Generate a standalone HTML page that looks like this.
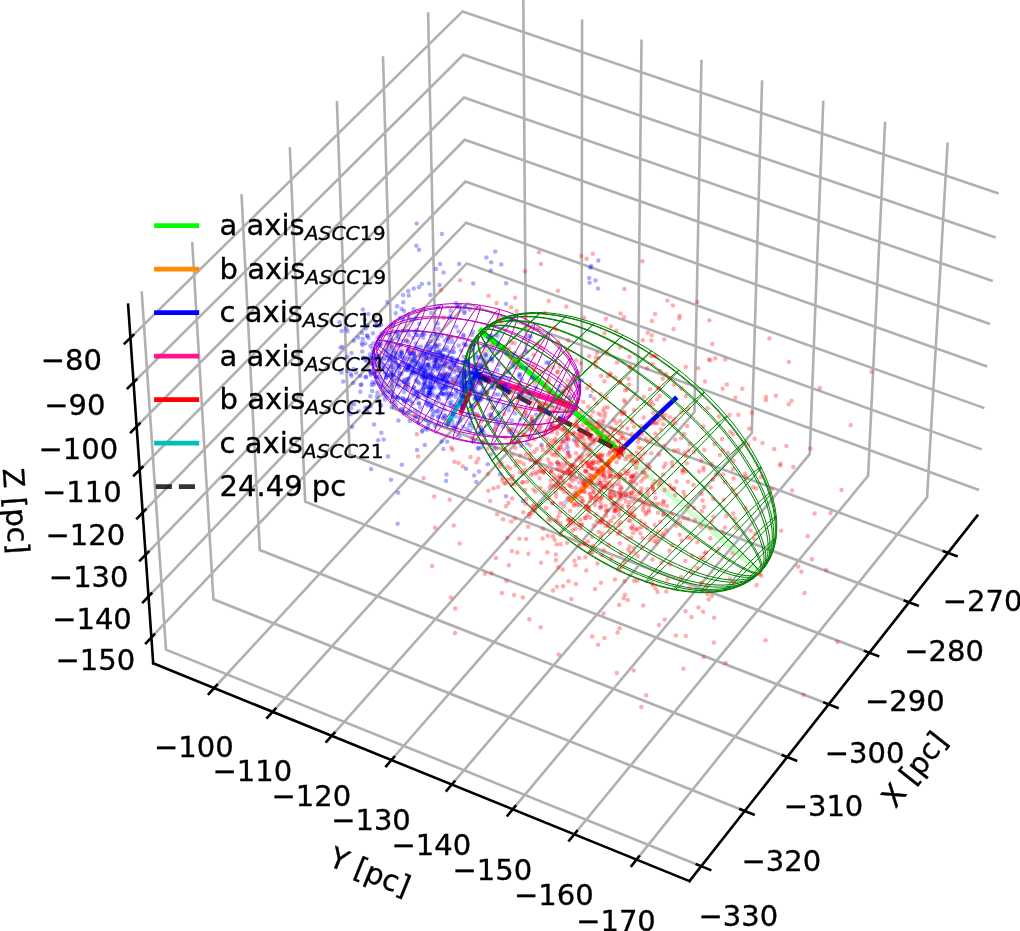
<!DOCTYPE html>
<html><head><meta charset="utf-8"><title>ASCC 19 / ASCC 21 ellipsoids</title>
<style>html,body{margin:0;padding:0;background:#fff}svg{display:block}</style></head>
<body>
<svg width="1020" height="931" viewBox="0 0 1020 931" style="display:block;font-family:'DejaVu Sans','Liberation Sans',sans-serif" stroke-linejoin="round">
<rect width="1020" height="931" fill="#fff"/>
<path d="M701.2 866.2L166 649.7L141.7 291.4M744.7 811L213.4 599.3L192.2 242.2M787.2 757.1L259.8 550L241.5 194.1M828.7 704.3L305.2 501.7L289.8 147.1M869.4 652.7L349.6 454.5L336.9 101.1M909.1 602.3L393.1 408.3L383 56.2M948 552.9L435.7 363L428.1 12.3M947.6 142.7L927.1 497.3L636.5 859.6M885.1 121.7L868.1 475.7L574.3 834.3M823.3 100.8L809.7 454.2L512.7 809.3M762.1 80.2L751.8 433L451.8 784.5M701.5 59.8L694.5 412L391.4 760M641.5 39.6L637.8 391.2L331.8 735.8M582.1 19.6L581.6 370.6L272.7 711.8M523.3 -0.2L525.9 350.2L214.2 688M151.4 637.4L467.4 303.5L979 490M148.6 596.4L466.7 263.4L981.7 449.4M145.6 554.8L466.1 222.7L984.4 408.1M142.7 512.6L465.4 181.6L987.2 366.4M139.7 469.8L464.7 139.8L990 324M136.6 426.5L464 97.6L992.8 281.1M133.5 382.5L463.3 54.8L995.7 237.6M130.4 337.9L462.6 11.4L998.6 193.5" fill="none" stroke="#b0b0b0" stroke-width="2.6" stroke-linejoin="miter"/>
<path d="M128.1 304.7L153.2 663.3M689.5 881.1L153.2 663.3M689.5 881.1L977.3 515.7" fill="none" stroke="#000" stroke-width="2.6" stroke-linecap="square"/>
<path d="M710.2 869.9L696.8 864.4M753.6 814.6L740.3 809.3M796 760.5L782.8 755.3M837.5 707.7L824.4 702.6M878.1 656L865 651.1M917.7 605.5L904.8 600.7M956.5 556.1L943.7 551.3M631.5 865.9L639 856.5M569.2 840.5L576.8 831.2M507.6 815.5L515.3 806.2M446.6 790.6L454.4 781.5M386.2 766.1L394.1 757M326.5 741.7L334.4 732.8M267.3 717.7L275.3 708.8M208.8 693.9L216.9 685.1M146 643.2L154.2 634.5M143.1 602.1L151.3 593.5M140.1 560.5L148.4 551.9M137.1 518.3L145.5 509.7M134 475.5L142.5 467M131 432.2L139.5 423.6M127.8 388.2L136.4 379.6M124.7 343.5L133.3 335.1" fill="none" stroke="#000" stroke-width="2.6" stroke-linecap="square"/>
<path d="M619.7 451.1L759.7 572.6" stroke="#00ff00" stroke-width="5.3" stroke-linecap="square" fill="none" stroke-opacity="0.2"/>
<path d="M619.7 451.1L666.4 403.7" stroke="#ff8c00" stroke-width="4.7" stroke-linecap="square" fill="none" stroke-opacity="0.2"/>
<path d="M619.7 451.1L564.7 502.9" stroke="#0000ff" stroke-width="4.7" stroke-linecap="square" fill="none" stroke-opacity="0.2"/>
<path d="M476.2 374.3L377.1 340.6" stroke="#ff1493" stroke-width="5.3" stroke-linecap="square" fill="none" stroke-opacity="0.2"/>
<path d="M476.2 374.3L491.4 336.2" stroke="#ff0000" stroke-width="4.7" stroke-linecap="square" fill="none" stroke-opacity="0.2"/>
<path d="M476.2 374.3L504.9 325.3" stroke="#00bfbf" stroke-width="4.7" stroke-linecap="square" fill="none" stroke-opacity="0.2"/>
<path d="M619.7 451.1L481.4 331" stroke="#00ff00" stroke-width="5.3" stroke-linecap="square" fill="none"/>
<path d="M619.7 451.1L571 500.5" stroke="#ff8c00" stroke-width="4.7" stroke-linecap="square" fill="none"/>
<path d="M619.7 451.1L675.1 398.9" stroke="#0000ff" stroke-width="4.7" stroke-linecap="square" fill="none"/>
<path d="M476.2 374.3L575.6 408.2" stroke="#ff1493" stroke-width="5.3" stroke-linecap="square" fill="none"/>
<path d="M476.2 374.3L461.5 411.5" stroke="#ff0000" stroke-width="4.7" stroke-linecap="square" fill="none"/>
<path d="M476.2 374.3L447.1 424.2" stroke="#00bfbf" stroke-width="4.7" stroke-linecap="square" fill="none"/>
<path d="M476.2 374.3L619.7 451.1" stroke="#000" stroke-opacity="0.8" stroke-width="4.7" stroke-dasharray="16.1 6.96" fill="none"/>
<path d="M575.6 408.2L574.6 410.1L573.4 411.9L571.9 413.6L570.1 415.1L568.1 416.6L565.8 418L563.3 419.2L560.5 420.3L557.5 421.3L554.3 422.1L550.9 422.9L547.3 423.4L543.5 423.9L539.5 424.2L535.4 424.4L531.1 424.4L526.7 424.3L522.1 424.1L517.4 423.8L512.6 423.3L507.7 422.6L502.7 421.9L497.7 421L492.6 420L487.4 418.9L482.2 417.6L477.1 416.2L471.9 414.7L466.7 413.1L461.5 411.5L456.4 409.7L451.4 407.8L446.4 405.8L441.5 403.7L436.7 401.6L432 399.3L427.4 397L422.9 394.7L418.6 392.3L414.5 389.8L410.5 387.3L406.7 384.8L403 382.2L399.6 379.6L396.3 377L393.3 374.4L390.5 371.8L388 369.1L385.6 366.5L383.5 363.9L381.7 361.4L380.1 358.9L378.8 356.4L377.7 353.9L377 351.5L376.4 349.2L376.2 346.9L376.2 344.7L376.5 342.6L377.1 340.6M575.6 408.2L574.2 410.9L572.4 413.5L570.5 416L568.2 418.4L565.7 420.6L563 422.7L560 424.7L556.8 426.6L553.4 428.3L549.8 429.9L546 431.3L542 432.5L537.8 433.6L533.4 434.5L528.9 435.3L524.3 435.9L519.5 436.3L514.6 436.6L509.7 436.7L504.6 436.6L499.5 436.4L494.3 435.9L489 435.4L483.7 434.6L478.4 433.7L473.1 432.6L467.8 431.4L462.6 430L457.3 428.5L452.1 426.8L447 425L442 423L437.1 420.9L432.2 418.7L427.5 416.3L422.9 413.9L418.5 411.3L414.2 408.6L410.1 405.9L406.2 403L402.4 400.1L398.9 397.1L395.5 394L392.4 390.9L389.5 387.8L386.8 384.6L384.4 381.3L382.2 378.1L380.3 374.8L378.7 371.5L377.3 368.3L376.2 365L375.3 361.8L374.7 358.6L374.4 355.5L374.4 352.3L374.7 349.3L375.2 346.3L376 343.4L377.1 340.6M575.6 408.2L573.9 411.3L571.9 414.4L569.6 417.3L567 420.1L564.2 422.8L561.2 425.3L558 427.8L554.5 430L550.8 432.1L546.9 434.1L542.8 435.9L538.6 437.5L534.1 438.9L529.5 440.2L524.8 441.3L519.9 442.2L514.9 442.9L509.9 443.5L504.7 443.8L499.4 444L494.1 443.9L488.7 443.7L483.3 443.3L477.9 442.7L472.5 441.9L467.1 440.9L461.7 439.7L456.4 438.4L451.1 436.9L445.9 435.2L440.8 433.4L435.7 431.3L430.8 429.2L426 426.9L421.4 424.4L416.8 421.8L412.5 419.1L408.3 416.2L404.3 413.3L400.5 410.2L396.9 407L393.6 403.8L390.4 400.5L387.5 397L384.8 393.6L382.4 390.1L380.3 386.5L378.3 382.9L376.7 379.3L375.3 375.6L374.3 372L373.4 368.3L372.9 364.7L372.7 361.1L372.7 357.5L373 354L373.6 350.5L374.5 347.1L375.7 343.8L377.1 340.6M575.6 408.2L573.8 411.3L571.7 414.4L569.3 417.3L566.7 420.1L563.9 422.8L560.7 425.4L557.4 427.8L553.8 430.1L550.1 432.3L546.1 434.2L541.9 436L537.6 437.7L533 439.1L528.4 440.4L523.6 441.5L518.6 442.4L513.5 443.2L508.4 443.7L503.1 444.1L497.8 444.2L492.4 444.2L486.9 444L481.5 443.6L476 443L470.5 442.2L465.1 441.2L459.6 440L454.3 438.7L448.9 437.2L443.7 435.5L438.5 433.6L433.5 431.6L428.5 429.4L423.7 427.1L419.1 424.6L414.6 422L410.2 419.3L406.1 416.4L402.1 413.4L398.4 410.3L394.8 407.1L391.5 403.9L388.5 400.5L385.6 397.1L383 393.6L380.7 390.1L378.6 386.5L376.8 382.9L375.3 379.2L374 375.6L373.1 371.9L372.4 368.3L372 364.7L371.8 361.1L372 357.5L372.5 354L373.2 350.5L374.2 347.1L375.5 343.8L377.1 340.6M575.6 408.2L574 410.9L572 413.5L569.8 416.1L567.3 418.5L564.6 420.8L561.6 422.9L558.4 425L555 426.9L551.3 428.6L547.5 430.2L543.4 431.7L539.2 433L534.7 434.1L530.2 435.1L525.4 435.9L520.5 436.5L515.5 437L510.4 437.3L505.2 437.4L499.9 437.3L494.6 437.1L489.2 436.7L483.7 436.1L478.3 435.4L472.8 434.4L467.3 433.4L461.9 432.1L456.5 430.7L451.2 429.1L445.9 427.4L440.7 425.6L435.6 423.6L430.6 421.4L425.8 419.2L421.1 416.8L416.5 414.3L412.1 411.7L407.9 409L403.9 406.1L400.1 403.2L396.5 400.3L393.1 397.2L389.9 394.1L387 391L384.3 387.8L381.9 384.5L379.8 381.3L377.9 378L376.3 374.7L374.9 371.4L373.9 368.1L373.1 364.9L372.6 361.6L372.4 358.5L372.5 355.3L372.8 352.2L373.5 349.2L374.4 346.2L375.6 343.4L377.1 340.6M575.6 408.2L574.3 410.1L572.7 411.9L570.9 413.7L568.7 415.3L566.4 416.8L563.7 418.2L560.9 419.5L557.8 420.6L554.4 421.7L550.9 422.6L547.1 423.3L543.2 424L539 424.5L534.7 424.8L530.2 425.1L525.5 425.1L520.7 425.1L515.8 424.9L510.8 424.5L505.7 424L500.5 423.4L495.2 422.7L489.8 421.8L484.5 420.8L479.1 419.6L473.7 418.3L468.3 416.9L462.9 415.4L457.5 413.8L452.2 412.1L447 410.2L441.9 408.3L436.8 406.2L431.9 404.1L427.1 401.9L422.4 399.6L417.9 397.3L413.5 394.8L409.4 392.4L405.4 389.9L401.6 387.3L398 384.7L394.6 382.1L391.5 379.5L388.6 376.8L386 374.1L383.6 371.5L381.4 368.9L379.5 366.2L377.9 363.6L376.6 361.1L375.5 358.5L374.7 356.1L374.2 353.6L374 351.3L374.1 349L374.4 346.8L375 344.6L375.9 342.5L377.1 340.6M575.6 408.2L574.8 409L573.8 409.8L572.4 410.5L570.8 411L569 411.5L566.8 411.9L564.4 412.1L561.8 412.3L559 412.4L555.9 412.3L552.5 412.2L549 411.9L545.2 411.5L541.3 411.1L537.2 410.5L532.9 409.8L528.4 409.1L523.8 408.2L519.1 407.3L514.2 406.2L509.2 405.1L504.2 403.8L499 402.5L493.8 401.1L488.5 399.7L483.2 398.1L477.9 396.5L472.6 394.9L467.2 393.1L462 391.4L456.7 389.6L451.5 387.7L446.4 385.8L441.3 383.9L436.4 381.9L431.6 379.9L426.9 377.9L422.3 375.9L417.9 373.9L413.6 371.9L409.6 369.9L405.7 368L402 366L398.6 364.1L395.3 362.2L392.3 360.3L389.5 358.5L387 356.7L384.7 355L382.6 353.3L380.9 351.7L379.3 350.2L378.1 348.7L377.1 347.3L376.4 345.9L376 344.7L375.9 343.5L376 342.5L376.4 341.5L377.1 340.6M575.6 408.2L575.4 407.8L575 407.4L574.3 406.9L573.2 406.3L572 405.6L570.4 404.8L568.6 403.9L566.6 403L564.3 402L561.7 400.9L558.9 399.7L555.9 398.4L552.6 397.1L549.2 395.7L545.5 394.3L541.6 392.8L537.5 391.2L533.3 389.6L528.9 387.9L524.4 386.2L519.7 384.5L514.9 382.8L510 381L505 379.2L499.9 377.4L494.7 375.6L489.5 373.7L484.2 371.9L478.9 370.1L473.7 368.3L468.4 366.5L463.1 364.7L457.9 363L452.8 361.3L447.7 359.6L442.7 358L437.7 356.4L432.9 354.9L428.3 353.4L423.7 352L419.3 350.6L415.1 349.3L411 348.1L407.2 347L403.5 345.9L400 344.9L396.8 344L393.7 343.2L390.9 342.5L388.4 341.9L386.1 341.3L384 340.8L382.2 340.5L380.7 340.2L379.4 340L378.4 340L377.7 340L377.2 340.1L377 340.3L377.1 340.6M575.6 408.2L576.1 406.7L576.2 405.1L576.1 403.4L575.7 401.7L575 399.9L574.1 398L572.9 396L571.4 394L569.7 391.9L567.7 389.8L565.4 387.6L562.9 385.4L560.1 383.1L557.1 380.8L553.9 378.5L550.5 376.2L546.8 373.9L543 371.6L539 369.3L534.8 367L530.4 364.7L525.8 362.4L521.2 360.2L516.4 358L511.5 355.9L506.5 353.8L501.4 351.7L496.2 349.8L491 347.8L485.7 346L480.4 344.3L475.1 342.6L469.8 341L464.6 339.5L459.3 338.1L454.1 336.8L449 335.7L444 334.6L439 333.6L434.2 332.8L429.5 332L424.9 331.4L420.4 330.9L416.1 330.5L412 330.3L408.1 330.1L404.4 330.1L400.8 330.2L397.5 330.5L394.4 330.8L391.6 331.3L388.9 331.9L386.5 332.6L384.4 333.4L382.5 334.3L380.9 335.4L379.5 336.5L378.5 337.8L377.6 339.1L377.1 340.6M575.6 408.2L576.6 405.7L577.3 403.2L577.7 400.6L577.9 397.9L577.7 395.1L577.3 392.3L576.6 389.5L575.6 386.5L574.4 383.6L572.9 380.6L571.1 377.6L569 374.6L566.7 371.6L564.1 368.6L561.3 365.6L558.3 362.6L555 359.7L551.5 356.7L547.8 353.9L543.9 351.1L539.8 348.3L535.5 345.7L531.1 343.1L526.5 340.6L521.7 338.2L516.9 335.8L511.9 333.6L506.8 331.5L501.7 329.6L496.4 327.7L491.2 326L485.8 324.4L480.5 323L475.1 321.6L469.8 320.5L464.4 319.5L459.1 318.6L453.9 317.9L448.7 317.4L443.6 317L438.6 316.8L433.7 316.7L428.9 316.8L424.2 317L419.7 317.4L415.4 318L411.2 318.7L407.3 319.6L403.5 320.6L399.9 321.8L396.5 323.1L393.4 324.5L390.5 326.1L387.8 327.8L385.4 329.7L383.2 331.6L381.3 333.7L379.6 335.9L378.2 338.2L377.1 340.6M575.6 408.2L577 405.1L578.1 401.9L578.9 398.7L579.4 395.4L579.6 392L579.6 388.6L579.3 385.1L578.7 381.6L577.8 378.1L576.6 374.6L575.2 371.1L573.4 367.5L571.4 364L569.2 360.5L566.7 357.1L563.9 353.7L560.9 350.4L557.7 347.1L554.2 343.9L550.5 340.8L546.6 337.7L542.5 334.8L538.3 332L533.8 329.3L529.2 326.7L524.5 324.3L519.6 321.9L514.6 319.8L509.5 317.8L504.3 315.9L499.1 314.2L493.7 312.7L488.3 311.3L482.9 310.1L477.5 309.1L472.1 308.3L466.6 307.6L461.3 307.2L455.9 306.9L450.6 306.8L445.4 306.9L440.3 307.2L435.3 307.7L430.3 308.3L425.6 309.1L420.9 310.1L416.4 311.3L412.1 312.7L408 314.2L404 315.9L400.3 317.7L396.8 319.8L393.4 321.9L390.4 324.2L387.5 326.6L384.9 329.2L382.6 331.9L380.5 334.7L378.6 337.6L377.1 340.6M575.6 408.2L577.2 404.9L578.4 401.5L579.4 398L580.1 394.5L580.6 390.9L580.7 387.3L580.6 383.6L580.1 379.9L579.4 376.2L578.4 372.5L577.1 368.8L575.6 365.1L573.7 361.5L571.6 357.8L569.2 354.3L566.6 350.7L563.8 347.3L560.7 343.9L557.3 340.6L553.8 337.4L550 334.2L546 331.2L541.8 328.4L537.5 325.6L533 323L528.3 320.5L523.5 318.2L518.5 316L513.5 314L508.3 312.1L503.1 310.4L497.8 308.9L492.4 307.6L487 306.5L481.5 305.5L476 304.7L470.6 304.2L465.1 303.8L459.7 303.6L454.4 303.6L449 303.8L443.8 304.2L438.7 304.7L433.6 305.5L428.7 306.5L423.9 307.6L419.3 309L414.8 310.5L410.5 312.2L406.3 314L402.4 316L398.6 318.2L395.1 320.5L391.8 323L388.7 325.6L385.9 328.4L383.3 331.3L381 334.3L378.9 337.4L377.1 340.6M575.6 408.2L577.1 405.1L578.4 401.9L579.3 398.7L580 395.4L580.4 392L580.5 388.6L580.3 385.1L579.8 381.7L579.1 378.2L578 374.7L576.7 371.2L575.1 367.7L573.3 364.2L571.1 360.8L568.7 357.4L566.1 354L563.2 350.7L560.1 347.5L556.8 344.3L553.2 341.2L549.4 338.2L545.5 335.4L541.3 332.6L537 329.9L532.5 327.4L527.8 325L523.1 322.7L518.1 320.6L513.1 318.6L508 316.7L502.8 315.1L497.5 313.5L492.1 312.2L486.7 311L481.3 310L475.9 309.2L470.5 308.5L465 308L459.7 307.7L454.3 307.6L449 307.7L443.8 307.9L438.7 308.4L433.7 309L428.8 309.8L424 310.7L419.4 311.9L414.9 313.2L410.6 314.7L406.4 316.3L402.5 318.1L398.8 320.1L395.2 322.2L391.9 324.4L388.8 326.8L386 329.3L383.4 332L381 334.7L378.9 337.6L377.1 340.6M575.6 408.2L576.9 405.7L577.8 403.2L578.5 400.5L578.9 397.8L579.1 395.1L578.9 392.3L578.5 389.4L577.8 386.6L576.8 383.6L575.5 380.7L574 377.7L572.2 374.8L570.1 371.8L567.8 368.8L565.3 365.9L562.5 363L559.4 360.1L556.2 357.3L552.7 354.5L549 351.8L545.2 349.1L541.1 346.5L536.9 344L532.5 341.5L527.9 339.2L523.2 336.9L518.4 334.8L513.5 332.7L508.5 330.8L503.4 329L498.2 327.3L493 325.8L487.7 324.3L482.4 323L477 321.9L471.7 320.9L466.3 320L461 319.3L455.8 318.7L450.6 318.3L445.4 318L440.4 317.9L435.4 318L430.6 318.1L425.8 318.5L421.2 319L416.8 319.6L412.5 320.4L408.3 321.4L404.4 322.5L400.7 323.7L397.1 325.1L393.8 326.6L390.7 328.2L387.8 330L385.1 331.9L382.7 333.9L380.6 336L378.7 338.2L377.1 340.6M575.6 408.2L576.4 406.7L577 405.1L577.2 403.4L577.2 401.6L576.9 399.8L576.3 397.9L575.4 395.9L574.3 393.9L572.9 391.9L571.3 389.8L569.4 387.6L567.2 385.4L564.8 383.2L562.2 381L559.3 378.7L556.2 376.5L552.9 374.2L549.4 372L545.7 369.7L541.8 367.5L537.7 365.3L533.5 363.1L529.1 360.9L524.6 358.8L519.9 356.7L515.2 354.7L510.3 352.7L505.4 350.8L500.3 349L495.2 347.2L490.1 345.5L484.9 343.9L479.7 342.3L474.4 340.9L469.2 339.5L464 338.2L458.9 337L453.7 336L448.7 335L443.7 334.1L438.8 333.4L434 332.7L429.3 332.2L424.7 331.7L420.2 331.4L415.9 331.2L411.8 331.2L407.9 331.2L404.1 331.4L400.5 331.6L397.1 332L393.9 332.5L391 333.2L388.2 333.9L385.8 334.7L383.5 335.7L381.5 336.8L379.8 337.9L378.3 339.2L377.1 340.6M575.6 408.2L575.9 407.8L575.8 407.3L575.5 406.8L574.9 406.2L574 405.5L572.9 404.7L571.5 403.8L569.9 402.8L568 401.8L565.8 400.7L563.4 399.5L560.8 398.2L558 396.9L554.9 395.5L551.6 394.1L548.2 392.6L544.5 391.1L540.7 389.5L536.6 387.9L532.5 386.3L528.1 384.6L523.7 382.9L519.1 381.2L514.4 379.5L509.6 377.7L504.7 375.9L499.8 374.2L494.7 372.4L489.7 370.6L484.6 368.9L479.4 367.2L474.3 365.5L469.2 363.8L464.1 362.1L459 360.5L454 358.9L449 357.3L444.1 355.8L439.3 354.4L434.5 353L429.9 351.6L425.4 350.3L421.1 349.1L416.9 347.9L412.8 346.9L408.9 345.8L405.2 344.9L401.7 344.1L398.3 343.3L395.2 342.6L392.3 342L389.6 341.5L387.2 341L385 340.7L383 340.4L381.3 340.3L379.9 340.2L378.7 340.2L377.7 340.4L377.1 340.6M575.6 408.2L575.2 409L574.6 409.7L573.6 410.4L572.4 410.9L571 411.3L569.2 411.7L567.3 411.9L565.1 412L562.6 412L559.9 411.9L557 411.8L553.9 411.5L550.6 411.1L547 410.6L543.3 410L539.4 409.4L535.4 408.6L531.1 407.7L526.8 406.8L522.3 405.7L517.7 404.6L513 403.4L508.1 402.1L503.2 400.8L498.3 399.3L493.3 397.8L488.2 396.3L483.1 394.7L478 393L472.8 391.3L467.7 389.5L462.7 387.7L457.6 385.9L452.6 384L447.7 382.1L442.8 380.2L438 378.2L433.4 376.3L428.8 374.3L424.4 372.4L420.1 370.4L415.9 368.5L411.9 366.5L408.1 364.6L404.5 362.7L401 360.9L397.8 359.1L394.7 357.3L391.9 355.5L389.3 353.8L387 352.2L384.8 350.6L383 349.1L381.3 347.7L380 346.3L378.9 345L378 343.7L377.4 342.6L377.1 341.5L377.1 340.6M571 414.4L570.4 415.3L570 416.1L569.5 416.9L569.1 417.5L568.8 418L568.5 418.5L568.3 418.8L568.1 418.9L568 419L568 419L568 418.8L568.1 418.5L568.2 418.1L568.4 417.6L568.7 416.9L569 416.2L569.4 415.4L569.8 414.5L570.3 413.5L570.8 412.5L571.3 411.4L571.9 410.2L572.5 409.1L573.1 407.9L573.7 406.7L574.3 405.6L574.9 404.4L575.5 403.3L576.1 402.2L576.7 401.2L577.2 400.3L577.7 399.4L578.1 398.6L578.6 397.9L578.9 397.4L579.2 396.9L579.5 396.5L579.7 396.3L579.8 396.2L579.9 396.2L579.9 396.3L579.8 396.5L579.7 396.9L579.5 397.4L579.3 398L579 398.6L578.7 399.4L578.3 400.3L577.8 401.2L577.3 402.2L576.8 403.3L576.3 404.4L575.7 405.5L575.1 406.7L574.5 407.9L573.9 409L573.3 410.2L572.7 411.3L572.1 412.4L571.5 413.4ZM563.1 419.3L562.1 421L561.1 422.7L560.3 424.1L559.5 425.3L558.9 426.4L558.3 427.2L557.8 427.8L557.5 428.2L557.3 428.3L557.2 428.2L557.2 427.9L557.4 427.3L557.7 426.5L558.1 425.5L558.6 424.3L559.2 422.8L559.9 421.2L560.8 419.4L561.7 417.5L562.7 415.5L563.7 413.3L564.8 411.1L566 408.8L567.2 406.5L568.4 404.2L569.6 401.9L570.8 399.6L572 397.4L573.1 395.3L574.2 393.3L575.3 391.4L576.3 389.7L577.2 388.2L578 386.9L578.7 385.7L579.3 384.8L579.8 384.1L580.2 383.7L580.5 383.4L580.6 383.4L580.6 383.7L580.5 384.2L580.3 384.9L579.9 385.8L579.5 387L578.9 388.3L578.2 389.8L577.4 391.5L576.6 393.4L575.6 395.3L574.6 397.4L573.5 399.6L572.4 401.8L571.2 404.1L570 406.4L568.8 408.7L567.6 411L566.5 413.2L565.3 415.3L564.2 417.3ZM552.3 422.6L550.9 425.2L549.5 427.5L548.2 429.6L547.1 431.4L546.1 433L545.3 434.2L544.6 435L544.1 435.6L543.8 435.8L543.7 435.7L543.7 435.2L543.9 434.3L544.3 433.2L544.9 431.7L545.6 429.9L546.5 427.8L547.6 425.5L548.8 422.9L550.1 420.1L551.5 417.1L553.1 414L554.7 410.7L556.4 407.4L558.1 404L559.9 400.6L561.7 397.2L563.4 393.9L565.2 390.7L566.8 387.6L568.5 384.7L570 382L571.4 379.5L572.7 377.3L573.9 375.4L575 373.7L575.9 372.4L576.6 371.4L577.2 370.7L577.6 370.4L577.8 370.4L577.8 370.8L577.6 371.5L577.3 372.5L576.8 373.9L576.1 375.6L575.3 377.5L574.3 379.8L573.2 382.2L571.9 384.9L570.5 387.8L569 390.8L567.5 394L565.8 397.2L564.2 400.6L562.4 403.9L560.7 407.2L558.9 410.5L557.2 413.7L555.5 416.8L553.9 419.8ZM539.1 424.2L537.2 427.5L535.4 430.5L533.8 433.2L532.3 435.6L531.1 437.5L530 439.1L529.1 440.2L528.4 440.9L528 441.2L527.8 441L527.8 440.4L528.1 439.3L528.6 437.8L529.3 435.9L530.2 433.6L531.4 431L532.7 428L534.2 424.7L535.9 421.1L537.8 417.2L539.7 413.2L541.8 409L544 404.8L546.2 400.4L548.5 396.1L550.7 391.7L553 387.5L555.2 383.4L557.4 379.4L559.5 375.7L561.5 372.3L563.3 369.1L565 366.2L566.5 363.8L567.9 361.7L569 360L570 358.7L570.7 357.8L571.2 357.4L571.5 357.5L571.5 358L571.3 358.9L570.9 360.3L570.3 362L569.4 364.2L568.3 366.7L567.1 369.5L565.6 372.7L564 376.2L562.3 379.8L560.4 383.7L558.4 387.7L556.3 391.9L554.2 396.1L552 400.4L549.7 404.7L547.5 408.9L545.3 412.9L543.1 416.9L541.1 420.7ZM523.7 424.2L521.5 428.1L519.4 431.7L517.4 434.8L515.7 437.6L514.2 439.9L512.9 441.8L511.8 443.1L511 443.9L510.5 444.3L510.2 444.1L510.2 443.3L510.5 442.1L511.1 440.3L511.9 438.1L513 435.4L514.3 432.2L515.9 428.7L517.7 424.7L519.7 420.5L521.8 415.9L524.2 411.1L526.6 406.2L529.2 401.1L531.8 395.9L534.5 390.8L537.2 385.6L539.9 380.6L542.5 375.7L545.1 371.1L547.6 366.7L549.9 362.6L552.1 358.8L554.2 355.4L556 352.5L557.6 350L559 348L560.1 346.5L561 345.5L561.6 345.1L561.9 345.2L562 345.8L561.8 346.9L561.3 348.5L560.5 350.6L559.5 353.1L558.3 356.1L556.8 359.5L555.1 363.3L553.2 367.4L551.2 371.7L548.9 376.3L546.6 381.1L544.1 386L541.6 391L539 396L536.4 401.1L533.7 406L531.1 410.9L528.6 415.5L526.1 420ZM506.8 422.5L504.3 426.9L501.9 430.9L499.7 434.4L497.8 437.5L496 440.1L494.6 442.2L493.3 443.7L492.4 444.6L491.8 445L491.5 444.8L491.5 443.9L491.7 442.5L492.3 440.6L493.2 438L494.4 435L495.9 431.5L497.7 427.5L499.7 423L501.9 418.3L504.3 413.1L506.9 407.8L509.7 402.2L512.5 396.5L515.5 390.7L518.5 384.9L521.5 379.1L524.6 373.5L527.5 368L530.4 362.8L533.2 357.8L535.9 353.2L538.4 349L540.6 345.3L542.7 342L544.5 339.2L546.1 337L547.4 335.3L548.4 334.2L549.1 333.7L549.5 333.8L549.5 334.5L549.3 335.8L548.8 337.6L548 340L546.9 342.9L545.5 346.2L543.8 350L542 354.2L539.9 358.8L537.6 363.7L535.1 368.8L532.5 374.2L529.7 379.7L526.9 385.3L524 391L521 396.6L518.1 402.1L515.1 407.6L512.3 412.8L509.5 417.8ZM488.9 419.2L486.2 423.9L483.6 428.2L481.3 432L479.1 435.3L477.2 438.1L475.6 440.3L474.3 441.9L473.3 442.9L472.6 443.3L472.2 443L472.2 442.2L472.4 440.7L473.1 438.5L474 435.8L475.3 432.5L476.8 428.7L478.7 424.4L480.8 419.7L483.2 414.5L485.7 409L488.5 403.3L491.5 397.3L494.6 391.1L497.7 384.9L501 378.6L504.2 372.4L507.5 366.4L510.7 360.5L513.8 354.9L516.9 349.5L519.7 344.6L522.4 340.1L524.9 336.1L527.1 332.5L529.1 329.6L530.8 327.2L532.2 325.4L533.3 324.3L534.1 323.8L534.5 323.9L534.6 324.6L534.4 326L533.9 328L533 330.5L531.8 333.6L530.4 337.3L528.6 341.4L526.6 345.9L524.4 350.8L521.9 356.1L519.3 361.6L516.5 367.4L513.5 373.3L510.5 379.3L507.4 385.3L504.2 391.4L501 397.3L497.9 403.2L494.8 408.8L491.8 414.1ZM470.6 414.4L467.8 419.2L465.1 423.6L462.7 427.6L460.4 431L458.5 433.9L456.8 436.2L455.4 437.8L454.3 438.9L453.5 439.3L453.1 439L453 438.1L453.3 436.5L453.9 434.3L454.8 431.5L456.1 428.1L457.7 424.1L459.6 419.7L461.8 414.7L464.2 409.4L466.9 403.7L469.7 397.7L472.8 391.5L475.9 385.2L479.2 378.7L482.6 372.2L486 365.8L489.3 359.5L492.7 353.4L495.9 347.6L499.1 342.1L502 337L504.8 332.3L507.4 328.2L509.8 324.5L511.8 321.5L513.6 319L515.1 317.2L516.3 316L517.1 315.5L517.6 315.7L517.7 316.4L517.5 317.9L517 319.9L516.1 322.6L515 325.8L513.5 329.6L511.7 333.8L509.6 338.5L507.3 343.6L504.8 349.1L502.1 354.8L499.2 360.7L496.1 366.9L493 373.1L489.8 379.4L486.5 385.6L483.2 391.8L480 397.8L476.8 403.6L473.6 409.2ZM452.6 408.2L449.7 413.1L447 417.5L444.5 421.4L442.3 424.8L440.3 427.7L438.6 429.9L437.1 431.6L436 432.6L435.2 433L434.8 432.7L434.7 431.8L434.9 430.2L435.5 428L436.4 425.2L437.6 421.8L439.2 417.8L441.1 413.4L443.2 408.4L445.6 403.1L448.3 397.4L451.1 391.4L454.2 385.2L457.3 378.8L460.6 372.4L464 365.9L467.4 359.5L470.7 353.2L474.1 347.1L477.3 341.3L480.5 335.8L483.5 330.7L486.3 326L488.9 321.9L491.3 318.3L493.4 315.2L495.2 312.8L496.7 311L497.9 309.8L498.7 309.3L499.3 309.4L499.4 310.2L499.3 311.7L498.8 313.7L497.9 316.4L496.8 319.6L495.3 323.4L493.5 327.7L491.5 332.4L489.2 337.5L486.7 342.9L484 348.6L481.1 354.6L478.1 360.7L475 367L471.7 373.2L468.5 379.5L465.2 385.6L461.9 391.7L458.7 397.5L455.6 403ZM435.3 400.9L432.5 405.6L429.9 409.8L427.5 413.6L425.3 416.9L423.3 419.7L421.6 421.8L420.2 423.4L419.1 424.4L418.3 424.8L417.9 424.5L417.7 423.6L417.9 422.1L418.5 419.9L419.3 417.2L420.5 413.9L422 410L423.8 405.7L425.8 400.9L428.1 395.8L430.7 390.3L433.4 384.5L436.3 378.5L439.4 372.3L442.6 366.1L445.8 359.9L449.1 353.7L452.3 347.6L455.6 341.7L458.7 336.1L461.8 330.8L464.7 325.9L467.4 321.4L470 317.4L472.3 313.9L474.3 311L476.1 308.6L477.6 306.9L478.8 305.7L479.6 305.3L480.1 305.4L480.3 306.2L480.2 307.6L479.8 309.6L479 312.2L477.9 315.3L476.5 319L474.8 323.1L472.9 327.6L470.7 332.6L468.3 337.8L465.7 343.4L462.9 349.1L460 355L457 361.1L453.9 367.1L450.7 373.2L447.5 379.1L444.4 384.9L441.3 390.5L438.2 395.9ZM419.4 392.7L416.8 397L414.3 401L412 404.5L410 407.6L408.1 410.1L406.5 412.1L405.2 413.6L404.2 414.5L403.4 414.8L403 414.6L402.8 413.7L403 412.2L403.4 410.2L404.2 407.7L405.3 404.6L406.7 401L408.3 397L410.2 392.5L412.3 387.7L414.7 382.6L417.2 377.2L419.9 371.6L422.8 365.9L425.7 360.1L428.7 354.3L431.8 348.6L434.8 342.9L437.8 337.5L440.8 332.3L443.6 327.3L446.3 322.8L448.9 318.6L451.3 314.9L453.4 311.6L455.4 308.9L457 306.7L458.4 305.1L459.6 304.1L460.4 303.6L460.9 303.7L461.1 304.5L461 305.8L460.6 307.6L459.9 310.1L458.9 313L457.7 316.4L456.1 320.2L454.4 324.5L452.3 329L450.1 334L447.7 339.1L445.1 344.5L442.4 350L439.6 355.6L436.7 361.3L433.8 366.9L430.8 372.4L427.9 377.8L424.9 383.1L422.1 388ZM405.3 383.9L403 387.7L400.8 391.3L398.8 394.4L396.9 397.1L395.3 399.4L393.8 401.2L392.6 402.4L391.7 403.2L391 403.5L390.6 403.2L390.4 402.5L390.5 401.2L390.9 399.4L391.6 397.1L392.6 394.3L393.8 391.1L395.2 387.5L396.9 383.5L398.8 379.3L400.9 374.7L403.1 369.9L405.5 364.9L408 359.8L410.6 354.7L413.3 349.5L416 344.4L418.7 339.4L421.4 334.5L424.1 329.9L426.6 325.5L429 321.4L431.3 317.7L433.5 314.4L435.4 311.5L437.1 309.1L438.7 307.1L439.9 305.7L441 304.8L441.7 304.4L442.2 304.5L442.4 305.1L442.4 306.3L442 308L441.4 310.1L440.6 312.7L439.5 315.7L438.1 319.2L436.5 323L434.7 327.1L432.8 331.4L430.6 336L428.3 340.8L425.9 345.8L423.4 350.8L420.8 355.8L418.2 360.8L415.6 365.8L412.9 370.6L410.3 375.3L407.8 379.7ZM393.7 374.7L391.7 378L389.8 380.9L388.1 383.6L386.5 385.8L385.1 387.7L383.9 389.2L382.9 390.3L382 391L381.4 391.2L381.1 391L380.9 390.3L381 389.2L381.4 387.6L381.9 385.7L382.7 383.4L383.7 380.6L384.9 377.6L386.3 374.3L387.9 370.6L389.7 366.8L391.6 362.7L393.6 358.5L395.7 354.3L397.9 349.9L400.2 345.6L402.4 341.2L404.7 337L407 332.9L409.2 329L411.4 325.3L413.4 321.9L415.4 318.8L417.2 316L418.8 313.5L420.3 311.5L421.6 309.8L422.7 308.6L423.6 307.8L424.2 307.5L424.7 307.6L424.9 308.1L424.8 309.1L424.6 310.5L424.1 312.3L423.4 314.5L422.5 317.1L421.3 320L420 323.2L418.5 326.7L416.9 330.4L415.1 334.3L413.1 338.3L411.1 342.5L409 346.7L406.8 351L404.6 355.2L402.3 359.4L400.1 363.5L397.9 367.4L395.7 371.2ZM384.7 365.5L383.2 368L381.7 370.3L380.4 372.4L379.1 374.2L378 375.6L377 376.8L376.2 377.6L375.6 378.1L375.1 378.3L374.8 378.1L374.7 377.6L374.8 376.7L375.1 375.5L375.5 374L376.1 372.1L376.9 370L377.8 367.6L378.9 365L380.1 362.2L381.5 359.2L383 356L384.5 352.7L386.2 349.4L387.9 346L389.7 342.6L391.4 339.3L393.2 336L395 332.8L396.7 329.7L398.4 326.8L400 324.2L401.5 321.7L403 319.5L404.3 317.6L405.4 316L406.5 314.8L407.3 313.8L408 313.2L408.5 312.9L408.9 313L409.1 313.4L409.1 314.2L408.9 315.3L408.5 316.7L408 318.4L407.2 320.4L406.4 322.6L405.4 325.1L404.2 327.9L402.9 330.8L401.5 333.8L400 337L398.4 340.2L396.7 343.6L395 346.9L393.3 350.2L391.5 353.5L389.8 356.7L388.1 359.8L386.4 362.7ZM378.9 356.5L377.8 358.3L376.8 359.8L375.9 361.3L375 362.5L374.2 363.5L373.6 364.3L373 364.8L372.6 365.2L372.3 365.3L372.1 365.1L372 364.8L372 364.1L372.2 363.3L372.5 362.3L372.9 361L373.4 359.5L374.1 357.9L374.8 356.1L375.7 354.2L376.6 352.1L377.6 349.9L378.7 347.7L379.8 345.4L381 343.1L382.2 340.8L383.4 338.5L384.6 336.2L385.8 334L387 332L388.2 330L389.3 328.1L390.3 326.5L391.3 325L392.2 323.7L393 322.6L393.7 321.7L394.3 321L394.8 320.6L395.2 320.4L395.4 320.5L395.6 320.7L395.6 321.3L395.4 322L395.2 323L394.8 324.1L394.3 325.5L393.7 327.1L393 328.8L392.2 330.6L391.4 332.6L390.4 334.7L389.4 336.9L388.3 339.2L387.1 341.4L386 343.7L384.8 346L383.6 348.3L382.4 350.5L381.2 352.6L380 354.6ZM376.3 348.1L375.7 349L375.2 349.8L374.7 350.5L374.3 351.1L373.9 351.7L373.6 352.1L373.3 352.3L373.1 352.5L372.9 352.5L372.8 352.5L372.8 352.3L372.8 352L372.9 351.5L373 351L373.2 350.4L373.5 349.6L373.8 348.8L374.2 347.9L374.7 346.9L375.1 345.8L375.6 344.7L376.2 343.6L376.7 342.4L377.3 341.3L377.9 340.1L378.6 338.9L379.2 337.8L379.8 336.7L380.4 335.6L381 334.6L381.6 333.7L382.1 332.8L382.6 332.1L383 331.4L383.5 330.8L383.8 330.4L384.1 330L384.4 329.8L384.6 329.7L384.7 329.8L384.8 329.9L384.8 330.2L384.7 330.5L384.6 331L384.4 331.6L384.2 332.3L383.9 333.1L383.5 334L383.1 334.9L382.7 335.9L382.2 337L381.6 338.1L381.1 339.3L380.5 340.4L379.9 341.6L379.3 342.8L378.7 343.9L378.1 345L377.5 346.1L376.9 347.1Z" fill="none" stroke="#bf00bf" stroke-width="1.0" stroke-linejoin="round"/>
<path d="M481.4 331L479 333.4L477.1 336.2L475.5 339.3L474.3 342.7L473.5 346.4L473.1 350.4L473.2 354.7L473.6 359.3L474.4 364.1L475.6 369.2L477.3 374.5L479.3 380.1L481.7 385.8L484.5 391.8L487.7 397.9L491.2 404.2L495.2 410.6L499.4 417.1L504 423.8L509 430.5L514.2 437.4L519.8 444.2L525.7 451.1L531.8 458L538.2 464.9L544.8 471.8L551.6 478.6L558.6 485.3L565.8 491.9L573.2 498.5L580.7 504.9L588.3 511.2L596 517.2L603.7 523.2L611.6 528.9L619.4 534.4L627.2 539.6L635 544.6L642.8 549.4L650.5 553.8L658.1 558L665.6 561.9L673 565.5L680.2 568.7L687.2 571.6L694 574.2L700.6 576.4L707 578.3L713.1 579.8L719 580.9L724.6 581.7L729.8 582.1L734.8 582.2L739.4 581.9L743.7 581.2L747.6 580.2L751.2 578.8L754.4 577.1L757.2 575L759.7 572.6M481.4 331L479.8 332.6L478.7 334.6L477.9 337L477.5 339.6L477.6 342.6L478 345.8L478.8 349.4L479.9 353.2L481.5 357.3L483.5 361.7L485.8 366.4L488.5 371.3L491.6 376.4L495 381.7L498.8 387.3L503 393L507.4 398.9L512.2 405L517.3 411.2L522.7 417.5L528.4 423.9L534.3 430.4L540.5 437L546.9 443.6L553.5 450.3L560.3 456.9L567.3 463.6L574.5 470.2L581.7 476.8L589.1 483.3L596.6 489.8L604.1 496.1L611.7 502.3L619.3 508.3L627 514.2L634.6 519.9L642.1 525.5L649.6 530.8L657 535.9L664.3 540.7L671.5 545.3L678.5 549.6L685.3 553.7L692 557.5L698.4 560.9L704.7 564.1L710.6 566.9L716.3 569.4L721.8 571.6L726.9 573.4L731.8 574.9L736.3 576L740.5 576.8L744.3 577.3L747.8 577.3L750.9 577.1L753.7 576.5L756.1 575.5L758.1 574.2L759.7 572.6M481.4 331L480.8 331.8L480.5 332.9L480.7 334.4L481.2 336.1L482.1 338.2L483.4 340.7L485.1 343.4L487.1 346.4L489.6 349.7L492.3 353.3L495.5 357.2L499 361.4L502.8 365.8L506.9 370.4L511.4 375.3L516.2 380.4L521.3 385.7L526.7 391.2L532.3 396.9L538.2 402.7L544.3 408.7L550.6 414.8L557.2 421.1L563.9 427.4L570.8 433.7L577.8 440.2L585 446.7L592.2 453.2L599.6 459.6L607 466.1L614.4 472.6L621.9 478.9L629.4 485.2L636.8 491.5L644.2 497.5L651.5 503.5L658.8 509.3L665.9 515L672.9 520.5L679.7 525.8L686.4 530.8L692.8 535.7L699.1 540.3L705.2 544.6L711 548.7L716.5 552.5L721.7 556L726.7 559.3L731.4 562.2L735.7 564.8L739.7 567.1L743.4 569L746.7 570.7L749.7 571.9L752.3 572.9L754.6 573.5L756.4 573.8L757.9 573.7L759 573.3L759.7 572.6M481.4 331L481.7 330.9L482.5 331.1L483.6 331.6L485.1 332.5L486.9 333.7L489.2 335.3L491.8 337.1L494.7 339.3L498 341.8L501.7 344.6L505.6 347.6L509.9 351L514.5 354.7L519.4 358.6L524.6 362.8L530.1 367.2L535.8 371.9L541.8 376.8L548 382L554.4 387.3L561 392.8L567.7 398.5L574.6 404.3L581.7 410.3L588.8 416.4L596.1 422.6L603.4 428.9L610.8 435.2L618.2 441.6L625.6 448L633 454.5L640.4 460.9L647.7 467.3L655 473.7L662.1 480L669.1 486.2L676 492.3L682.8 498.3L689.3 504.2L695.7 509.9L701.8 515.5L707.7 520.9L713.4 526.1L718.8 531L723.9 535.8L728.7 540.3L733.3 544.5L737.5 548.5L741.3 552.2L744.8 555.6L748 558.8L750.8 561.6L753.3 564.1L755.3 566.3L757 568.2L758.3 569.7L759.2 570.9L759.8 571.8L759.9 572.4L759.7 572.6M481.4 331L482.7 330L484.4 329.3L486.5 329L488.9 329L491.7 329.3L494.8 330L498.3 331L502.2 332.3L506.4 334L510.8 336L515.6 338.3L520.7 340.9L526.1 343.8L531.7 347L537.6 350.5L543.7 354.3L550.1 358.4L556.6 362.7L563.3 367.3L570.2 372.1L577.2 377.2L584.4 382.5L591.7 387.9L599 393.5L606.4 399.3L613.9 405.3L621.4 411.4L628.9 417.6L636.3 423.9L643.7 430.2L651.1 436.7L658.4 443.1L665.6 449.6L672.6 456.2L679.5 462.7L686.2 469.1L692.8 475.5L699.2 481.9L705.3 488.2L711.2 494.3L716.8 500.4L722.2 506.3L727.2 512L732 517.6L736.5 523L740.6 528.1L744.4 533.1L747.9 537.8L750.9 542.3L753.7 546.6L756 550.5L758 554.2L759.6 557.6L760.8 560.7L761.6 563.5L762 566L762 568.1L761.6 569.9L760.8 571.4L759.7 572.6M481.4 331L483.6 329.2L486.2 327.7L489.1 326.5L492.4 325.7L496.1 325.3L500.1 325.1L504.4 325.4L509.1 325.9L514 326.8L519.3 328.1L524.8 329.7L530.6 331.6L536.7 333.9L543 336.4L549.5 339.3L556.2 342.5L563.1 346L570.2 349.9L577.4 353.9L584.7 358.3L592.1 362.9L599.6 367.8L607.2 372.9L614.8 378.2L622.5 383.7L630.1 389.5L637.7 395.3L645.3 401.4L652.8 407.6L660.2 413.9L667.5 420.3L674.7 426.8L681.7 433.4L688.6 440.1L695.3 446.7L701.7 453.4L708 460.1L714 466.7L719.7 473.4L725.2 479.9L730.4 486.4L735.2 492.8L739.8 499L744 505.1L747.8 511.1L751.4 516.9L754.5 522.5L757.3 528L759.7 533.2L761.7 538.1L763.3 542.9L764.5 547.3L765.3 551.6L765.7 555.5L765.7 559.1L765.3 562.4L764.5 565.5L763.3 568.2L761.7 570.6L759.7 572.6M481.4 331L484.3 328.5L487.7 326.3L491.4 324.5L495.4 323L499.8 321.8L504.5 321L509.6 320.6L514.9 320.5L520.6 320.8L526.5 321.4L532.6 322.4L539.1 323.8L545.7 325.5L552.5 327.5L559.6 329.9L566.8 332.6L574.1 335.6L581.6 339L589.2 342.6L596.9 346.6L604.6 350.9L612.4 355.4L620.3 360.2L628.1 365.3L635.9 370.6L643.7 376.1L651.4 381.8L659 387.7L666.6 393.8L674 400.1L681.2 406.5L688.3 413L695.2 419.7L701.9 426.4L708.4 433.2L714.6 440.1L720.6 446.9L726.3 453.9L731.7 460.8L736.8 467.6L741.6 474.5L746.1 481.2L750.2 487.9L753.9 494.5L757.3 501L760.3 507.3L762.9 513.5L765.1 519.5L766.9 525.3L768.3 530.9L769.3 536.3L769.9 541.4L770 546.3L769.8 551L769.1 555.3L768 559.4L766.5 563.2L764.6 566.6L762.4 569.8L759.7 572.6M481.4 331L484.9 327.9L488.8 325.2L493.1 322.9L497.7 320.9L502.7 319.2L508 317.9L513.5 317L519.4 316.5L525.5 316.3L531.9 316.4L538.6 317L545.4 317.9L552.5 319.1L559.8 320.8L567.2 322.8L574.8 325.1L582.4 327.8L590.2 330.8L598.1 334.1L606.1 337.8L614 341.8L622 346.1L630 350.6L638 355.5L645.9 360.6L653.8 366L661.6 371.6L669.2 377.4L676.8 383.4L684.2 389.6L691.4 396L698.4 402.5L705.2 409.2L711.8 416L718.1 422.9L724.1 429.9L729.9 436.9L735.4 444L740.6 451.1L745.4 458.2L749.9 465.3L754 472.4L757.8 479.4L761.2 486.3L764.2 493.1L766.8 499.9L769 506.5L770.8 512.9L772.2 519.2L773.2 525.3L773.7 531.2L773.8 536.8L773.5 542.3L772.8 547.5L771.6 552.4L770.1 557L768.1 561.4L765.7 565.4L762.9 569.2L759.7 572.6M481.4 331L485.3 327.6L489.6 324.6L494.2 321.9L499.2 319.6L504.5 317.6L510.1 316L516 314.8L522.2 314L528.7 313.5L535.4 313.4L542.3 313.6L549.4 314.3L556.8 315.3L564.3 316.7L571.9 318.4L579.7 320.5L587.6 323L595.5 325.8L603.6 328.9L611.7 332.4L619.8 336.2L627.9 340.3L636 344.7L644 349.5L652 354.5L659.9 359.7L667.7 365.2L675.4 371L682.9 376.9L690.2 383.1L697.4 389.4L704.4 396L711.1 402.7L717.6 409.5L723.8 416.4L729.7 423.5L735.4 430.6L740.7 437.8L745.7 445L750.4 452.2L754.7 459.5L758.7 466.7L762.2 473.9L765.4 481L768.2 488.1L770.6 495.1L772.6 501.9L774.1 508.7L775.3 515.2L776 521.6L776.3 527.8L776.1 533.8L775.5 539.6L774.5 545.2L773.1 550.5L771.2 555.5L769 560.2L766.3 564.7L763.2 568.8L759.7 572.6M481.4 331L485.4 327.5L489.8 324.4L494.6 321.6L499.7 319.2L505.2 317.1L510.9 315.4L516.9 314.1L523.2 313.2L529.8 312.6L536.6 312.4L543.6 312.6L550.8 313.1L558.2 314.1L565.8 315.4L573.5 317L581.3 319.1L589.2 321.5L597.2 324.2L605.3 327.3L613.4 330.7L621.5 334.4L629.6 338.5L637.7 342.8L645.8 347.5L653.7 352.4L661.6 357.6L669.4 363.1L677 368.8L684.5 374.7L691.9 380.9L699 387.2L705.9 393.7L712.6 400.4L719 407.2L725.2 414.1L731.1 421.1L736.7 428.3L742 435.5L747 442.7L751.6 450L755.8 457.3L759.7 464.6L763.3 471.8L766.4 479L769.1 486.2L771.5 493.2L773.4 500.2L774.9 507L776 513.7L776.6 520.2L776.8 526.5L776.6 532.6L776 538.5L774.9 544.2L773.4 549.7L771.5 554.8L769.2 559.7L766.4 564.3L763.2 568.6L759.7 572.6M481.4 331L485.3 327.6L489.6 324.6L494.3 322L499.3 319.7L504.6 317.8L510.2 316.2L516.1 315L522.3 314.2L528.8 313.7L535.4 313.6L542.3 313.9L549.5 314.6L556.7 315.6L564.2 317L571.8 318.7L579.5 320.8L587.3 323.3L595.2 326.1L603.2 329.2L611.2 332.7L619.2 336.5L627.3 340.6L635.3 345L643.2 349.6L651.1 354.6L659 359.8L666.7 365.3L674.3 371L681.7 376.9L689 383L696.1 389.3L703 395.8L709.7 402.4L716.1 409.1L722.3 416L728.2 423L733.9 430.1L739.2 437.2L744.2 444.4L748.9 451.6L753.2 458.8L757.2 466L760.8 473.2L764 480.3L766.9 487.4L769.3 494.3L771.3 501.2L773 507.9L774.2 514.5L775 521L775.4 527.2L775.3 533.3L774.8 539.1L773.9 544.7L772.6 550L770.8 555.1L768.7 560L766.1 564.5L763.1 568.7L759.7 572.6M481.4 331L485 328L488.9 325.3L493.3 323L497.9 321.1L502.9 319.5L508.2 318.2L513.8 317.4L519.6 316.8L525.8 316.7L532.1 316.9L538.7 317.5L545.5 318.4L552.5 319.7L559.7 321.4L567 323.4L574.5 325.7L582 328.4L589.7 331.4L597.5 334.7L605.3 338.3L613.1 342.2L621 346.5L628.8 351L636.6 355.8L644.4 360.8L652.1 366.1L659.7 371.6L667.3 377.3L674.7 383.2L681.9 389.3L689 395.6L695.9 402L702.6 408.6L709.1 415.3L715.3 422L721.3 428.9L727.1 435.9L732.5 442.9L737.7 449.9L742.5 456.9L747 464L751.2 471L755.1 477.9L758.5 484.8L761.6 491.7L764.3 498.4L766.7 505L768.6 511.5L770.1 517.8L771.2 523.9L772 529.9L772.3 535.7L772.1 541.2L771.6 546.5L770.6 551.6L769.3 556.4L767.5 560.9L765.3 565.1L762.7 569L759.7 572.6M481.4 331L484.4 328.5L487.8 326.4L491.6 324.6L495.7 323.2L500.2 322.1L504.9 321.4L510 321L515.3 321L520.9 321.4L526.8 322L532.9 323.1L539.3 324.5L545.8 326.2L552.5 328.2L559.5 330.6L566.5 333.3L573.7 336.3L581 339.6L588.5 343.2L596 347.1L603.5 351.3L611.1 355.8L618.7 360.5L626.4 365.4L634 370.6L641.5 376L649 381.6L656.5 387.3L663.8 393.3L671 399.4L678.1 405.6L685 412L691.8 418.5L698.4 425.1L704.7 431.8L710.9 438.5L716.8 445.2L722.4 452L727.8 458.8L732.9 465.6L737.7 472.3L742.2 479L746.4 485.7L750.2 492.3L753.7 498.7L756.9 505.1L759.6 511.3L762 517.3L764 523.2L765.6 528.9L766.8 534.4L767.7 539.7L768.1 544.8L768.1 549.6L767.7 554.2L766.9 558.4L765.7 562.4L764.1 566.1L762.1 569.5L759.7 572.6M481.4 331L483.7 329.2L486.4 327.8L489.4 326.7L492.8 326L496.5 325.6L500.6 325.6L504.9 325.9L509.6 326.5L514.6 327.4L519.8 328.7L525.3 330.4L531 332.3L537 334.6L543.2 337.1L549.6 340L556.1 343.2L562.9 346.6L569.8 350.4L576.8 354.4L583.9 358.6L591.1 363.1L598.4 367.9L605.7 372.8L613.1 378L620.5 383.4L627.8 388.9L635.2 394.6L642.5 400.5L649.8 406.5L657 412.6L664.1 418.9L671.1 425.2L677.9 431.6L684.6 438.1L691.1 444.6L697.5 451.1L703.6 457.6L709.6 464.1L715.2 470.6L720.7 477.1L725.9 483.5L730.8 489.8L735.4 496L739.7 502.1L743.7 508.1L747.3 514L750.6 519.7L753.6 525.2L756.2 530.5L758.5 535.6L760.3 540.5L761.8 545.2L762.9 549.6L763.7 553.7L764 557.6L763.9 561.2L763.4 564.5L762.6 567.5L761.3 570.2L759.7 572.6M481.4 331L482.8 330L484.6 329.5L486.8 329.2L489.3 329.3L492.2 329.7L495.5 330.4L499 331.5L502.9 332.9L507.1 334.5L511.6 336.6L516.3 338.9L521.4 341.5L526.7 344.4L532.2 347.6L538 351L544 354.8L550.1 358.8L556.5 363L563 367.4L569.7 372.1L576.5 377L583.4 382.1L590.4 387.4L597.5 392.8L604.7 398.4L611.9 404.2L619.1 410L626.3 416L633.5 422.1L640.7 428.2L647.8 434.5L654.8 440.7L661.8 447L668.6 453.4L675.4 459.7L682 466L688.4 472.3L694.6 478.5L700.7 484.6L706.5 490.7L712.1 496.7L717.5 502.6L722.6 508.3L727.5 513.9L732.1 519.3L736.3 524.6L740.3 529.6L743.9 534.5L747.2 539.1L750.2 543.6L752.8 547.7L755.1 551.7L757 555.3L758.5 558.7L759.7 561.8L760.5 564.6L760.8 567.1L760.8 569.2L760.5 571.1L759.7 572.6M481.4 331L481.9 330.9L482.7 331.2L484 331.9L485.6 332.8L487.6 334.1L489.9 335.7L492.6 337.6L495.6 339.8L498.9 342.3L502.6 345L506.6 348.1L510.8 351.4L515.4 355.1L520.2 358.9L525.3 363L530.7 367.4L536.3 371.9L542.1 376.7L548.1 381.7L554.3 386.8L560.7 392.1L567.2 397.6L573.9 403.2L580.7 409L587.6 414.8L594.6 420.8L601.6 426.8L608.7 433L615.9 439.1L623 445.3L630.2 451.5L637.3 457.7L644.4 463.9L651.4 470.1L658.4 476.2L665.2 482.3L671.9 488.3L678.5 494.2L685 500L691.3 505.7L697.4 511.2L703.3 516.6L708.9 521.8L714.4 526.8L719.6 531.6L724.5 536.2L729.2 540.6L733.6 544.8L737.6 548.7L741.4 552.3L744.8 555.7L747.9 558.8L750.7 561.6L753.1 564.1L755.1 566.3L756.8 568.2L758.1 569.8L759 571.1L759.5 572L759.7 572.6M481.4 331L480.9 331.8L480.8 333L481.1 334.6L481.7 336.4L482.8 338.6L484.2 341L486 343.7L488.1 346.8L490.6 350.1L493.4 353.7L496.6 357.5L500.1 361.6L503.9 365.9L508 370.5L512.4 375.2L517.2 380.2L522.1 385.3L527.4 390.7L532.9 396.2L538.6 401.8L544.6 407.6L550.7 413.4L557 419.4L563.5 425.5L570.2 431.6L577 437.8L583.9 444.1L590.9 450.3L598 456.6L605.1 462.8L612.3 469L619.5 475.2L626.7 481.3L633.9 487.3L641.1 493.3L648.2 499.1L655.3 504.8L662.2 510.4L669.1 515.8L675.8 521L682.4 526.1L688.9 531L695.1 535.6L701.2 540.1L707 544.3L712.6 548.2L718 551.9L723.1 555.3L727.9 558.5L732.5 561.3L736.7 563.9L740.7 566.2L744.3 568.1L747.5 569.7L750.5 571L753.1 572L755.3 572.7L757.1 573L758.6 573L759.7 572.6M481.4 331L480 332.7L478.9 334.8L478.3 337.1L478.1 339.8L478.2 342.8L478.7 346.1L479.6 349.6L480.9 353.5L482.6 357.6L484.6 361.9L487 366.5L489.7 371.3L492.8 376.3L496.3 381.5L500.1 386.9L504.2 392.5L508.6 398.2L513.3 404.1L518.3 410.1L523.5 416.2L529.1 422.4L534.9 428.7L540.9 435L547.1 441.4L553.5 447.8L560.1 454.2L566.9 460.7L573.8 467.1L580.8 473.4L587.9 479.7L595.2 485.9L602.5 492.1L609.8 498.1L617.2 504L624.6 509.7L632 515.4L639.4 520.8L646.7 526L654 531.1L661.2 535.9L668.2 540.6L675.2 544.9L682 549.1L688.6 552.9L695.1 556.5L701.3 559.9L707.4 562.9L713.2 565.6L718.8 568L724.1 570.1L729.1 571.9L733.8 573.3L738.2 574.4L742.4 575.2L746.1 575.6L749.6 575.7L752.6 575.4L755.4 574.8L757.7 573.9L759.7 572.6M481.4 331L479.1 333.5L477.3 336.3L475.8 339.4L474.8 342.9L474.1 346.6L473.8 350.6L474 354.9L474.5 359.4L475.4 364.2L476.7 369.2L478.4 374.5L480.5 379.9L482.9 385.6L485.8 391.4L489 397.4L492.5 403.5L496.4 409.8L500.6 416.1L505.2 422.6L510 429.1L515.2 435.7L520.7 442.4L526.4 449L532.3 455.7L538.6 462.4L545 469L551.6 475.6L558.5 482.2L565.5 488.6L572.6 495L579.9 501.2L587.3 507.3L594.8 513.3L602.4 519L610 524.6L617.6 530.1L625.3 535.3L632.9 540.2L640.6 545L648.1 549.4L655.6 553.7L663.1 557.6L670.4 561.3L677.5 564.6L684.5 567.7L691.4 570.4L698 572.8L704.5 574.9L710.7 576.6L716.7 578L722.4 579L727.8 579.7L733 580.1L737.8 580.1L742.3 579.7L746.5 579L750.3 577.9L753.8 576.5L756.9 574.7L759.7 572.6M481.4 331L478.5 334.1L475.9 337.5L473.8 341.3L472.1 345.3L470.7 349.7L469.8 354.3L469.3 359.1L469.2 364.3L469.5 369.6L470.2 375.2L471.3 381L472.9 387L474.8 393.2L477.1 399.5L479.8 405.9L482.9 412.5L486.4 419.2L490.2 426L494.4 432.9L498.9 439.8L503.8 446.7L509 453.7L514.5 460.6L520.3 467.6L526.3 474.4L532.6 481.3L539.2 488L545.9 494.7L552.9 501.2L560.1 507.6L567.4 513.9L574.9 520L582.5 525.9L590.3 531.6L598.1 537L605.9 542.3L613.8 547.3L621.8 552L629.7 556.5L637.6 560.7L645.5 564.6L653.3 568.1L661 571.4L668.6 574.3L676.1 576.9L683.4 579.2L690.5 581.1L697.5 582.6L704.2 583.8L710.8 584.6L717 585L723 585.1L728.8 584.8L734.2 584.1L739.3 583.1L744.1 581.7L748.5 580L752.6 577.9L756.3 575.4L759.7 572.6M481.4 331L478 334.5L475 338.4L472.3 342.6L470.1 347L468.3 351.8L466.9 356.8L466 362.1L465.4 367.7L465.3 373.5L465.6 379.4L466.3 385.6L467.4 392L468.9 398.5L470.9 405.2L473.3 412L476 419L479.2 426L482.8 433.1L486.7 440.2L491 447.4L495.6 454.6L500.6 461.8L506 469L511.6 476.1L517.6 483.2L523.8 490.2L530.3 497L537 503.8L544 510.4L551.2 516.9L558.6 523.1L566.2 529.2L573.9 535.1L581.7 540.7L589.7 546.1L597.7 551.3L605.8 556.1L613.9 560.7L622.1 565L630.2 568.9L638.4 572.6L646.5 575.9L654.5 578.9L662.4 581.5L670.2 583.7L677.9 585.6L685.4 587.1L692.7 588.3L699.8 589L706.7 589.4L713.4 589.4L719.8 589L725.9 588.3L731.7 587.1L737.2 585.6L742.4 583.7L747.3 581.5L751.8 578.9L755.9 575.9L759.7 572.6M481.4 331L477.7 334.7L474.4 338.8L471.6 343.2L469.1 347.9L467 352.9L465.4 358.2L464.2 363.7L463.4 369.4L463 375.4L463 381.6L463.5 388.1L464.4 394.6L465.8 401.4L467.5 408.3L469.7 415.3L472.3 422.4L475.3 429.6L478.7 436.9L482.5 444.2L486.7 451.6L491.3 458.9L496.2 466.3L501.4 473.6L507 480.8L512.9 488L519.1 495.1L525.6 502L532.3 508.8L539.3 515.5L546.6 522L554 528.3L561.6 534.4L569.4 540.3L577.3 545.9L585.4 551.3L593.5 556.3L601.7 561.1L610 565.6L618.3 569.8L626.6 573.7L634.9 577.2L643.1 580.3L651.3 583.1L659.4 585.6L667.3 587.6L675.2 589.3L682.9 590.6L690.4 591.5L697.7 592L704.8 592.2L711.6 591.9L718.2 591.3L724.5 590.3L730.6 588.8L736.3 587L741.7 584.9L746.7 582.3L751.4 579.4L755.7 576.2L759.7 572.6M481.4 331L477.7 334.7L474.4 338.8L471.5 343.2L469 347.9L466.9 352.9L465.3 358.1L464 363.7L463.2 369.4L462.8 375.4L462.8 381.7L463.3 388.1L464.2 394.7L465.5 401.5L467.3 408.4L469.5 415.4L472 422.6L475.1 429.8L478.5 437.1L482.3 444.5L486.5 451.9L491 459.3L495.9 466.7L501.2 474L506.8 481.3L512.7 488.5L519 495.6L525.5 502.6L532.3 509.5L539.3 516.2L546.5 522.7L554 529L561.7 535.2L569.5 541L577.4 546.7L585.5 552.1L593.7 557.2L601.9 562L610.2 566.5L618.5 570.6L626.9 574.5L635.2 578L643.4 581.1L651.6 583.9L659.7 586.3L667.7 588.3L675.6 590L683.2 591.2L690.7 592.1L698 592.6L705.1 592.7L712 592.4L718.5 591.7L724.8 590.6L730.8 589.1L736.5 587.3L741.8 585.1L746.9 582.5L751.5 579.5L755.8 576.2L759.7 572.6M481.4 331L477.9 334.5L474.9 338.3L472.2 342.5L469.9 347L468 351.7L466.6 356.8L465.5 362.1L464.9 367.7L464.7 373.5L465 379.5L465.6 385.7L466.7 392.2L468.2 398.8L470.2 405.5L472.5 412.4L475.3 419.4L478.4 426.6L482 433.8L485.9 441L490.3 448.3L495 455.6L500 462.9L505.4 470.2L511.1 477.5L517.1 484.6L523.4 491.7L530 498.7L536.8 505.6L543.9 512.3L551.2 518.8L558.7 525.2L566.3 531.3L574.1 537.3L582.1 543L590.1 548.4L598.3 553.6L606.5 558.5L614.7 563.1L622.9 567.3L631.2 571.3L639.4 574.9L647.5 578.1L655.5 581.1L663.5 583.6L671.3 585.8L679 587.6L686.5 589L693.8 590L700.9 590.6L707.7 590.9L714.3 590.8L720.7 590.2L726.7 589.3L732.5 588L737.9 586.4L743 584.3L747.7 581.9L752.1 579.2L756.1 576L759.7 572.6M481.4 331L478.4 334L475.8 337.4L473.5 341.2L471.7 345.2L470.3 349.5L469.3 354.1L468.7 359L468.5 364.2L468.7 369.6L469.3 375.3L470.4 381.1L471.9 387.2L473.7 393.4L476 399.9L478.7 406.5L481.8 413.2L485.3 420L489.1 427L493.4 434L497.9 441L502.9 448.2L508.1 455.3L513.7 462.4L519.6 469.5L525.8 476.6L532.2 483.6L538.9 490.5L545.8 497.3L552.9 504L560.3 510.6L567.8 517L575.4 523.2L583.2 529.2L591 535L599 540.5L607 545.8L615.1 550.9L623.1 555.6L631.2 560.1L639.2 564.3L647.2 568.1L655 571.6L662.8 574.8L670.5 577.6L677.9 580.1L685.3 582.2L692.4 583.9L699.3 585.3L706 586.3L712.5 586.9L718.6 587.1L724.5 587L730.1 586.5L735.4 585.6L740.3 584.3L744.9 582.7L749.2 580.7L753.1 578.3L756.6 575.6L759.7 572.6M474.4 341.4L475.5 340.4L476.7 339.3L477.9 338.1L479.2 336.9L480.6 335.6L482 334.3L483.4 333L484.8 331.7L486.2 330.4L487.5 329.1L488.9 327.9L490.1 326.7L491.3 325.6L492.4 324.6L493.5 323.6L494.4 322.8L495.2 322.1L495.9 321.5L496.4 321L496.8 320.6L497.1 320.4L497.3 320.3L497.3 320.3L497.1 320.5L496.8 320.8L496.4 321.2L495.8 321.8L495.1 322.5L494.3 323.3L493.4 324.2L492.4 325.1L491.3 326.2L490.1 327.4L488.8 328.5L487.5 329.8L486.1 331.1L484.7 332.4L483.3 333.7L481.9 335L480.6 336.3L479.2 337.5L477.9 338.7L476.7 339.8L475.5 340.9L474.5 341.9L473.5 342.8L472.6 343.6L471.9 344.3L471.2 344.8L470.7 345.3L470.4 345.6L470.1 345.7L470.1 345.8L470.1 345.7L470.3 345.4L470.7 345.1L471.2 344.6L471.8 343.9L472.6 343.2L473.5 342.4ZM472.4 355.7L474.5 353.7L476.9 351.5L479.3 349.1L481.9 346.7L484.5 344.2L487.3 341.6L490 339L492.8 336.4L495.5 333.9L498.2 331.4L500.8 328.9L503.3 326.6L505.7 324.4L507.9 322.4L509.9 320.6L511.7 319L513.2 317.5L514.6 316.3L515.7 315.4L516.5 314.7L517 314.2L517.3 314.1L517.2 314.1L516.9 314.5L516.3 315.1L515.5 316L514.4 317.1L513 318.4L511.4 319.9L509.6 321.7L507.6 323.6L505.4 325.7L503.1 327.9L500.6 330.3L498 332.7L495.3 335.2L492.6 337.8L489.9 340.3L487.2 342.9L484.5 345.4L481.8 347.9L479.3 350.2L476.9 352.5L474.6 354.6L472.5 356.5L470.6 358.3L468.8 359.8L467.3 361.2L466.1 362.3L465.1 363.2L464.4 363.8L464 364.1L463.8 364.2L463.9 364L464.4 363.6L465.1 362.9L466 361.9L467.3 360.7L468.8 359.2L470.5 357.6ZM475.4 373.4L478.5 370.4L481.9 367.2L485.5 363.8L489.3 360.2L493.2 356.5L497.2 352.7L501.2 348.9L505.2 345.1L509.2 341.4L513.1 337.7L516.9 334.2L520.6 330.8L524 327.6L527.2 324.7L530.1 322L532.7 319.6L534.9 317.5L536.8 315.8L538.4 314.4L539.5 313.4L540.3 312.7L540.6 312.5L540.6 312.6L540.1 313.1L539.2 314L538 315.2L536.4 316.8L534.4 318.8L532 321L529.4 323.5L526.5 326.3L523.3 329.4L519.9 332.6L516.3 336L512.5 339.6L508.7 343.2L504.7 346.9L500.8 350.7L496.8 354.4L492.9 358.1L489.1 361.6L485.4 365.1L481.9 368.4L478.6 371.5L475.5 374.3L472.7 376.9L470.2 379.2L468 381.2L466.2 382.8L464.8 384.1L463.7 385L463.1 385.6L462.8 385.7L463 385.4L463.6 384.8L464.7 383.8L466.1 382.4L467.9 380.6L470.1 378.5L472.6 376.1ZM483.4 393.8L487.4 390L491.8 385.9L496.4 381.5L501.2 376.9L506.2 372.2L511.3 367.3L516.5 362.4L521.7 357.6L526.8 352.7L531.8 348L536.6 343.5L541.2 339.1L545.6 335L549.6 331.2L553.3 327.8L556.6 324.7L559.5 322L561.9 319.8L563.8 318L565.3 316.7L566.2 315.9L566.6 315.6L566.5 315.7L565.9 316.4L564.8 317.5L563.1 319.1L561 321.1L558.5 323.6L555.5 326.4L552.1 329.7L548.4 333.2L544.3 337.1L540 341.3L535.4 345.6L530.6 350.1L525.7 354.8L520.7 359.5L515.6 364.3L510.6 369.1L505.6 373.8L500.7 378.4L496 382.8L491.5 387L487.3 391L483.3 394.7L479.8 398L476.6 401L473.8 403.6L471.5 405.7L469.7 407.4L468.3 408.6L467.5 409.3L467.2 409.5L467.5 409.2L468.3 408.4L469.6 407.1L471.4 405.4L473.7 403.1L476.5 400.4L479.8 397.3ZM496.2 416.4L500.9 411.9L506.1 407L511.6 401.8L517.3 396.3L523.2 390.7L529.3 384.9L535.4 379.1L541.6 373.3L547.6 367.5L553.5 361.9L559.3 356.5L564.7 351.3L569.8 346.4L574.6 341.9L578.9 337.8L582.8 334.1L586.2 330.9L589 328.3L591.2 326.2L592.9 324.6L593.9 323.6L594.4 323.2L594.2 323.4L593.4 324.1L592.1 325.4L590.1 327.3L587.6 329.7L584.5 332.6L581 336L577 339.8L572.5 344L567.7 348.6L562.6 353.5L557.2 358.7L551.5 364L545.7 369.6L539.8 375.2L533.9 380.8L527.9 386.5L522 392.1L516.3 397.5L510.7 402.8L505.4 407.8L500.5 412.6L495.8 417L491.6 421L487.8 424.5L484.6 427.6L481.9 430.2L479.7 432.2L478.1 433.7L477.2 434.6L476.9 434.9L477.2 434.6L478.1 433.7L479.7 432.2L481.9 430.1L484.7 427.4L488 424.2L491.8 420.6ZM513.3 440.4L518.7 435.3L524.5 429.8L530.6 423.9L537.1 417.7L543.7 411.4L550.5 404.9L557.4 398.3L564.3 391.7L571.1 385.2L577.7 378.9L584.1 372.8L590.2 366.9L595.9 361.4L601.2 356.3L606 351.7L610.3 347.5L614 343.9L617.1 340.9L619.6 338.5L621.4 336.7L622.5 335.6L623 335.1L622.7 335.3L621.8 336.1L620.2 337.6L618 339.7L615.2 342.3L611.7 345.6L607.7 349.4L603.2 353.7L598.2 358.4L592.8 363.5L587.1 369L581 374.8L574.7 380.8L568.2 387L561.6 393.3L555 399.7L548.3 406L541.7 412.3L535.3 418.5L529.1 424.4L523.2 430.1L517.7 435.4L512.5 440.4L507.8 444.9L503.6 449L500 452.5L496.9 455.5L494.5 457.8L492.8 459.5L491.8 460.5L491.4 460.9L491.8 460.6L492.9 459.6L494.7 458L497.2 455.6L500.3 452.7L504.1 449.1L508.4 445ZM534.2 464.8L540 459.3L546.2 453.4L552.9 447.1L559.8 440.4L567 433.6L574.3 426.6L581.7 419.4L589 412.3L596.3 405.3L603.4 398.5L610.2 391.8L616.7 385.5L622.8 379.6L628.5 374L633.6 369L638.1 364.5L642.1 360.6L645.4 357.3L647.9 354.7L649.8 352.8L651 351.5L651.4 351L651.1 351.1L650.1 352L648.4 353.5L645.9 355.8L642.8 358.6L639.1 362.1L634.8 366.1L630 370.7L624.6 375.8L618.8 381.3L612.6 387.2L606.1 393.4L599.3 399.9L592.4 406.5L585.3 413.3L578.2 420.2L571.1 427.1L564.1 433.8L557.2 440.5L550.6 446.9L544.3 453.1L538.3 458.9L532.8 464.2L527.8 469.2L523.3 473.6L519.5 477.4L516.2 480.6L513.7 483.2L511.9 485.1L510.8 486.3L510.5 486.7L510.9 486.4L512.1 485.4L514.1 483.6L516.8 481.2L520.2 478L524.2 474.2L528.9 469.8ZM558.2 488.9L564.2 483.2L570.7 477L577.5 470.5L584.7 463.6L592.1 456.5L599.7 449.2L607.3 441.8L614.9 434.4L622.4 427.1L629.7 419.9L636.8 413L643.5 406.4L649.7 400.2L655.5 394.4L660.8 389.2L665.4 384.5L669.5 380.4L672.8 377L675.4 374.2L677.3 372.1L678.5 370.8L678.9 370.2L678.5 370.3L677.4 371.2L675.5 372.8L673 375L669.8 378L665.9 381.5L661.4 385.7L656.3 390.5L650.8 395.7L644.8 401.4L638.4 407.5L631.7 413.9L624.7 420.7L617.5 427.6L610.2 434.6L602.8 441.8L595.5 448.9L588.3 456L581.2 462.9L574.4 469.6L567.9 476L561.8 482L556.1 487.7L551 492.8L546.4 497.4L542.4 501.5L539.1 504.9L536.6 507.6L534.7 509.6L533.6 510.8L533.3 511.3L533.8 511.1L535.1 510.1L537.2 508.3L540 505.8L543.6 502.5L547.8 498.6L552.7 494ZM584.3 511.7L590.4 506L596.8 499.9L603.7 493.3L610.9 486.4L618.3 479.2L625.9 471.9L633.5 464.5L641 457.1L648.5 449.7L655.8 442.5L662.8 435.6L669.4 428.9L675.7 422.6L681.4 416.8L686.6 411.5L691.2 406.8L695.2 402.6L698.5 399.1L701.1 396.3L702.9 394.2L704 392.8L704.3 392.2L703.9 392.3L702.8 393.1L700.9 394.6L698.3 396.9L695 399.8L691.1 403.4L686.6 407.5L681.6 412.2L676 417.5L670 423.2L663.6 429.3L656.8 435.7L649.8 442.5L642.7 449.4L635.4 456.5L628 463.7L620.7 470.8L613.5 477.9L606.5 484.9L599.7 491.6L593.3 498.1L587.2 504.2L581.6 509.9L576.5 515.1L572 519.8L568.1 523.8L564.8 527.3L562.3 530.1L560.5 532.1L559.5 533.4L559.2 534L559.8 533.8L561.1 532.8L563.2 531L566.1 528.5L569.7 525.3L573.9 521.4L578.8 516.9ZM611.8 532.5L617.6 527L623.9 521L630.5 514.7L637.4 508L644.6 501.1L651.9 494L659.2 486.8L666.5 479.6L673.7 472.4L680.6 465.4L687.4 458.7L693.8 452.2L699.7 446.1L705.2 440.4L710.2 435.2L714.6 430.6L718.4 426.6L721.6 423.1L724 420.4L725.7 418.3L726.7 416.9L727 416.2L726.6 416.3L725.5 417L723.6 418.5L721.1 420.6L717.9 423.4L714.1 426.8L709.7 430.8L704.8 435.4L699.4 440.5L693.5 446L687.3 451.9L680.8 458.1L674.1 464.7L667.2 471.4L660.1 478.3L653.1 485.2L646 492.2L639.1 499.1L632.3 505.8L625.8 512.4L619.6 518.7L613.8 524.6L608.4 530.2L603.6 535.2L599.2 539.8L595.5 543.8L592.5 547.2L590.1 549.9L588.4 551.9L587.5 553.2L587.3 553.8L587.8 553.6L589.2 552.7L591.3 551L594 548.6L597.5 545.6L601.7 541.8L606.5 537.4ZM639.5 550.4L644.9 545.3L650.8 539.7L656.9 533.8L663.4 527.6L670 521.1L676.7 514.5L683.5 507.8L690.3 501.1L696.9 494.4L703.4 487.9L709.6 481.5L715.6 475.5L721.1 469.8L726.2 464.4L730.8 459.6L734.8 455.2L738.3 451.4L741.2 448.1L743.4 445.5L745 443.5L745.9 442.2L746.2 441.5L745.7 441.5L744.6 442.2L742.9 443.5L740.5 445.5L737.5 448L733.9 451.2L729.8 454.9L725.2 459.2L720.2 463.9L714.7 469L709 474.5L702.9 480.4L696.6 486.5L690.2 492.8L683.6 499.2L677.1 505.7L670.5 512.2L664.1 518.7L657.8 525L651.8 531.2L646.1 537L640.7 542.6L635.7 547.8L631.2 552.6L627.3 556.9L623.9 560.6L621.1 563.8L618.9 566.3L617.4 568.3L616.6 569.5L616.4 570.1L617 569.9L618.3 569.1L620.3 567.6L622.9 565.4L626.2 562.5L630.1 559L634.5 555ZM666.5 564.8L671.3 560.3L676.5 555.3L682 550.1L687.7 544.5L693.6 538.8L699.6 532.9L705.6 526.9L711.6 520.8L717.5 514.9L723.3 509L728.8 503.4L734 497.9L738.9 492.8L743.5 488L747.5 483.6L751.1 479.7L754.2 476.2L756.7 473.3L758.7 470.9L760.1 469.1L760.9 467.8L761.1 467.2L760.7 467.2L759.7 467.7L758.1 468.9L755.9 470.6L753.2 472.9L750 475.7L746.4 479L742.2 482.8L737.7 487L732.9 491.6L727.7 496.5L722.3 501.7L716.7 507.2L710.9 512.8L705.1 518.6L699.2 524.4L693.4 530.3L687.7 536.1L682.1 541.8L676.8 547.3L671.7 552.6L666.9 557.6L662.6 562.2L658.6 566.5L655.1 570.3L652.1 573.7L649.7 576.6L647.8 578.9L646.5 580.6L645.8 581.7L645.7 582.2L646.3 582.1L647.5 581.4L649.3 580.1L651.6 578.1L654.6 575.6L658.1 572.5L662 568.9ZM691.8 575.2L695.8 571.4L700.2 567.3L704.8 562.8L709.7 558.2L714.6 553.3L719.7 548.3L724.7 543.2L729.8 538.2L734.7 533.1L739.6 528.2L744.2 523.4L748.6 518.7L752.7 514.4L756.5 510.3L759.9 506.6L762.9 503.2L765.5 500.3L767.7 497.7L769.3 495.7L770.5 494.1L771.1 493L771.3 492.5L770.9 492.4L770 492.8L768.7 493.8L766.8 495.2L764.6 497.1L761.8 499.5L758.7 502.3L755.2 505.5L751.4 509.1L747.3 512.9L742.9 517.1L738.3 521.5L733.6 526.2L728.7 531L723.8 535.9L718.8 540.8L713.9 545.8L709.1 550.7L704.4 555.5L699.9 560.2L695.7 564.7L691.7 568.9L688 572.9L684.7 576.5L681.8 579.8L679.3 582.6L677.2 585.1L675.7 587L674.6 588.5L674.1 589.4L674.1 589.9L674.6 589.8L675.6 589.2L677.2 588.1L679.2 586.5L681.7 584.3L684.7 581.7L688 578.7ZM714.4 581.4L717.6 578.4L721 575.1L724.6 571.7L728.4 568L732.2 564.2L736.2 560.3L740.1 556.4L744 552.4L747.9 548.5L751.6 544.6L755.3 540.8L758.7 537.2L761.9 533.8L764.8 530.6L767.5 527.6L769.8 525L771.9 522.6L773.5 520.7L774.8 519L775.7 517.8L776.2 516.9L776.3 516.4L776 516.3L775.4 516.7L774.3 517.4L772.8 518.5L771 520L768.9 521.8L766.5 524L763.7 526.5L760.7 529.3L757.5 532.3L754.1 535.6L750.5 539.1L746.7 542.7L742.9 546.5L739.1 550.3L735.2 554.2L731.4 558.1L727.6 562L724 565.8L720.5 569.5L717.1 573L714 576.3L711.2 579.4L708.6 582.3L706.4 584.8L704.4 587.1L702.9 589L701.7 590.5L700.9 591.6L700.5 592.4L700.5 592.8L701 592.7L701.8 592.2L703 591.4L704.6 590.1L706.6 588.4L708.9 586.4L711.5 584ZM733.7 582.9L735.9 580.9L738.2 578.7L740.7 576.3L743.3 573.8L745.9 571.2L748.6 568.5L751.3 565.8L754 563.1L756.6 560.4L759.2 557.7L761.6 555.2L764 552.7L766.2 550.3L768.2 548.1L770 546.1L771.6 544.2L773 542.6L774.1 541.2L775 540.1L775.6 539.2L776 538.6L776.1 538.3L775.9 538.2L775.4 538.4L774.7 538.9L773.7 539.6L772.4 540.7L771 541.9L769.3 543.4L767.4 545.1L765.3 547L763.1 549.1L760.7 551.4L758.2 553.8L755.7 556.3L753.1 558.9L750.4 561.5L747.8 564.2L745.1 566.9L742.5 569.6L740 572.2L737.6 574.7L735.4 577.1L733.2 579.4L731.3 581.6L729.6 583.5L728 585.3L726.7 586.8L725.7 588.1L724.9 589.2L724.4 590L724.1 590.5L724.1 590.7L724.4 590.7L725 590.4L725.9 589.8L727 588.9L728.3 587.8L729.9 586.4L731.7 584.8ZM749 580L750.1 578.9L751.3 577.8L752.5 576.6L753.8 575.3L755.1 574L756.5 572.7L757.9 571.3L759.2 569.9L760.6 568.5L761.9 567.2L763.1 565.9L764.3 564.6L765.4 563.4L766.4 562.3L767.4 561.2L768.2 560.3L768.9 559.5L769.5 558.7L769.9 558.2L770.2 557.7L770.4 557.4L770.5 557.2L770.4 557.2L770.1 557.3L769.8 557.5L769.2 557.9L768.6 558.4L767.9 559L767 559.8L766 560.7L765 561.7L763.8 562.7L762.6 563.9L761.4 565.1L760.1 566.4L758.7 567.7L757.4 569.1L756 570.4L754.7 571.8L753.4 573.2L752.1 574.5L750.9 575.8L749.7 577L748.6 578.2L747.7 579.3L746.8 580.3L746 581.2L745.4 582L744.8 582.6L744.4 583.2L744.2 583.5L744.1 583.8L744.1 583.9L744.2 583.9L744.5 583.7L745 583.4L745.5 583L746.2 582.4L747 581.7L748 580.9Z" fill="none" stroke="#008000" stroke-width="1.0" stroke-linejoin="round"/>
<g fill="#0000ff" fill-opacity="0.32">
<circle cx="432.9" cy="382.6" r="2.25"/><circle cx="427.3" cy="358.3" r="2.25"/><circle cx="421" cy="355" r="2.25"/><circle cx="430.9" cy="402.4" r="2.25"/><circle cx="418.2" cy="361.6" r="2.25"/><circle cx="450.8" cy="387.5" r="2.25"/><circle cx="441.6" cy="360.5" r="2.25"/><circle cx="430.2" cy="389.7" r="2.25"/><circle cx="385.8" cy="357.9" r="2.25"/><circle cx="368.4" cy="338" r="2.25"/><circle cx="366.5" cy="358.1" r="2.25"/><circle cx="385.8" cy="372" r="2.25"/><circle cx="440.6" cy="374.8" r="2.25"/><circle cx="342.6" cy="347.1" r="2.25"/><circle cx="431.7" cy="378.7" r="2.25"/><circle cx="379" cy="356" r="2.25"/><circle cx="400.8" cy="354.2" r="2.25"/><circle cx="476.6" cy="370.4" r="2.25"/><circle cx="429.3" cy="393.2" r="2.25"/><circle cx="412.7" cy="370.3" r="2.25"/><circle cx="437.9" cy="379.1" r="2.25"/><circle cx="388.2" cy="368.7" r="2.25"/><circle cx="490.6" cy="359" r="2.25"/><circle cx="465.5" cy="386" r="2.25"/><circle cx="402.3" cy="409.1" r="2.25"/><circle cx="467.1" cy="360.7" r="2.25"/><circle cx="434.5" cy="388.3" r="2.25"/><circle cx="424.3" cy="388.2" r="2.25"/><circle cx="428.9" cy="388.9" r="2.25"/><circle cx="490.1" cy="375.8" r="2.25"/><circle cx="443.4" cy="370" r="2.25"/><circle cx="443.4" cy="355.9" r="2.25"/><circle cx="413.2" cy="368.8" r="2.25"/><circle cx="462.9" cy="405.4" r="2.25"/><circle cx="387.9" cy="351.8" r="2.25"/><circle cx="465.9" cy="345.1" r="2.25"/><circle cx="417.2" cy="371.5" r="2.25"/><circle cx="478" cy="399.7" r="2.25"/><circle cx="423.3" cy="367.6" r="2.25"/><circle cx="418.7" cy="403.3" r="2.25"/><circle cx="419.3" cy="368" r="2.25"/><circle cx="447.6" cy="377.5" r="2.25"/><circle cx="431.1" cy="354.7" r="2.25"/><circle cx="435.3" cy="368.7" r="2.25"/><circle cx="474.8" cy="398.4" r="2.25"/><circle cx="430.5" cy="389.2" r="2.25"/><circle cx="417.2" cy="393.9" r="2.25"/><circle cx="431.5" cy="387.8" r="2.25"/><circle cx="384.6" cy="373.2" r="2.25"/><circle cx="379.3" cy="325.8" r="2.25"/><circle cx="426.2" cy="357.9" r="2.25"/><circle cx="431.2" cy="420" r="2.25"/><circle cx="405.5" cy="358.8" r="2.25"/><circle cx="439.7" cy="387.8" r="2.25"/><circle cx="428.3" cy="371.8" r="2.25"/><circle cx="458.1" cy="392.2" r="2.25"/><circle cx="395.9" cy="367.4" r="2.25"/><circle cx="439.5" cy="357.7" r="2.25"/><circle cx="447" cy="363.1" r="2.25"/><circle cx="469.4" cy="388.3" r="2.25"/><circle cx="439.7" cy="366.7" r="2.25"/><circle cx="437.5" cy="338.9" r="2.25"/><circle cx="390.5" cy="374.8" r="2.25"/><circle cx="351.5" cy="375.9" r="2.25"/><circle cx="366.1" cy="377.3" r="2.25"/><circle cx="399.5" cy="384.8" r="2.25"/><circle cx="444.9" cy="349.5" r="2.25"/><circle cx="474.7" cy="413.7" r="2.25"/><circle cx="432.6" cy="371.4" r="2.25"/><circle cx="431.9" cy="357.6" r="2.25"/><circle cx="477" cy="375.6" r="2.25"/><circle cx="435.2" cy="361.9" r="2.25"/><circle cx="415.8" cy="348.3" r="2.25"/><circle cx="481.3" cy="384.1" r="2.25"/><circle cx="469.9" cy="384.9" r="2.25"/><circle cx="409.5" cy="365.4" r="2.25"/><circle cx="413.1" cy="372.7" r="2.25"/><circle cx="421.2" cy="368.5" r="2.25"/><circle cx="385.9" cy="351.1" r="2.25"/><circle cx="498.1" cy="377.6" r="2.25"/><circle cx="393.5" cy="374.9" r="2.25"/><circle cx="492.1" cy="361.1" r="2.25"/><circle cx="428.7" cy="363.6" r="2.25"/><circle cx="365.6" cy="376.7" r="2.25"/><circle cx="432.8" cy="378.1" r="2.25"/><circle cx="404.2" cy="379.5" r="2.25"/><circle cx="414.5" cy="370.1" r="2.25"/><circle cx="397.6" cy="345.6" r="2.25"/><circle cx="485.6" cy="378.1" r="2.25"/><circle cx="445" cy="378.7" r="2.25"/><circle cx="419.6" cy="364.1" r="2.25"/><circle cx="458.6" cy="376.4" r="2.25"/><circle cx="428.3" cy="376.2" r="2.25"/><circle cx="475" cy="398.9" r="2.25"/><circle cx="450.4" cy="369.5" r="2.25"/><circle cx="378.9" cy="383.7" r="2.25"/><circle cx="470.5" cy="382" r="2.25"/><circle cx="451.1" cy="395.8" r="2.25"/><circle cx="461.3" cy="400.7" r="2.25"/><circle cx="411.1" cy="401.6" r="2.25"/><circle cx="384.3" cy="383.2" r="2.25"/><circle cx="448.9" cy="397.1" r="2.25"/><circle cx="498" cy="419.4" r="2.25"/><circle cx="398.1" cy="336.6" r="2.25"/><circle cx="468.4" cy="364.6" r="2.25"/><circle cx="430.2" cy="392.5" r="2.25"/><circle cx="381.2" cy="324.8" r="2.25"/><circle cx="443.5" cy="379.9" r="2.25"/><circle cx="424.7" cy="375.8" r="2.25"/><circle cx="408" cy="342.1" r="2.25"/><circle cx="431.6" cy="357.6" r="2.25"/><circle cx="370.9" cy="373.4" r="2.25"/><circle cx="430.1" cy="384.1" r="2.25"/><circle cx="399.8" cy="357" r="2.25"/><circle cx="400.4" cy="352.6" r="2.25"/><circle cx="444.4" cy="364" r="2.25"/><circle cx="445.9" cy="386.1" r="2.25"/><circle cx="514.8" cy="367.1" r="2.25"/><circle cx="467.4" cy="382.4" r="2.25"/><circle cx="439.2" cy="349.9" r="2.25"/><circle cx="414" cy="387.2" r="2.25"/><circle cx="430.6" cy="377.9" r="2.25"/><circle cx="418.6" cy="396.2" r="2.25"/><circle cx="441.9" cy="335.9" r="2.25"/><circle cx="416.1" cy="334.9" r="2.25"/><circle cx="483.4" cy="388.4" r="2.25"/><circle cx="394.1" cy="350.3" r="2.25"/><circle cx="475.4" cy="388.9" r="2.25"/><circle cx="436" cy="376.4" r="2.25"/><circle cx="432.2" cy="392.3" r="2.25"/><circle cx="453.7" cy="385.4" r="2.25"/><circle cx="393.2" cy="378.3" r="2.25"/><circle cx="404.2" cy="391.9" r="2.25"/><circle cx="387.3" cy="364.4" r="2.25"/><circle cx="439" cy="352.3" r="2.25"/><circle cx="492.2" cy="417.7" r="2.25"/><circle cx="413.7" cy="387.7" r="2.25"/><circle cx="458.4" cy="331.4" r="2.25"/><circle cx="443.5" cy="377.8" r="2.25"/><circle cx="441.3" cy="357.6" r="2.25"/><circle cx="424.7" cy="371.6" r="2.25"/><circle cx="476.8" cy="392.6" r="2.25"/><circle cx="427.8" cy="405.4" r="2.25"/><circle cx="414.9" cy="365.4" r="2.25"/><circle cx="360.3" cy="391.8" r="2.25"/><circle cx="466.2" cy="401.7" r="2.25"/><circle cx="458.4" cy="384.3" r="2.25"/><circle cx="443" cy="374" r="2.25"/><circle cx="426.2" cy="376.4" r="2.25"/><circle cx="488" cy="399.3" r="2.25"/><circle cx="434.1" cy="365.8" r="2.25"/><circle cx="404.1" cy="401.8" r="2.25"/><circle cx="452.6" cy="382.3" r="2.25"/><circle cx="425.5" cy="353.7" r="2.25"/><circle cx="428.1" cy="392.7" r="2.25"/><circle cx="420.3" cy="369.7" r="2.25"/><circle cx="425.4" cy="377.3" r="2.25"/><circle cx="375.7" cy="360" r="2.25"/><circle cx="398.7" cy="386.7" r="2.25"/><circle cx="403.1" cy="381.6" r="2.25"/><circle cx="491.9" cy="383.2" r="2.25"/><circle cx="410.9" cy="375.8" r="2.25"/><circle cx="437.8" cy="358.5" r="2.25"/><circle cx="443.2" cy="418.1" r="2.25"/><circle cx="425.2" cy="371.2" r="2.25"/><circle cx="393.9" cy="374.7" r="2.25"/><circle cx="392" cy="346.6" r="2.25"/><circle cx="485.1" cy="370.3" r="2.25"/><circle cx="468.2" cy="413.9" r="2.25"/><circle cx="441.5" cy="389.3" r="2.25"/><circle cx="507.3" cy="388.8" r="2.25"/><circle cx="417.3" cy="347.2" r="2.25"/><circle cx="429.7" cy="404.8" r="2.25"/><circle cx="473.4" cy="367.1" r="2.25"/><circle cx="404.2" cy="360.9" r="2.25"/><circle cx="445.7" cy="375.5" r="2.25"/><circle cx="440.8" cy="384.2" r="2.25"/><circle cx="423.1" cy="373.9" r="2.25"/><circle cx="442" cy="377.1" r="2.25"/><circle cx="445.3" cy="415.7" r="2.25"/><circle cx="455.8" cy="382.7" r="2.25"/><circle cx="369.8" cy="370.9" r="2.25"/><circle cx="367.2" cy="335.4" r="2.25"/><circle cx="463" cy="396.9" r="2.25"/><circle cx="435.2" cy="344" r="2.25"/><circle cx="422.9" cy="361.5" r="2.25"/><circle cx="448.8" cy="424" r="2.25"/><circle cx="445.1" cy="364.2" r="2.25"/><circle cx="390.7" cy="366.7" r="2.25"/><circle cx="432" cy="354.2" r="2.25"/><circle cx="442.9" cy="356.5" r="2.25"/><circle cx="471.1" cy="405.5" r="2.25"/><circle cx="476.2" cy="376.8" r="2.25"/><circle cx="453.6" cy="378.6" r="2.25"/><circle cx="420.9" cy="367.6" r="2.25"/><circle cx="391.4" cy="339.9" r="2.25"/><circle cx="464.3" cy="379.7" r="2.25"/><circle cx="438.1" cy="397.3" r="2.25"/><circle cx="372.7" cy="348.7" r="2.25"/><circle cx="439" cy="385.7" r="2.25"/><circle cx="415.9" cy="393.1" r="2.25"/><circle cx="446.6" cy="356.1" r="2.25"/><circle cx="396.2" cy="384.6" r="2.25"/><circle cx="458.7" cy="345.4" r="2.25"/><circle cx="481.7" cy="398.8" r="2.25"/><circle cx="485.4" cy="380.5" r="2.25"/><circle cx="427.5" cy="353.7" r="2.25"/><circle cx="529" cy="393.8" r="2.25"/><circle cx="495.6" cy="377.5" r="2.25"/><circle cx="446.7" cy="347.2" r="2.25"/><circle cx="415.9" cy="392.3" r="2.25"/><circle cx="383.2" cy="387" r="2.25"/><circle cx="450.7" cy="360.3" r="2.25"/><circle cx="417.2" cy="364.5" r="2.25"/><circle cx="434.3" cy="366.6" r="2.25"/><circle cx="404.5" cy="364.8" r="2.25"/><circle cx="400.9" cy="344.9" r="2.25"/><circle cx="428.7" cy="393" r="2.25"/><circle cx="377.1" cy="365" r="2.25"/><circle cx="413.7" cy="353.7" r="2.25"/><circle cx="467.8" cy="374.1" r="2.25"/><circle cx="492.8" cy="374.3" r="2.25"/><circle cx="449.3" cy="375.8" r="2.25"/><circle cx="403.7" cy="382" r="2.25"/><circle cx="425.9" cy="387" r="2.25"/><circle cx="436.5" cy="356.4" r="2.25"/><circle cx="430" cy="377.2" r="2.25"/><circle cx="473.2" cy="367.7" r="2.25"/><circle cx="439.3" cy="344.7" r="2.25"/><circle cx="462.5" cy="362" r="2.25"/><circle cx="367.1" cy="361.6" r="2.25"/><circle cx="481.1" cy="357.4" r="2.25"/><circle cx="396.5" cy="354.6" r="2.25"/><circle cx="390.5" cy="375.1" r="2.25"/><circle cx="406.8" cy="357.2" r="2.25"/><circle cx="458.7" cy="367.6" r="2.25"/><circle cx="453.9" cy="362.4" r="2.25"/><circle cx="396.2" cy="333.3" r="2.25"/><circle cx="504.4" cy="385.8" r="2.25"/><circle cx="443.2" cy="378.4" r="2.25"/><circle cx="439.7" cy="379.2" r="2.25"/><circle cx="509" cy="372.8" r="2.25"/><circle cx="380.1" cy="345.9" r="2.25"/><circle cx="381.4" cy="380.3" r="2.25"/><circle cx="468.3" cy="365.6" r="2.25"/><circle cx="383.7" cy="359.4" r="2.25"/><circle cx="496.8" cy="335.6" r="2.25"/><circle cx="457.8" cy="361.2" r="2.25"/><circle cx="476.9" cy="365.2" r="2.25"/><circle cx="429.3" cy="346.8" r="2.25"/><circle cx="392.2" cy="395" r="2.25"/><circle cx="466.1" cy="376" r="2.25"/><circle cx="409.1" cy="334.9" r="2.25"/><circle cx="419.5" cy="373.3" r="2.25"/><circle cx="431.2" cy="374.6" r="2.25"/><circle cx="392.6" cy="366.9" r="2.25"/><circle cx="427.5" cy="400.7" r="2.25"/><circle cx="503.9" cy="389.2" r="2.25"/><circle cx="405.8" cy="369.7" r="2.25"/><circle cx="414.3" cy="358.4" r="2.25"/><circle cx="435.9" cy="357.1" r="2.25"/><circle cx="456.9" cy="379.9" r="2.25"/><circle cx="444" cy="375.6" r="2.25"/><circle cx="410.7" cy="353.6" r="2.25"/><circle cx="427.3" cy="364.9" r="2.25"/><circle cx="442.7" cy="378.8" r="2.25"/><circle cx="383.1" cy="367.5" r="2.25"/><circle cx="386.5" cy="354.9" r="2.25"/><circle cx="431.3" cy="336.1" r="2.25"/><circle cx="436.8" cy="380.5" r="2.25"/><circle cx="429.8" cy="367.9" r="2.25"/><circle cx="424" cy="355.9" r="2.25"/><circle cx="426.2" cy="364.6" r="2.25"/><circle cx="442.2" cy="355.3" r="2.25"/><circle cx="442.2" cy="381.5" r="2.25"/><circle cx="430.5" cy="367.7" r="2.25"/><circle cx="461.1" cy="350.4" r="2.25"/><circle cx="450.2" cy="385.2" r="2.25"/><circle cx="443" cy="386.4" r="2.25"/><circle cx="410.7" cy="367" r="2.25"/><circle cx="456" cy="390" r="2.25"/><circle cx="447.7" cy="350.5" r="2.25"/><circle cx="449.4" cy="403" r="2.25"/><circle cx="470.6" cy="389.3" r="2.25"/><circle cx="372.4" cy="382.2" r="2.25"/><circle cx="438.5" cy="328.8" r="2.25"/><circle cx="453.9" cy="352.2" r="2.25"/><circle cx="388.3" cy="355" r="2.25"/><circle cx="482.8" cy="380.2" r="2.25"/><circle cx="437.2" cy="411.6" r="2.25"/><circle cx="493.7" cy="387.7" r="2.25"/><circle cx="430" cy="351.7" r="2.25"/><circle cx="406.5" cy="379.4" r="2.25"/><circle cx="448.3" cy="382.2" r="2.25"/><circle cx="474" cy="370.5" r="2.25"/><circle cx="429" cy="390.1" r="2.25"/><circle cx="451.5" cy="401.5" r="2.25"/><circle cx="450" cy="374.4" r="2.25"/><circle cx="451.4" cy="361.2" r="2.25"/><circle cx="370.8" cy="374.8" r="2.25"/><circle cx="430.7" cy="382.3" r="2.25"/><circle cx="372.3" cy="356.8" r="2.25"/><circle cx="415.1" cy="356.2" r="2.25"/><circle cx="351.5" cy="353" r="2.25"/><circle cx="465.8" cy="391.2" r="2.25"/><circle cx="411.7" cy="372" r="2.25"/><circle cx="473" cy="331.7" r="2.25"/><circle cx="427.2" cy="386.1" r="2.25"/><circle cx="452.6" cy="414" r="2.25"/><circle cx="475" cy="391.8" r="2.25"/><circle cx="442.1" cy="394" r="2.25"/><circle cx="414.1" cy="372" r="2.25"/><circle cx="460" cy="420.5" r="2.25"/><circle cx="428.3" cy="374.8" r="2.25"/><circle cx="436.1" cy="403.5" r="2.25"/><circle cx="427.1" cy="404.1" r="2.25"/><circle cx="398.8" cy="365.9" r="2.25"/><circle cx="423.5" cy="390.1" r="2.25"/><circle cx="478.8" cy="357.2" r="2.25"/><circle cx="398.7" cy="376" r="2.25"/><circle cx="415.5" cy="343.5" r="2.25"/><circle cx="470.6" cy="394.4" r="2.25"/><circle cx="454.2" cy="372.1" r="2.25"/><circle cx="473.2" cy="380.7" r="2.25"/><circle cx="478.4" cy="368.7" r="2.25"/><circle cx="401.4" cy="374.1" r="2.25"/><circle cx="405.2" cy="384" r="2.25"/><circle cx="447.3" cy="361.9" r="2.25"/><circle cx="438.1" cy="371" r="2.25"/><circle cx="470.5" cy="372.5" r="2.25"/><circle cx="412.9" cy="396" r="2.25"/><circle cx="509.3" cy="431.8" r="2.25"/><circle cx="435.5" cy="381.6" r="2.25"/><circle cx="491.5" cy="386.8" r="2.25"/><circle cx="397.2" cy="371.5" r="2.25"/><circle cx="454.1" cy="365.2" r="2.25"/><circle cx="378.5" cy="337.3" r="2.25"/><circle cx="461.7" cy="368.2" r="2.25"/><circle cx="427.9" cy="379.8" r="2.25"/><circle cx="458.3" cy="375.7" r="2.25"/><circle cx="456.1" cy="364.4" r="2.25"/><circle cx="424.6" cy="355.1" r="2.25"/><circle cx="476.2" cy="385.4" r="2.25"/><circle cx="407.9" cy="364.6" r="2.25"/><circle cx="423" cy="388.3" r="2.25"/><circle cx="378.8" cy="345.1" r="2.25"/><circle cx="409.9" cy="421.1" r="2.25"/><circle cx="470" cy="382.5" r="2.25"/><circle cx="452.3" cy="420.9" r="2.25"/><circle cx="426.8" cy="368.3" r="2.25"/><circle cx="477.1" cy="395.8" r="2.25"/><circle cx="461" cy="372.9" r="2.25"/><circle cx="498.8" cy="424" r="2.25"/><circle cx="452.3" cy="394.2" r="2.25"/><circle cx="356.1" cy="372.8" r="2.25"/><circle cx="425.1" cy="383.5" r="2.25"/><circle cx="460.7" cy="376" r="2.25"/><circle cx="369.7" cy="370.5" r="2.25"/><circle cx="407.7" cy="365" r="2.25"/><circle cx="412.9" cy="365.9" r="2.25"/><circle cx="343.3" cy="381.4" r="2.25"/><circle cx="439" cy="399.7" r="2.25"/><circle cx="507.5" cy="393.1" r="2.25"/><circle cx="370.5" cy="346.1" r="2.25"/><circle cx="391.1" cy="358.1" r="2.25"/><circle cx="444.9" cy="340.4" r="2.25"/><circle cx="452.7" cy="351.6" r="2.25"/><circle cx="445.5" cy="377.3" r="2.25"/><circle cx="422.6" cy="373.2" r="2.25"/><circle cx="416.4" cy="361.4" r="2.25"/><circle cx="371.6" cy="363.2" r="2.25"/><circle cx="494.8" cy="428.4" r="2.25"/><circle cx="480.3" cy="400.6" r="2.25"/><circle cx="403.2" cy="398.5" r="2.25"/><circle cx="432.2" cy="375.3" r="2.25"/><circle cx="422.8" cy="376.4" r="2.25"/><circle cx="418.2" cy="372" r="2.25"/><circle cx="395.2" cy="361.5" r="2.25"/><circle cx="519" cy="393.7" r="2.25"/><circle cx="423" cy="385" r="2.25"/><circle cx="464.7" cy="361.9" r="2.25"/><circle cx="422.7" cy="392.4" r="2.25"/><circle cx="443.5" cy="381.4" r="2.25"/><circle cx="494.4" cy="376.7" r="2.25"/><circle cx="439.1" cy="368" r="2.25"/><circle cx="497.1" cy="352.5" r="2.25"/><circle cx="411.2" cy="361.9" r="2.25"/><circle cx="456.3" cy="393.5" r="2.25"/><circle cx="492.1" cy="358.8" r="2.25"/><circle cx="463.1" cy="377.5" r="2.25"/><circle cx="407.1" cy="381.8" r="2.25"/><circle cx="408" cy="331.1" r="2.25"/><circle cx="426.2" cy="346.2" r="2.25"/><circle cx="408.4" cy="378.8" r="2.25"/><circle cx="439.3" cy="409" r="2.25"/><circle cx="432.6" cy="346.9" r="2.25"/><circle cx="409.5" cy="353.9" r="2.25"/><circle cx="387" cy="375.5" r="2.25"/><circle cx="417.8" cy="335.2" r="2.25"/><circle cx="460.3" cy="380.4" r="2.25"/><circle cx="446.8" cy="381.8" r="2.25"/><circle cx="457.3" cy="382.7" r="2.25"/><circle cx="478.3" cy="394.7" r="2.25"/><circle cx="447" cy="387.7" r="2.25"/><circle cx="380.5" cy="362.4" r="2.25"/><circle cx="423.5" cy="378.8" r="2.25"/><circle cx="377" cy="396.6" r="2.25"/><circle cx="442.7" cy="355.3" r="2.25"/><circle cx="371.6" cy="358.3" r="2.25"/><circle cx="433.5" cy="362.9" r="2.25"/><circle cx="440" cy="365.8" r="2.25"/><circle cx="457.4" cy="367.9" r="2.25"/><circle cx="428.7" cy="394.9" r="2.25"/><circle cx="533.6" cy="378.6" r="2.25"/><circle cx="420.1" cy="357.7" r="2.25"/><circle cx="467.7" cy="361.9" r="2.25"/><circle cx="416.1" cy="372.6" r="2.25"/><circle cx="401.4" cy="351.5" r="2.25"/><circle cx="424.6" cy="334.2" r="2.25"/><circle cx="381.9" cy="357.9" r="2.25"/><circle cx="440.2" cy="374.7" r="2.25"/><circle cx="369.9" cy="354.4" r="2.25"/><circle cx="461.5" cy="393.6" r="2.25"/><circle cx="434.6" cy="359.9" r="2.25"/><circle cx="459.7" cy="371.2" r="2.25"/><circle cx="393.7" cy="352.9" r="2.25"/><circle cx="487" cy="392.5" r="2.25"/><circle cx="479" cy="377.3" r="2.25"/><circle cx="471.2" cy="373.2" r="2.25"/><circle cx="418.3" cy="422" r="2.25"/><circle cx="464.5" cy="373.7" r="2.25"/><circle cx="429.6" cy="382.4" r="2.25"/><circle cx="480.9" cy="377.5" r="2.25"/><circle cx="370.4" cy="358" r="2.25"/><circle cx="434.1" cy="379.2" r="2.25"/><circle cx="481.7" cy="393.3" r="2.25"/><circle cx="468.6" cy="363" r="2.25"/><circle cx="458" cy="422.8" r="2.25"/><circle cx="461.7" cy="387.8" r="2.25"/><circle cx="432.7" cy="411.4" r="2.25"/><circle cx="400" cy="367.6" r="2.25"/><circle cx="448.2" cy="394.5" r="2.25"/><circle cx="416.5" cy="379.3" r="2.25"/><circle cx="423.2" cy="377" r="2.25"/><circle cx="433.6" cy="354.7" r="2.25"/><circle cx="429.8" cy="393.1" r="2.25"/><circle cx="399" cy="364.9" r="2.25"/><circle cx="462.9" cy="362.4" r="2.25"/><circle cx="445" cy="358.7" r="2.25"/><circle cx="467" cy="428.9" r="2.25"/><circle cx="510" cy="388.9" r="2.25"/><circle cx="461" cy="385.1" r="2.25"/><circle cx="431.7" cy="406.6" r="2.25"/><circle cx="380.8" cy="386.2" r="2.25"/><circle cx="426.6" cy="402.8" r="2.25"/><circle cx="443.6" cy="366" r="2.25"/><circle cx="441.4" cy="392.9" r="2.25"/><circle cx="433.4" cy="386.4" r="2.25"/><circle cx="423" cy="333.2" r="2.25"/><circle cx="464.7" cy="397.1" r="2.25"/><circle cx="439.2" cy="379.4" r="2.25"/><circle cx="474.3" cy="376.7" r="2.25"/><circle cx="408.5" cy="367.9" r="2.25"/><circle cx="483.7" cy="360.6" r="2.25"/><circle cx="480.8" cy="374.5" r="2.25"/><circle cx="388.1" cy="391.7" r="2.25"/><circle cx="435.5" cy="352.1" r="2.25"/><circle cx="417" cy="391.5" r="2.25"/><circle cx="480" cy="378.5" r="2.25"/><circle cx="446.3" cy="393.5" r="2.25"/><circle cx="408.6" cy="378.5" r="2.25"/><circle cx="434.9" cy="366.8" r="2.25"/><circle cx="415.4" cy="374.4" r="2.25"/><circle cx="437.3" cy="366.7" r="2.25"/><circle cx="413.8" cy="394.3" r="2.25"/><circle cx="438.5" cy="395.1" r="2.25"/><circle cx="476.3" cy="397.4" r="2.25"/><circle cx="521.7" cy="379.6" r="2.25"/><circle cx="465.3" cy="377.5" r="2.25"/><circle cx="496.3" cy="423.3" r="2.25"/><circle cx="365.2" cy="343.6" r="2.25"/><circle cx="455.6" cy="396.9" r="2.25"/><circle cx="461.7" cy="381.5" r="2.25"/><circle cx="448.3" cy="392.7" r="2.25"/><circle cx="427" cy="395.5" r="2.25"/><circle cx="347.5" cy="370.9" r="2.25"/><circle cx="391.8" cy="386.6" r="2.25"/><circle cx="429" cy="358.7" r="2.25"/><circle cx="451.5" cy="363" r="2.25"/><circle cx="406.3" cy="340.7" r="2.25"/><circle cx="431" cy="386" r="2.25"/><circle cx="472.6" cy="382.4" r="2.25"/><circle cx="472.9" cy="385.6" r="2.25"/><circle cx="428.3" cy="386.9" r="2.25"/><circle cx="474.7" cy="379" r="2.25"/><circle cx="425.6" cy="372.1" r="2.25"/><circle cx="440.6" cy="360.9" r="2.25"/><circle cx="473.8" cy="377.7" r="2.25"/><circle cx="454.4" cy="365.3" r="2.25"/><circle cx="445.8" cy="387.1" r="2.25"/><circle cx="410.4" cy="411.2" r="2.25"/><circle cx="440.8" cy="413" r="2.25"/><circle cx="472.3" cy="372.3" r="2.25"/><circle cx="418.1" cy="382.1" r="2.25"/><circle cx="436.1" cy="378.4" r="2.25"/><circle cx="430.5" cy="341.1" r="2.25"/><circle cx="434.4" cy="334" r="2.25"/><circle cx="450.7" cy="366.4" r="2.25"/><circle cx="408.3" cy="367.3" r="2.25"/><circle cx="449.8" cy="352.5" r="2.25"/><circle cx="373.2" cy="343.4" r="2.25"/><circle cx="361.9" cy="342.9" r="2.25"/><circle cx="497.3" cy="369.9" r="2.25"/><circle cx="463.6" cy="356.7" r="2.25"/><circle cx="446.4" cy="373.4" r="2.25"/><circle cx="429.5" cy="387.1" r="2.25"/><circle cx="498.5" cy="394.5" r="2.25"/><circle cx="442.5" cy="359.9" r="2.25"/><circle cx="456.7" cy="377" r="2.25"/><circle cx="465.1" cy="382.8" r="2.25"/><circle cx="506.5" cy="353.9" r="2.25"/><circle cx="419.5" cy="391" r="2.25"/><circle cx="424.1" cy="359.5" r="2.25"/><circle cx="429.6" cy="349.3" r="2.25"/><circle cx="428.8" cy="423.3" r="2.25"/><circle cx="480.9" cy="365.4" r="2.25"/><circle cx="403.1" cy="362.6" r="2.25"/><circle cx="474.6" cy="369.7" r="2.25"/><circle cx="404.8" cy="388" r="2.25"/><circle cx="467.6" cy="376.9" r="2.25"/><circle cx="398.6" cy="339.4" r="2.25"/><circle cx="416.8" cy="330" r="2.25"/><circle cx="464.4" cy="371.2" r="2.25"/><circle cx="444.5" cy="415.5" r="2.25"/><circle cx="482.1" cy="364.9" r="2.25"/><circle cx="461.7" cy="405.4" r="2.25"/><circle cx="410" cy="353.4" r="2.25"/><circle cx="436.2" cy="346.4" r="2.25"/><circle cx="498.2" cy="343.9" r="2.25"/><circle cx="393.9" cy="363.2" r="2.25"/><circle cx="424.9" cy="378.3" r="2.25"/><circle cx="444.9" cy="375.2" r="2.25"/><circle cx="484.7" cy="346.2" r="2.25"/><circle cx="436.8" cy="363.7" r="2.25"/><circle cx="438.1" cy="382.1" r="2.25"/><circle cx="402.6" cy="357.9" r="2.25"/><circle cx="462.1" cy="389.7" r="2.25"/><circle cx="400.7" cy="409.5" r="2.25"/><circle cx="525.6" cy="368.1" r="2.25"/><circle cx="435.3" cy="426" r="2.25"/><circle cx="462.3" cy="387.3" r="2.25"/><circle cx="428.4" cy="365.3" r="2.25"/><circle cx="428.3" cy="365.1" r="2.25"/><circle cx="463.3" cy="375.5" r="2.25"/><circle cx="422.4" cy="351.2" r="2.25"/><circle cx="435.7" cy="360" r="2.25"/><circle cx="423.2" cy="394.9" r="2.25"/><circle cx="445.6" cy="389.3" r="2.25"/><circle cx="447" cy="380.9" r="2.25"/><circle cx="423.5" cy="370" r="2.25"/><circle cx="476.6" cy="358.5" r="2.25"/><circle cx="499.3" cy="399.9" r="2.25"/><circle cx="391.7" cy="356.3" r="2.25"/><circle cx="390.7" cy="376.8" r="2.25"/><circle cx="381.1" cy="405.8" r="2.25"/><circle cx="403.3" cy="302.2" r="2.25"/><circle cx="404.1" cy="310.9" r="2.25"/><circle cx="417.9" cy="412.3" r="2.25"/><circle cx="472.6" cy="349.4" r="2.25"/><circle cx="374" cy="424.4" r="2.25"/><circle cx="445" cy="385.4" r="2.25"/><circle cx="466" cy="468.8" r="2.25"/><circle cx="496.1" cy="402.4" r="2.25"/><circle cx="442.3" cy="404.3" r="2.25"/><circle cx="403.2" cy="341" r="2.25"/><circle cx="437.9" cy="353.2" r="2.25"/><circle cx="424" cy="383.1" r="2.25"/><circle cx="559.3" cy="386.6" r="2.25"/><circle cx="422.7" cy="374.4" r="2.25"/><circle cx="443.5" cy="418.3" r="2.25"/><circle cx="408" cy="349.8" r="2.25"/><circle cx="347.4" cy="331.3" r="2.25"/><circle cx="456.3" cy="389.5" r="2.25"/><circle cx="376.6" cy="356.3" r="2.25"/><circle cx="425.9" cy="396.6" r="2.25"/><circle cx="398.2" cy="365.6" r="2.25"/><circle cx="339.6" cy="322.2" r="2.25"/><circle cx="530.7" cy="336.7" r="2.25"/><circle cx="408.3" cy="383.1" r="2.25"/><circle cx="414.1" cy="351.7" r="2.25"/><circle cx="424.8" cy="380" r="2.25"/><circle cx="437.7" cy="323.4" r="2.25"/><circle cx="426.5" cy="353.3" r="2.25"/><circle cx="397.1" cy="380.5" r="2.25"/><circle cx="455.5" cy="416.5" r="2.25"/><circle cx="394.6" cy="402.2" r="2.25"/><circle cx="482.1" cy="430.8" r="2.25"/><circle cx="503.3" cy="395.1" r="2.25"/><circle cx="412.5" cy="403.5" r="2.25"/><circle cx="353.5" cy="369.1" r="2.25"/><circle cx="402.5" cy="362.8" r="2.25"/><circle cx="341.7" cy="331" r="2.25"/><circle cx="420.2" cy="407.5" r="2.25"/><circle cx="481.4" cy="391.8" r="2.25"/><circle cx="424.1" cy="353.5" r="2.25"/><circle cx="451.3" cy="378.9" r="2.25"/><circle cx="447.2" cy="441.8" r="2.25"/><circle cx="437.5" cy="335.5" r="2.25"/><circle cx="393" cy="325.7" r="2.25"/><circle cx="354.3" cy="404.3" r="2.25"/><circle cx="451.5" cy="338.3" r="2.25"/><circle cx="453.4" cy="427.6" r="2.25"/><circle cx="413.9" cy="355.9" r="2.25"/><circle cx="407.9" cy="385.1" r="2.25"/><circle cx="453.3" cy="425.1" r="2.25"/><circle cx="483.8" cy="432.8" r="2.25"/><circle cx="495.7" cy="419" r="2.25"/><circle cx="347.3" cy="356.7" r="2.25"/><circle cx="447.6" cy="373.7" r="2.25"/><circle cx="479.3" cy="382.3" r="2.25"/><circle cx="367.8" cy="412.1" r="2.25"/><circle cx="461.9" cy="396.5" r="2.25"/><circle cx="469.5" cy="425.3" r="2.25"/><circle cx="464.6" cy="311.6" r="2.25"/><circle cx="395.4" cy="358.3" r="2.25"/><circle cx="374" cy="373.9" r="2.25"/><circle cx="495.3" cy="382.3" r="2.25"/><circle cx="352.2" cy="426.9" r="2.25"/><circle cx="413.2" cy="337.9" r="2.25"/><circle cx="437.5" cy="397" r="2.25"/><circle cx="384.4" cy="395.4" r="2.25"/><circle cx="408.9" cy="346.8" r="2.25"/><circle cx="431.8" cy="406.6" r="2.25"/><circle cx="391.7" cy="382.5" r="2.25"/><circle cx="401.8" cy="464.7" r="2.25"/><circle cx="379.8" cy="413.2" r="2.25"/><circle cx="426.2" cy="376.5" r="2.25"/><circle cx="459.8" cy="417.5" r="2.25"/><circle cx="493.2" cy="407.7" r="2.25"/><circle cx="400" cy="356.8" r="2.25"/><circle cx="450.8" cy="405.3" r="2.25"/><circle cx="499.5" cy="412.2" r="2.25"/><circle cx="473.2" cy="440.7" r="2.25"/><circle cx="447.9" cy="338.5" r="2.25"/><circle cx="375.8" cy="322.1" r="2.25"/><circle cx="519.3" cy="376.7" r="2.25"/><circle cx="489.3" cy="415" r="2.25"/><circle cx="512" cy="434" r="2.25"/><circle cx="424" cy="373.6" r="2.25"/><circle cx="431.2" cy="387.4" r="2.25"/><circle cx="399.9" cy="373" r="2.25"/><circle cx="526.6" cy="351.2" r="2.25"/><circle cx="448.6" cy="357.2" r="2.25"/><circle cx="431.7" cy="408.8" r="2.25"/><circle cx="419.1" cy="403.5" r="2.25"/><circle cx="391.1" cy="391.7" r="2.25"/><circle cx="457.1" cy="305.7" r="2.25"/><circle cx="386" cy="377.6" r="2.25"/><circle cx="508.8" cy="410.3" r="2.25"/><circle cx="452.3" cy="341.9" r="2.25"/><circle cx="490.8" cy="454.4" r="2.25"/><circle cx="431.2" cy="374.8" r="2.25"/><circle cx="566.8" cy="438.5" r="2.25"/><circle cx="491.4" cy="414.1" r="2.25"/><circle cx="365.4" cy="408.1" r="2.25"/><circle cx="363.7" cy="358.2" r="2.25"/><circle cx="436.3" cy="411.3" r="2.25"/><circle cx="447.3" cy="398.2" r="2.25"/><circle cx="397" cy="332.1" r="2.25"/><circle cx="436.6" cy="360.5" r="2.25"/><circle cx="367.7" cy="325.5" r="2.25"/><circle cx="415.7" cy="318.8" r="2.25"/><circle cx="368.4" cy="313.9" r="2.25"/><circle cx="434.7" cy="395.7" r="2.25"/><circle cx="546.3" cy="362.7" r="2.25"/><circle cx="384.9" cy="399.4" r="2.25"/><circle cx="418.9" cy="368.3" r="2.25"/><circle cx="521.7" cy="393.6" r="2.25"/><circle cx="376.2" cy="326" r="2.25"/><circle cx="443.6" cy="394.6" r="2.25"/><circle cx="362.2" cy="333.1" r="2.25"/><circle cx="452.2" cy="405.5" r="2.25"/><circle cx="389" cy="391.2" r="2.25"/><circle cx="471.9" cy="335" r="2.25"/><circle cx="408.2" cy="389.3" r="2.25"/><circle cx="413.5" cy="309" r="2.25"/><circle cx="407.3" cy="399.9" r="2.25"/><circle cx="528.8" cy="336.1" r="2.25"/><circle cx="575.9" cy="381.9" r="2.25"/><circle cx="469.8" cy="430.9" r="2.25"/><circle cx="479.3" cy="398.6" r="2.25"/><circle cx="361.3" cy="384.4" r="2.25"/><circle cx="408.7" cy="295.6" r="2.25"/><circle cx="573.7" cy="439.9" r="2.25"/><circle cx="531.9" cy="377.8" r="2.25"/><circle cx="494.4" cy="448.3" r="2.25"/><circle cx="511.1" cy="401" r="2.25"/><circle cx="365.2" cy="359.7" r="2.25"/><circle cx="440.3" cy="352.4" r="2.25"/><circle cx="420" cy="375.5" r="2.25"/><circle cx="521.3" cy="445.7" r="2.25"/><circle cx="416.5" cy="416.8" r="2.25"/><circle cx="388.9" cy="360.5" r="2.25"/><circle cx="485.9" cy="355.8" r="2.25"/><circle cx="423" cy="337.6" r="2.25"/><circle cx="422" cy="431.7" r="2.25"/><circle cx="386.2" cy="377.8" r="2.25"/><circle cx="388.7" cy="334.5" r="2.25"/><circle cx="351.1" cy="408.3" r="2.25"/><circle cx="550.5" cy="427" r="2.25"/><circle cx="384.5" cy="392.7" r="2.25"/><circle cx="404.1" cy="400.7" r="2.25"/><circle cx="441.4" cy="393.3" r="2.25"/><circle cx="464.8" cy="371.6" r="2.25"/><circle cx="419.3" cy="323.8" r="2.25"/><circle cx="415.1" cy="332.3" r="2.25"/><circle cx="427.5" cy="350.3" r="2.25"/><circle cx="430" cy="396" r="2.25"/><circle cx="358.3" cy="337.6" r="2.25"/><circle cx="372.1" cy="390.9" r="2.25"/><circle cx="512.7" cy="429.3" r="2.25"/><circle cx="398.4" cy="420.4" r="2.25"/><circle cx="413.8" cy="288.6" r="2.25"/><circle cx="557.6" cy="463.7" r="2.25"/><circle cx="371.7" cy="372.4" r="2.25"/><circle cx="415.8" cy="381.2" r="2.25"/><circle cx="354" cy="340.8" r="2.25"/><circle cx="451.3" cy="393.9" r="2.25"/><circle cx="491.4" cy="399.4" r="2.25"/><circle cx="558.7" cy="390.7" r="2.25"/><circle cx="456.2" cy="326.8" r="2.25"/><circle cx="351.2" cy="404.3" r="2.25"/><circle cx="373.7" cy="384.4" r="2.25"/><circle cx="432.5" cy="348.8" r="2.25"/><circle cx="413.3" cy="360.9" r="2.25"/><circle cx="396.3" cy="397.2" r="2.25"/><circle cx="467.1" cy="372.3" r="2.25"/><circle cx="377.5" cy="377.4" r="2.25"/><circle cx="415" cy="410.6" r="2.25"/><circle cx="563.4" cy="441.7" r="2.25"/><circle cx="427.4" cy="375.4" r="2.25"/><circle cx="389.1" cy="342.3" r="2.25"/><circle cx="377.4" cy="355.8" r="2.25"/><circle cx="399.6" cy="397.7" r="2.25"/><circle cx="408.2" cy="369.8" r="2.25"/><circle cx="350.7" cy="414.3" r="2.25"/><circle cx="441.6" cy="441.6" r="2.25"/><circle cx="459.4" cy="436.4" r="2.25"/><circle cx="409.4" cy="399.3" r="2.25"/><circle cx="581.6" cy="380.2" r="2.25"/><circle cx="478" cy="447.7" r="2.25"/><circle cx="444.7" cy="409.6" r="2.25"/><circle cx="501.3" cy="377.9" r="2.25"/><circle cx="456.9" cy="359.8" r="2.25"/><circle cx="395.8" cy="352.8" r="2.25"/><circle cx="419.1" cy="383.6" r="2.25"/><circle cx="463.6" cy="343.5" r="2.25"/><circle cx="527.3" cy="443.6" r="2.25"/><circle cx="470.4" cy="379.9" r="2.25"/><circle cx="418.9" cy="396.7" r="2.25"/><circle cx="463.4" cy="334.8" r="2.25"/><circle cx="446.1" cy="481" r="2.25"/><circle cx="449.1" cy="382.6" r="2.25"/><circle cx="512.2" cy="363.2" r="2.25"/><circle cx="425.7" cy="428.4" r="2.25"/><circle cx="420.4" cy="365.4" r="2.25"/><circle cx="437.7" cy="368.8" r="2.25"/><circle cx="519.8" cy="374.1" r="2.25"/><circle cx="485.5" cy="354.2" r="2.25"/><circle cx="465.5" cy="386.9" r="2.25"/><circle cx="372.9" cy="352.7" r="2.25"/><circle cx="521" cy="367.5" r="2.25"/><circle cx="358.7" cy="411" r="2.25"/><circle cx="422.5" cy="430.3" r="2.25"/><circle cx="452.6" cy="358.1" r="2.25"/><circle cx="414.9" cy="418.1" r="2.25"/><circle cx="479.6" cy="393.9" r="2.25"/><circle cx="431.5" cy="378.2" r="2.25"/><circle cx="381.4" cy="432.8" r="2.25"/><circle cx="437.1" cy="346.1" r="2.25"/><circle cx="396.2" cy="396.9" r="2.25"/><circle cx="464.3" cy="385.5" r="2.25"/><circle cx="391.1" cy="372.6" r="2.25"/><circle cx="346.2" cy="317.8" r="2.25"/><circle cx="475.5" cy="377.1" r="2.25"/><circle cx="439.2" cy="423.8" r="2.25"/><circle cx="463.5" cy="390.5" r="2.25"/><circle cx="539.6" cy="430.8" r="2.25"/><circle cx="402.9" cy="398.8" r="2.25"/><circle cx="457" cy="360.1" r="2.25"/><circle cx="433.3" cy="376.9" r="2.25"/><circle cx="415.8" cy="363.6" r="2.25"/><circle cx="340.5" cy="347.5" r="2.25"/><circle cx="425" cy="383.6" r="2.25"/><circle cx="360.8" cy="385" r="2.25"/><circle cx="363" cy="357.5" r="2.25"/><circle cx="504.9" cy="377.4" r="2.25"/><circle cx="391.7" cy="407.2" r="2.25"/><circle cx="409.2" cy="366.6" r="2.25"/><circle cx="432" cy="416.5" r="2.25"/><circle cx="381.1" cy="333.7" r="2.25"/><circle cx="387.6" cy="343.4" r="2.25"/><circle cx="451.3" cy="357.7" r="2.25"/><circle cx="431.6" cy="395" r="2.25"/><circle cx="387.1" cy="375.1" r="2.25"/><circle cx="515" cy="413.2" r="2.25"/><circle cx="393.7" cy="370.3" r="2.25"/><circle cx="375.9" cy="376.9" r="2.25"/><circle cx="481.4" cy="367.5" r="2.25"/><circle cx="408.1" cy="412.4" r="2.25"/><circle cx="399.4" cy="380" r="2.25"/><circle cx="378.4" cy="341.9" r="2.25"/><circle cx="383.7" cy="439.5" r="2.25"/><circle cx="410.1" cy="359.6" r="2.25"/><circle cx="399.2" cy="368.5" r="2.25"/><circle cx="461.6" cy="395.4" r="2.25"/><circle cx="536.2" cy="414.8" r="2.25"/><circle cx="503.2" cy="408.6" r="2.25"/><circle cx="471.1" cy="345.6" r="2.25"/><circle cx="421.7" cy="377.2" r="2.25"/><circle cx="431.2" cy="313" r="2.25"/><circle cx="477.9" cy="381.1" r="2.25"/><circle cx="406.5" cy="367.5" r="2.25"/><circle cx="412.8" cy="390.2" r="2.25"/><circle cx="367.2" cy="336.1" r="2.25"/><circle cx="442.4" cy="389.2" r="2.25"/><circle cx="412.2" cy="358.7" r="2.25"/><circle cx="383.9" cy="368.1" r="2.25"/><circle cx="498.9" cy="364.9" r="2.25"/><circle cx="503" cy="426.7" r="2.25"/><circle cx="398" cy="398.5" r="2.25"/><circle cx="362.8" cy="309.4" r="2.25"/><circle cx="362.2" cy="351.5" r="2.25"/><circle cx="414.5" cy="361.2" r="2.25"/><circle cx="449.3" cy="318.1" r="2.25"/><circle cx="465.1" cy="344.9" r="2.25"/><circle cx="395.8" cy="359.8" r="2.25"/><circle cx="376.6" cy="324.4" r="2.25"/><circle cx="374.4" cy="367.3" r="2.25"/><circle cx="455.3" cy="405.8" r="2.25"/><circle cx="380.9" cy="344" r="2.25"/><circle cx="375.5" cy="382.3" r="2.25"/><circle cx="408" cy="351" r="2.25"/><circle cx="438.4" cy="416.6" r="2.25"/><circle cx="438.4" cy="417.2" r="2.25"/><circle cx="425.9" cy="419.8" r="2.25"/><circle cx="495.2" cy="394.6" r="2.25"/><circle cx="503.6" cy="405.1" r="2.25"/><circle cx="439.5" cy="354.4" r="2.25"/><circle cx="406.8" cy="400.5" r="2.25"/><circle cx="353.1" cy="383.1" r="2.25"/><circle cx="444.5" cy="394" r="2.25"/><circle cx="468.3" cy="366.7" r="2.25"/><circle cx="450.7" cy="310.7" r="2.25"/><circle cx="468.8" cy="370" r="2.25"/><circle cx="488.3" cy="337.2" r="2.25"/><circle cx="466.7" cy="383.1" r="2.25"/><circle cx="478" cy="363.9" r="2.25"/><circle cx="378.2" cy="440.2" r="2.25"/><circle cx="389" cy="348.7" r="2.25"/><circle cx="420.9" cy="346.6" r="2.25"/><circle cx="478.6" cy="448.7" r="2.25"/><circle cx="403.4" cy="319.7" r="2.25"/><circle cx="482.2" cy="429.9" r="2.25"/><circle cx="463.2" cy="426.7" r="2.25"/><circle cx="383" cy="364.4" r="2.25"/><circle cx="364.8" cy="319.9" r="2.25"/><circle cx="485.4" cy="373.8" r="2.25"/><circle cx="549.1" cy="413.6" r="2.25"/><circle cx="387.8" cy="396.5" r="2.25"/><circle cx="520.5" cy="419.6" r="2.25"/><circle cx="360.3" cy="376" r="2.25"/><circle cx="505.1" cy="384.5" r="2.25"/><circle cx="379.1" cy="401.3" r="2.25"/><circle cx="443.7" cy="349.7" r="2.25"/><circle cx="413.4" cy="353.2" r="2.25"/><circle cx="443" cy="388.2" r="2.25"/><circle cx="484.1" cy="417.7" r="2.25"/><circle cx="341.5" cy="372.4" r="2.25"/><circle cx="472.4" cy="406.6" r="2.25"/><circle cx="487.1" cy="378.2" r="2.25"/><circle cx="370.3" cy="396.3" r="2.25"/><circle cx="387.3" cy="301.9" r="2.25"/><circle cx="488.1" cy="372.9" r="2.25"/><circle cx="422.2" cy="334.9" r="2.25"/><circle cx="365.9" cy="328.6" r="2.25"/><circle cx="406" cy="387.3" r="2.25"/><circle cx="372.9" cy="333.2" r="2.25"/><circle cx="464.7" cy="387.8" r="2.25"/><circle cx="380.2" cy="377" r="2.25"/><circle cx="428.1" cy="426.1" r="2.25"/><circle cx="396.1" cy="405.3" r="2.25"/><circle cx="380" cy="404.9" r="2.25"/><circle cx="390" cy="360" r="2.25"/><circle cx="526.8" cy="415.8" r="2.25"/><circle cx="417" cy="449.9" r="2.25"/><circle cx="453.4" cy="361.3" r="2.25"/><circle cx="476.1" cy="355.2" r="2.25"/><circle cx="479.2" cy="432.3" r="2.25"/><circle cx="402.1" cy="354.5" r="2.25"/><circle cx="437.3" cy="383.8" r="2.25"/><circle cx="371.6" cy="385.1" r="2.25"/><circle cx="408.5" cy="367.4" r="2.25"/><circle cx="453.6" cy="348.1" r="2.25"/><circle cx="460.8" cy="383.4" r="2.25"/><circle cx="403.6" cy="331.2" r="2.25"/><circle cx="377.1" cy="372" r="2.25"/><circle cx="396.3" cy="362.9" r="2.25"/><circle cx="487.7" cy="464.3" r="2.25"/><circle cx="546.6" cy="411.1" r="2.25"/><circle cx="367.3" cy="407.4" r="2.25"/><circle cx="443.3" cy="449.1" r="2.25"/><circle cx="424.8" cy="444.9" r="2.25"/><circle cx="482.9" cy="442.9" r="2.25"/><circle cx="471" cy="418" r="2.25"/><circle cx="459.8" cy="402.4" r="2.25"/><circle cx="519.5" cy="385.4" r="2.25"/><circle cx="552" cy="425.2" r="2.25"/><circle cx="509.5" cy="406.3" r="2.25"/><circle cx="390.9" cy="479.8" r="2.25"/><circle cx="464.3" cy="313.2" r="2.25"/><circle cx="419.2" cy="350.5" r="2.25"/><circle cx="568.3" cy="451.8" r="2.25"/><circle cx="527.8" cy="359.6" r="2.25"/><circle cx="456.2" cy="427.7" r="2.25"/><circle cx="569.4" cy="397.5" r="2.25"/><circle cx="478.9" cy="415.9" r="2.25"/><circle cx="395" cy="357.3" r="2.25"/><circle cx="491.2" cy="262.2" r="2.25"/><circle cx="473.1" cy="427.6" r="2.25"/><circle cx="458.4" cy="306.8" r="2.25"/><circle cx="529" cy="437" r="2.25"/><circle cx="476.3" cy="481.9" r="2.25"/><circle cx="403.9" cy="411.8" r="2.25"/><circle cx="439.9" cy="375.6" r="2.25"/><circle cx="447.2" cy="382.7" r="2.25"/><circle cx="511.7" cy="420.4" r="2.25"/><circle cx="449.8" cy="367.2" r="2.25"/><circle cx="492" cy="349.3" r="2.25"/><circle cx="425" cy="369.2" r="2.25"/><circle cx="423" cy="364.3" r="2.25"/><circle cx="371.1" cy="468.9" r="2.25"/><circle cx="516.2" cy="442.3" r="2.25"/><circle cx="398.1" cy="492.8" r="2.25"/><circle cx="472.2" cy="389.1" r="2.25"/><circle cx="461.9" cy="408.2" r="2.25"/><circle cx="531.7" cy="421" r="2.25"/><circle cx="590.5" cy="396" r="2.25"/><circle cx="514.3" cy="353.2" r="2.25"/><circle cx="561.8" cy="416.1" r="2.25"/><circle cx="427.2" cy="429.5" r="2.25"/><circle cx="548.4" cy="362.5" r="2.25"/><circle cx="465" cy="306.4" r="2.25"/><circle cx="462.1" cy="383.5" r="2.25"/><circle cx="448.3" cy="341.7" r="2.25"/><circle cx="447.7" cy="337.7" r="2.25"/><circle cx="446.5" cy="474.4" r="2.25"/><circle cx="346.2" cy="328.6" r="2.25"/><circle cx="417.1" cy="398.6" r="2.25"/><circle cx="401.9" cy="352.8" r="2.25"/><circle cx="377.4" cy="392.5" r="2.25"/><circle cx="461.3" cy="379.6" r="2.25"/><circle cx="478.5" cy="382.4" r="2.25"/><circle cx="350.8" cy="374" r="2.25"/><circle cx="471.8" cy="384.9" r="2.25"/><circle cx="479" cy="471.5" r="2.25"/><circle cx="408.8" cy="317.4" r="2.25"/><circle cx="506" cy="496.3" r="2.25"/><circle cx="438" cy="306.8" r="2.25"/><circle cx="427.8" cy="343.5" r="2.25"/><circle cx="362.3" cy="345" r="2.25"/><circle cx="408.2" cy="291.1" r="2.25"/><circle cx="519.4" cy="374.9" r="2.25"/><circle cx="433.4" cy="414.5" r="2.25"/><circle cx="505.5" cy="389.5" r="2.25"/><circle cx="473.7" cy="345" r="2.25"/><circle cx="535.1" cy="463.2" r="2.25"/><circle cx="389.9" cy="356.3" r="2.25"/><circle cx="481" cy="427.6" r="2.25"/><circle cx="522.9" cy="501.3" r="2.25"/><circle cx="423.8" cy="366.4" r="2.25"/><circle cx="374.2" cy="363.9" r="2.25"/><circle cx="397.6" cy="523.7" r="2.25"/><circle cx="506.1" cy="283.2" r="2.25"/><circle cx="411.6" cy="373" r="2.25"/><circle cx="401.6" cy="308.9" r="2.25"/><circle cx="423.5" cy="392.5" r="2.25"/><circle cx="463.4" cy="336.3" r="2.25"/><circle cx="508.8" cy="378.7" r="2.25"/><circle cx="456" cy="303.1" r="2.25"/><circle cx="392.7" cy="396.9" r="2.25"/><circle cx="362.8" cy="339.1" r="2.25"/><circle cx="501.1" cy="385" r="2.25"/><circle cx="491.4" cy="335.6" r="2.25"/><circle cx="500" cy="474.2" r="2.25"/><circle cx="506" cy="303.7" r="2.25"/><circle cx="370.5" cy="406.3" r="2.25"/><circle cx="541.4" cy="444.7" r="2.25"/><circle cx="536.2" cy="387.4" r="2.25"/><circle cx="441.3" cy="380.1" r="2.25"/><circle cx="511.3" cy="319.9" r="2.25"/><circle cx="474.1" cy="475.6" r="2.25"/><circle cx="419" cy="287.3" r="2.25"/><circle cx="486.9" cy="361.6" r="2.25"/><circle cx="471.8" cy="365.3" r="2.25"/><circle cx="567.5" cy="447.3" r="2.25"/><circle cx="407.3" cy="370.3" r="2.25"/><circle cx="411.3" cy="319.8" r="2.25"/><circle cx="486.6" cy="367.5" r="2.25"/><circle cx="387.9" cy="456.4" r="2.25"/><circle cx="481.6" cy="447.5" r="2.25"/><circle cx="470.5" cy="423" r="2.25"/><circle cx="534.3" cy="422.2" r="2.25"/><circle cx="578.4" cy="386.2" r="2.25"/><circle cx="469.7" cy="309.6" r="2.25"/><circle cx="429" cy="283.4" r="2.25"/><circle cx="486.4" cy="257.4" r="2.25"/><circle cx="440.2" cy="264.1" r="2.25"/><circle cx="416.4" cy="245.8" r="2.25"/><circle cx="441.9" cy="233.9" r="2.25"/><circle cx="443.5" cy="272.5" r="2.25"/><circle cx="419" cy="249.8" r="2.25"/><circle cx="395.7" cy="313.2" r="2.25"/><circle cx="397.1" cy="306.3" r="2.25"/><circle cx="459.2" cy="264" r="2.25"/><circle cx="403" cy="294.9" r="2.25"/><circle cx="495.3" cy="251.5" r="2.25"/><circle cx="430.4" cy="295.1" r="2.25"/><circle cx="450.7" cy="316" r="2.25"/><circle cx="421.8" cy="283.9" r="2.25"/><circle cx="400" cy="318.1" r="2.25"/><circle cx="416.6" cy="223.4" r="2.25"/><circle cx="436" cy="268.9" r="2.25"/><circle cx="501.3" cy="264.5" r="2.25"/><circle cx="439.6" cy="285.1" r="2.25"/><circle cx="490.8" cy="270.6" r="2.25"/><circle cx="473.3" cy="283.4" r="2.25"/><circle cx="589.2" cy="277.9" r="2.25"/><circle cx="591.2" cy="266" r="2.25"/><circle cx="598.3" cy="260.4" r="2.25"/><circle cx="598" cy="288.5" r="2.25"/><circle cx="590.4" cy="267.8" r="2.25"/><circle cx="589.6" cy="282.7" r="2.25"/><circle cx="595.5" cy="280.4" r="2.25"/>
</g>
<g fill="#ff0000" fill-opacity="0.32">
<circle cx="630.1" cy="482.1" r="2.25"/><circle cx="621" cy="438" r="2.25"/><circle cx="609.5" cy="493.5" r="2.25"/><circle cx="549.7" cy="487.4" r="2.25"/><circle cx="659.3" cy="419.5" r="2.25"/><circle cx="612.1" cy="435.7" r="2.25"/><circle cx="579.1" cy="558" r="2.25"/><circle cx="565.2" cy="458.4" r="2.25"/><circle cx="569.9" cy="472" r="2.25"/><circle cx="585.2" cy="517.9" r="2.25"/><circle cx="522.1" cy="482.6" r="2.25"/><circle cx="547" cy="452.6" r="2.25"/><circle cx="613.7" cy="517.3" r="2.25"/><circle cx="564" cy="428.7" r="2.25"/><circle cx="569.4" cy="456.8" r="2.25"/><circle cx="648.6" cy="468.3" r="2.25"/><circle cx="590.9" cy="496.9" r="2.25"/><circle cx="596.7" cy="495.8" r="2.25"/><circle cx="630.4" cy="521.1" r="2.25"/><circle cx="605.6" cy="505.8" r="2.25"/><circle cx="682.3" cy="470.3" r="2.25"/><circle cx="635.2" cy="496.8" r="2.25"/><circle cx="592.1" cy="439.2" r="2.25"/><circle cx="525.2" cy="412.4" r="2.25"/><circle cx="551.8" cy="464.2" r="2.25"/><circle cx="507.3" cy="466.7" r="2.25"/><circle cx="599.1" cy="471" r="2.25"/><circle cx="573.6" cy="432.5" r="2.25"/><circle cx="554.4" cy="427.6" r="2.25"/><circle cx="588.3" cy="465.9" r="2.25"/><circle cx="539.3" cy="427" r="2.25"/><circle cx="550.4" cy="450.8" r="2.25"/><circle cx="640.4" cy="533.4" r="2.25"/><circle cx="602.5" cy="422.5" r="2.25"/><circle cx="564.4" cy="392.5" r="2.25"/><circle cx="624.3" cy="470.2" r="2.25"/><circle cx="598.2" cy="456.5" r="2.25"/><circle cx="563.5" cy="506.4" r="2.25"/><circle cx="566.6" cy="444" r="2.25"/><circle cx="540.9" cy="470.4" r="2.25"/><circle cx="568.5" cy="416" r="2.25"/><circle cx="560.4" cy="399.9" r="2.25"/><circle cx="556.5" cy="544.5" r="2.25"/><circle cx="532.8" cy="467.4" r="2.25"/><circle cx="613.4" cy="449.7" r="2.25"/><circle cx="579.3" cy="457.2" r="2.25"/><circle cx="526.4" cy="499" r="2.25"/><circle cx="510.4" cy="430" r="2.25"/><circle cx="607" cy="464.5" r="2.25"/><circle cx="574.8" cy="495.2" r="2.25"/><circle cx="583.1" cy="484.1" r="2.25"/><circle cx="645.5" cy="438.6" r="2.25"/><circle cx="597.5" cy="563.5" r="2.25"/><circle cx="602" cy="520" r="2.25"/><circle cx="537" cy="430.7" r="2.25"/><circle cx="566.4" cy="434.7" r="2.25"/><circle cx="633.6" cy="475.5" r="2.25"/><circle cx="614" cy="420.3" r="2.25"/><circle cx="577.8" cy="468.1" r="2.25"/><circle cx="572.6" cy="434.3" r="2.25"/><circle cx="673.5" cy="489.4" r="2.25"/><circle cx="561.9" cy="423.2" r="2.25"/><circle cx="590.6" cy="552" r="2.25"/><circle cx="609.5" cy="461.2" r="2.25"/><circle cx="551" cy="484.8" r="2.25"/><circle cx="526.9" cy="481.7" r="2.25"/><circle cx="634.2" cy="508.3" r="2.25"/><circle cx="594.8" cy="504.9" r="2.25"/><circle cx="658.9" cy="484.7" r="2.25"/><circle cx="633.7" cy="491.4" r="2.25"/><circle cx="555.9" cy="452.6" r="2.25"/><circle cx="594.8" cy="440.5" r="2.25"/><circle cx="544.8" cy="405.8" r="2.25"/><circle cx="602.1" cy="555.2" r="2.25"/><circle cx="587.2" cy="515.6" r="2.25"/><circle cx="568" cy="454.8" r="2.25"/><circle cx="614.1" cy="451.1" r="2.25"/><circle cx="548" cy="446.8" r="2.25"/><circle cx="592.4" cy="435.9" r="2.25"/><circle cx="603.4" cy="473.6" r="2.25"/><circle cx="621.4" cy="496.3" r="2.25"/><circle cx="572.1" cy="465.3" r="2.25"/><circle cx="590.7" cy="449.3" r="2.25"/><circle cx="557.5" cy="477.8" r="2.25"/><circle cx="585.3" cy="517.9" r="2.25"/><circle cx="531.7" cy="416.7" r="2.25"/><circle cx="567.2" cy="463.4" r="2.25"/><circle cx="578" cy="445.9" r="2.25"/><circle cx="609.7" cy="494.6" r="2.25"/><circle cx="519.9" cy="472.2" r="2.25"/><circle cx="630.6" cy="481.8" r="2.25"/><circle cx="627.6" cy="473.7" r="2.25"/><circle cx="628.9" cy="493.8" r="2.25"/><circle cx="563" cy="440.2" r="2.25"/><circle cx="554.4" cy="454.9" r="2.25"/><circle cx="590.6" cy="475.4" r="2.25"/><circle cx="629.7" cy="366.7" r="2.25"/><circle cx="621.7" cy="426.4" r="2.25"/><circle cx="573.8" cy="503.8" r="2.25"/><circle cx="601.6" cy="467.6" r="2.25"/><circle cx="580.9" cy="462.1" r="2.25"/><circle cx="575.7" cy="441.6" r="2.25"/><circle cx="531.2" cy="474.9" r="2.25"/><circle cx="567.6" cy="492.8" r="2.25"/><circle cx="574.8" cy="465.3" r="2.25"/><circle cx="570.8" cy="476.8" r="2.25"/><circle cx="610.2" cy="497.2" r="2.25"/><circle cx="574.8" cy="433.6" r="2.25"/><circle cx="649" cy="506.1" r="2.25"/><circle cx="548.8" cy="498" r="2.25"/><circle cx="614.3" cy="511.1" r="2.25"/><circle cx="529.3" cy="516.8" r="2.25"/><circle cx="589.3" cy="493.4" r="2.25"/><circle cx="603.8" cy="431.2" r="2.25"/><circle cx="530.3" cy="445.4" r="2.25"/><circle cx="603.2" cy="474.3" r="2.25"/><circle cx="568.7" cy="404.7" r="2.25"/><circle cx="599" cy="426.2" r="2.25"/><circle cx="596.7" cy="521.2" r="2.25"/><circle cx="670.2" cy="564.5" r="2.25"/><circle cx="579.3" cy="433.5" r="2.25"/><circle cx="472.6" cy="366.3" r="2.25"/><circle cx="561.6" cy="488.9" r="2.25"/><circle cx="596.4" cy="500.1" r="2.25"/><circle cx="581" cy="491.6" r="2.25"/><circle cx="655.3" cy="481.6" r="2.25"/><circle cx="593.2" cy="424.5" r="2.25"/><circle cx="619.8" cy="543.3" r="2.25"/><circle cx="632.9" cy="460.4" r="2.25"/><circle cx="595.3" cy="468.8" r="2.25"/><circle cx="591.2" cy="467.5" r="2.25"/><circle cx="610.5" cy="473.9" r="2.25"/><circle cx="611.2" cy="498" r="2.25"/><circle cx="576.5" cy="459.7" r="2.25"/><circle cx="555" cy="478.4" r="2.25"/><circle cx="570.1" cy="470.1" r="2.25"/><circle cx="597.2" cy="423.8" r="2.25"/><circle cx="635.9" cy="467.8" r="2.25"/><circle cx="601.8" cy="497.8" r="2.25"/><circle cx="542.7" cy="404.2" r="2.25"/><circle cx="581.2" cy="436.8" r="2.25"/><circle cx="529.9" cy="457.4" r="2.25"/><circle cx="569.7" cy="473.2" r="2.25"/><circle cx="564.3" cy="466.3" r="2.25"/><circle cx="558.7" cy="449.9" r="2.25"/><circle cx="604.9" cy="486.1" r="2.25"/><circle cx="587.9" cy="431.8" r="2.25"/><circle cx="584.9" cy="482.7" r="2.25"/><circle cx="589.4" cy="444.6" r="2.25"/><circle cx="560.6" cy="544.3" r="2.25"/><circle cx="568.3" cy="470.4" r="2.25"/><circle cx="643.7" cy="417.5" r="2.25"/><circle cx="601.9" cy="456.1" r="2.25"/><circle cx="638.8" cy="499.6" r="2.25"/><circle cx="561.2" cy="444.6" r="2.25"/><circle cx="600.8" cy="460.7" r="2.25"/><circle cx="607" cy="435.8" r="2.25"/><circle cx="563.3" cy="483" r="2.25"/><circle cx="642.6" cy="538.1" r="2.25"/><circle cx="573.8" cy="505.8" r="2.25"/><circle cx="591.9" cy="536.7" r="2.25"/><circle cx="625.6" cy="495.1" r="2.25"/><circle cx="591" cy="481" r="2.25"/><circle cx="592.2" cy="482.7" r="2.25"/><circle cx="594.2" cy="398.7" r="2.25"/><circle cx="596.8" cy="403.5" r="2.25"/><circle cx="587.3" cy="471.9" r="2.25"/><circle cx="513.2" cy="443.4" r="2.25"/><circle cx="614.2" cy="494.7" r="2.25"/><circle cx="611.4" cy="558.6" r="2.25"/><circle cx="523.8" cy="464" r="2.25"/><circle cx="593.3" cy="491.6" r="2.25"/><circle cx="630.9" cy="476.7" r="2.25"/><circle cx="578.5" cy="434.6" r="2.25"/><circle cx="559.9" cy="448.1" r="2.25"/><circle cx="551.8" cy="407.1" r="2.25"/><circle cx="606.8" cy="483.2" r="2.25"/><circle cx="631.9" cy="434.1" r="2.25"/><circle cx="566.9" cy="436.2" r="2.25"/><circle cx="596.5" cy="456.6" r="2.25"/><circle cx="619.2" cy="492.7" r="2.25"/><circle cx="585.4" cy="470.8" r="2.25"/><circle cx="618.5" cy="476.9" r="2.25"/><circle cx="616.8" cy="510.2" r="2.25"/><circle cx="589.7" cy="475" r="2.25"/><circle cx="585.6" cy="508.1" r="2.25"/><circle cx="612" cy="503.6" r="2.25"/><circle cx="614.1" cy="495.5" r="2.25"/><circle cx="630.1" cy="501.7" r="2.25"/><circle cx="487.5" cy="448.8" r="2.25"/><circle cx="609.5" cy="444.4" r="2.25"/><circle cx="593.5" cy="443.4" r="2.25"/><circle cx="651" cy="536.4" r="2.25"/><circle cx="519.5" cy="442.7" r="2.25"/><circle cx="537" cy="506.2" r="2.25"/><circle cx="587.2" cy="388.2" r="2.25"/><circle cx="593.5" cy="463.3" r="2.25"/><circle cx="607.9" cy="407.3" r="2.25"/><circle cx="570.7" cy="521.7" r="2.25"/><circle cx="496.4" cy="449.1" r="2.25"/><circle cx="523.3" cy="512.3" r="2.25"/><circle cx="603.8" cy="476.7" r="2.25"/><circle cx="615.1" cy="511.4" r="2.25"/><circle cx="551.4" cy="471.9" r="2.25"/><circle cx="598.4" cy="413.4" r="2.25"/><circle cx="663.5" cy="514.1" r="2.25"/><circle cx="557.3" cy="462.5" r="2.25"/><circle cx="553.4" cy="396.8" r="2.25"/><circle cx="576.4" cy="444.5" r="2.25"/><circle cx="567.8" cy="499.1" r="2.25"/><circle cx="559.4" cy="469.7" r="2.25"/><circle cx="625.5" cy="459.2" r="2.25"/><circle cx="609.8" cy="453" r="2.25"/><circle cx="614.8" cy="508.6" r="2.25"/><circle cx="609.2" cy="437.9" r="2.25"/><circle cx="602.7" cy="454.4" r="2.25"/><circle cx="612.2" cy="485.4" r="2.25"/><circle cx="539.8" cy="471.5" r="2.25"/><circle cx="621.1" cy="474.3" r="2.25"/><circle cx="631.6" cy="492.8" r="2.25"/><circle cx="571.8" cy="465" r="2.25"/><circle cx="566" cy="439.8" r="2.25"/><circle cx="552.3" cy="503" r="2.25"/><circle cx="642.9" cy="502.5" r="2.25"/><circle cx="643.1" cy="510.6" r="2.25"/><circle cx="583" cy="501.3" r="2.25"/><circle cx="552.8" cy="536.2" r="2.25"/><circle cx="614.8" cy="447.2" r="2.25"/><circle cx="638.7" cy="493.8" r="2.25"/><circle cx="626.9" cy="389.5" r="2.25"/><circle cx="606.2" cy="515.8" r="2.25"/><circle cx="596.2" cy="514.4" r="2.25"/><circle cx="646" cy="512.6" r="2.25"/><circle cx="631.5" cy="476.2" r="2.25"/><circle cx="553.8" cy="486.5" r="2.25"/><circle cx="622.4" cy="447.8" r="2.25"/><circle cx="601.1" cy="474.9" r="2.25"/><circle cx="548.2" cy="459.4" r="2.25"/><circle cx="598.3" cy="421.4" r="2.25"/><circle cx="514.2" cy="484.2" r="2.25"/><circle cx="527.1" cy="436.2" r="2.25"/><circle cx="595.4" cy="501.3" r="2.25"/><circle cx="547" cy="430.5" r="2.25"/><circle cx="575.9" cy="493.1" r="2.25"/><circle cx="582.6" cy="425.1" r="2.25"/><circle cx="601.2" cy="522.8" r="2.25"/><circle cx="608.9" cy="464.8" r="2.25"/><circle cx="597.6" cy="483.2" r="2.25"/><circle cx="636.8" cy="461.3" r="2.25"/><circle cx="591.9" cy="469.1" r="2.25"/><circle cx="541.7" cy="446.5" r="2.25"/><circle cx="593.5" cy="460.9" r="2.25"/><circle cx="624.1" cy="445.8" r="2.25"/><circle cx="575.5" cy="479.1" r="2.25"/><circle cx="576.1" cy="503.5" r="2.25"/><circle cx="568.8" cy="402.3" r="2.25"/><circle cx="585.5" cy="487.2" r="2.25"/><circle cx="649.6" cy="539.8" r="2.25"/><circle cx="539.7" cy="467" r="2.25"/><circle cx="581.1" cy="412.1" r="2.25"/><circle cx="672.1" cy="545.4" r="2.25"/><circle cx="600.5" cy="502.2" r="2.25"/><circle cx="644.5" cy="523.8" r="2.25"/><circle cx="646.5" cy="476.6" r="2.25"/><circle cx="510.3" cy="468.6" r="2.25"/><circle cx="628.5" cy="520.5" r="2.25"/><circle cx="590.1" cy="479.9" r="2.25"/><circle cx="533.4" cy="489.5" r="2.25"/><circle cx="599.5" cy="499.3" r="2.25"/><circle cx="579.9" cy="505.2" r="2.25"/><circle cx="589.8" cy="501.2" r="2.25"/><circle cx="534.4" cy="452.1" r="2.25"/><circle cx="672" cy="514" r="2.25"/><circle cx="564.7" cy="488.3" r="2.25"/><circle cx="608.1" cy="509.9" r="2.25"/><circle cx="518.6" cy="440.3" r="2.25"/><circle cx="557.4" cy="419.4" r="2.25"/><circle cx="609.7" cy="477" r="2.25"/><circle cx="558.3" cy="567.3" r="2.25"/><circle cx="599.9" cy="507.6" r="2.25"/><circle cx="564.5" cy="431.2" r="2.25"/><circle cx="556.5" cy="429.6" r="2.25"/><circle cx="557.8" cy="425.8" r="2.25"/><circle cx="595.2" cy="440.3" r="2.25"/><circle cx="558.5" cy="400.3" r="2.25"/><circle cx="600.1" cy="483.2" r="2.25"/><circle cx="603.1" cy="521.9" r="2.25"/><circle cx="561.1" cy="477.5" r="2.25"/><circle cx="493.5" cy="488.2" r="2.25"/><circle cx="631.3" cy="495.7" r="2.25"/><circle cx="536.9" cy="449.1" r="2.25"/><circle cx="532.2" cy="402.7" r="2.25"/><circle cx="610.3" cy="491.2" r="2.25"/><circle cx="550.8" cy="480.4" r="2.25"/><circle cx="543" cy="450" r="2.25"/><circle cx="582.2" cy="436.6" r="2.25"/><circle cx="619" cy="457.9" r="2.25"/><circle cx="663" cy="505" r="2.25"/><circle cx="675.1" cy="494.9" r="2.25"/><circle cx="627.7" cy="456.6" r="2.25"/><circle cx="534.4" cy="439.2" r="2.25"/><circle cx="631.6" cy="456.6" r="2.25"/><circle cx="641.2" cy="481.3" r="2.25"/><circle cx="583" cy="482.6" r="2.25"/><circle cx="637.9" cy="441.7" r="2.25"/><circle cx="632.7" cy="525.5" r="2.25"/><circle cx="587.9" cy="434.1" r="2.25"/><circle cx="548.7" cy="393.1" r="2.25"/><circle cx="610.4" cy="475.8" r="2.25"/><circle cx="554" cy="427.9" r="2.25"/><circle cx="646.5" cy="502.4" r="2.25"/><circle cx="540.4" cy="487.7" r="2.25"/><circle cx="600.7" cy="483" r="2.25"/><circle cx="590.7" cy="416.6" r="2.25"/><circle cx="551.8" cy="428.1" r="2.25"/><circle cx="570.9" cy="473" r="2.25"/><circle cx="600.7" cy="489.7" r="2.25"/><circle cx="610.6" cy="451.2" r="2.25"/><circle cx="517.5" cy="401.6" r="2.25"/><circle cx="562.5" cy="429.5" r="2.25"/><circle cx="597.2" cy="432.7" r="2.25"/><circle cx="547.2" cy="438.8" r="2.25"/><circle cx="600.7" cy="457.1" r="2.25"/><circle cx="606.6" cy="477.6" r="2.25"/><circle cx="548" cy="444.6" r="2.25"/><circle cx="663.9" cy="502.3" r="2.25"/><circle cx="602.2" cy="533.6" r="2.25"/><circle cx="652.8" cy="488.8" r="2.25"/><circle cx="654.7" cy="524.9" r="2.25"/><circle cx="580" cy="457.8" r="2.25"/><circle cx="605.5" cy="486.8" r="2.25"/><circle cx="556.1" cy="496.6" r="2.25"/><circle cx="577.7" cy="426" r="2.25"/><circle cx="600.8" cy="507.6" r="2.25"/><circle cx="642.8" cy="472.3" r="2.25"/><circle cx="615" cy="509.7" r="2.25"/><circle cx="669.8" cy="485.3" r="2.25"/><circle cx="597.7" cy="468.9" r="2.25"/><circle cx="541" cy="411.5" r="2.25"/><circle cx="633.4" cy="487.8" r="2.25"/><circle cx="544" cy="472.4" r="2.25"/><circle cx="602.8" cy="519.5" r="2.25"/><circle cx="557.9" cy="448.2" r="2.25"/><circle cx="633.3" cy="480.7" r="2.25"/><circle cx="543.7" cy="470.7" r="2.25"/><circle cx="660.9" cy="482.4" r="2.25"/><circle cx="518.1" cy="367.6" r="2.25"/><circle cx="551.4" cy="440.5" r="2.25"/><circle cx="609.5" cy="482.4" r="2.25"/><circle cx="557.4" cy="455.6" r="2.25"/><circle cx="551.6" cy="444" r="2.25"/><circle cx="514.9" cy="518.5" r="2.25"/><circle cx="628.8" cy="470.9" r="2.25"/><circle cx="557.2" cy="433.6" r="2.25"/><circle cx="539.3" cy="409.7" r="2.25"/><circle cx="543.1" cy="472.4" r="2.25"/><circle cx="583.8" cy="439.8" r="2.25"/><circle cx="558" cy="406.8" r="2.25"/><circle cx="586.4" cy="463.1" r="2.25"/><circle cx="636.5" cy="484.1" r="2.25"/><circle cx="618.2" cy="503.6" r="2.25"/><circle cx="620.2" cy="421.1" r="2.25"/><circle cx="526" cy="454.6" r="2.25"/><circle cx="631.1" cy="511.2" r="2.25"/><circle cx="619.3" cy="479.8" r="2.25"/><circle cx="583.5" cy="444.3" r="2.25"/><circle cx="613.7" cy="503.5" r="2.25"/><circle cx="582.5" cy="456" r="2.25"/><circle cx="599.1" cy="492.2" r="2.25"/><circle cx="525.1" cy="490.1" r="2.25"/><circle cx="594" cy="476.9" r="2.25"/><circle cx="619.5" cy="533.1" r="2.25"/><circle cx="572.4" cy="480.7" r="2.25"/><circle cx="558.2" cy="426.8" r="2.25"/><circle cx="483" cy="441.2" r="2.25"/><circle cx="505.4" cy="437.4" r="2.25"/><circle cx="572.7" cy="424.8" r="2.25"/><circle cx="573.4" cy="471.4" r="2.25"/><circle cx="575.5" cy="528.8" r="2.25"/><circle cx="582.2" cy="500.7" r="2.25"/><circle cx="551.1" cy="471.8" r="2.25"/><circle cx="598.6" cy="462.7" r="2.25"/><circle cx="582.7" cy="466" r="2.25"/><circle cx="584.7" cy="484.7" r="2.25"/><circle cx="579.9" cy="438.9" r="2.25"/><circle cx="641.5" cy="448.2" r="2.25"/><circle cx="535.6" cy="491.7" r="2.25"/><circle cx="500.9" cy="383.2" r="2.25"/><circle cx="638.6" cy="447.7" r="2.25"/><circle cx="723.1" cy="474.4" r="2.25"/><circle cx="608.7" cy="545" r="2.25"/><circle cx="621.5" cy="488.3" r="2.25"/><circle cx="613.5" cy="457.5" r="2.25"/><circle cx="633.6" cy="463.8" r="2.25"/><circle cx="557.7" cy="487.1" r="2.25"/><circle cx="551.8" cy="432.3" r="2.25"/><circle cx="614.5" cy="441.7" r="2.25"/><circle cx="620.4" cy="508.4" r="2.25"/><circle cx="531.9" cy="429.7" r="2.25"/><circle cx="569" cy="434" r="2.25"/><circle cx="600.2" cy="454.8" r="2.25"/><circle cx="631.8" cy="477.8" r="2.25"/><circle cx="620.7" cy="494.3" r="2.25"/><circle cx="625" cy="479" r="2.25"/><circle cx="587.3" cy="429" r="2.25"/><circle cx="589" cy="507.7" r="2.25"/><circle cx="637.7" cy="556.1" r="2.25"/><circle cx="597.6" cy="471.3" r="2.25"/><circle cx="599.3" cy="479.4" r="2.25"/><circle cx="620.4" cy="530.8" r="2.25"/><circle cx="567.3" cy="431.7" r="2.25"/><circle cx="628.2" cy="512.8" r="2.25"/><circle cx="555.8" cy="492.8" r="2.25"/><circle cx="576.1" cy="453.2" r="2.25"/><circle cx="603.2" cy="410.5" r="2.25"/><circle cx="637.1" cy="463" r="2.25"/><circle cx="577.9" cy="437.2" r="2.25"/><circle cx="612.1" cy="487.1" r="2.25"/><circle cx="615.2" cy="429.6" r="2.25"/><circle cx="607.9" cy="431.9" r="2.25"/><circle cx="589.5" cy="486.8" r="2.25"/><circle cx="548.4" cy="519.1" r="2.25"/><circle cx="593.3" cy="498.1" r="2.25"/><circle cx="593.5" cy="469" r="2.25"/><circle cx="600" cy="521.7" r="2.25"/><circle cx="520.1" cy="461.9" r="2.25"/><circle cx="586.3" cy="506.6" r="2.25"/><circle cx="623.5" cy="451.9" r="2.25"/><circle cx="511.1" cy="483.9" r="2.25"/><circle cx="619" cy="442.1" r="2.25"/><circle cx="603.8" cy="470.2" r="2.25"/><circle cx="559.8" cy="366.7" r="2.25"/><circle cx="523.2" cy="435.1" r="2.25"/><circle cx="587.7" cy="462.7" r="2.25"/><circle cx="584.5" cy="492" r="2.25"/><circle cx="515.5" cy="408.3" r="2.25"/><circle cx="577.3" cy="418.7" r="2.25"/><circle cx="567.7" cy="452.9" r="2.25"/><circle cx="601.2" cy="427.8" r="2.25"/><circle cx="532.3" cy="506.4" r="2.25"/><circle cx="577.2" cy="401.8" r="2.25"/><circle cx="584.3" cy="491.6" r="2.25"/><circle cx="621.3" cy="454.8" r="2.25"/><circle cx="634.4" cy="476.8" r="2.25"/><circle cx="555.3" cy="425.9" r="2.25"/><circle cx="568.5" cy="484.5" r="2.25"/><circle cx="607.6" cy="485.6" r="2.25"/><circle cx="616.8" cy="496.1" r="2.25"/><circle cx="641.6" cy="459.1" r="2.25"/><circle cx="515.3" cy="448.1" r="2.25"/><circle cx="540.8" cy="426.7" r="2.25"/><circle cx="590.1" cy="455.6" r="2.25"/><circle cx="544.3" cy="492.1" r="2.25"/><circle cx="479.4" cy="426" r="2.25"/><circle cx="666.3" cy="529.9" r="2.25"/><circle cx="571.5" cy="487.1" r="2.25"/><circle cx="671.1" cy="488.5" r="2.25"/><circle cx="591.4" cy="467.7" r="2.25"/><circle cx="602.1" cy="488.3" r="2.25"/><circle cx="615.9" cy="476.8" r="2.25"/><circle cx="598.6" cy="455" r="2.25"/><circle cx="563.8" cy="449.4" r="2.25"/><circle cx="600.6" cy="437.9" r="2.25"/><circle cx="643.3" cy="507.3" r="2.25"/><circle cx="516.3" cy="460.9" r="2.25"/><circle cx="549.4" cy="463" r="2.25"/><circle cx="580" cy="475.6" r="2.25"/><circle cx="601.2" cy="460.5" r="2.25"/><circle cx="550.6" cy="520.4" r="2.25"/><circle cx="504.2" cy="413.7" r="2.25"/><circle cx="619" cy="455.7" r="2.25"/><circle cx="498.2" cy="487" r="2.25"/><circle cx="535.1" cy="510.9" r="2.25"/><circle cx="602.7" cy="485.7" r="2.25"/><circle cx="590.7" cy="497.7" r="2.25"/><circle cx="619.3" cy="511.1" r="2.25"/><circle cx="587" cy="478" r="2.25"/><circle cx="618.7" cy="524.8" r="2.25"/><circle cx="560.5" cy="428.7" r="2.25"/><circle cx="607.8" cy="463.4" r="2.25"/><circle cx="588.5" cy="437.1" r="2.25"/><circle cx="568.2" cy="473.5" r="2.25"/><circle cx="620.3" cy="496" r="2.25"/><circle cx="660.2" cy="521.8" r="2.25"/><circle cx="681" cy="576.9" r="2.25"/><circle cx="611.5" cy="470.7" r="2.25"/><circle cx="487.2" cy="393.2" r="2.25"/><circle cx="557.4" cy="521.3" r="2.25"/><circle cx="502.3" cy="480.6" r="2.25"/><circle cx="563.3" cy="481.1" r="2.25"/><circle cx="492.1" cy="407.7" r="2.25"/><circle cx="560.7" cy="477.7" r="2.25"/><circle cx="608.4" cy="444.6" r="2.25"/><circle cx="606.5" cy="511.4" r="2.25"/><circle cx="588.5" cy="509.9" r="2.25"/><circle cx="624.6" cy="497.9" r="2.25"/><circle cx="561.1" cy="401.3" r="2.25"/><circle cx="620.5" cy="522.2" r="2.25"/><circle cx="596.3" cy="462.1" r="2.25"/><circle cx="585.7" cy="471.4" r="2.25"/><circle cx="585.3" cy="444.3" r="2.25"/><circle cx="658" cy="531.5" r="2.25"/><circle cx="586.4" cy="422.7" r="2.25"/><circle cx="546.5" cy="468.7" r="2.25"/><circle cx="615.8" cy="484.3" r="2.25"/><circle cx="592.2" cy="463.9" r="2.25"/><circle cx="522.6" cy="472.9" r="2.25"/><circle cx="554.6" cy="539.7" r="2.25"/><circle cx="560.5" cy="447.1" r="2.25"/><circle cx="620.8" cy="486.9" r="2.25"/><circle cx="552.3" cy="411.1" r="2.25"/><circle cx="582.5" cy="480.9" r="2.25"/><circle cx="563.9" cy="491.9" r="2.25"/><circle cx="614.6" cy="503.5" r="2.25"/><circle cx="590.4" cy="464.6" r="2.25"/><circle cx="588.4" cy="506.6" r="2.25"/><circle cx="579.2" cy="482.5" r="2.25"/><circle cx="598.3" cy="427.4" r="2.25"/><circle cx="535.9" cy="462.7" r="2.25"/><circle cx="572.9" cy="520.2" r="2.25"/><circle cx="580.3" cy="519.8" r="2.25"/><circle cx="666.3" cy="591.4" r="2.25"/><circle cx="575.8" cy="424.4" r="2.25"/><circle cx="662.1" cy="414.4" r="2.25"/><circle cx="603.9" cy="550.3" r="2.25"/><circle cx="495.9" cy="558.1" r="2.25"/><circle cx="599.4" cy="439.4" r="2.25"/><circle cx="624.1" cy="412.2" r="2.25"/><circle cx="641.3" cy="488.3" r="2.25"/><circle cx="706.7" cy="585.7" r="2.25"/><circle cx="659.9" cy="480.1" r="2.25"/><circle cx="513.8" cy="389.3" r="2.25"/><circle cx="511.4" cy="479.2" r="2.25"/><circle cx="541" cy="562.7" r="2.25"/><circle cx="630.5" cy="552.4" r="2.25"/><circle cx="620" cy="489.9" r="2.25"/><circle cx="621" cy="553.4" r="2.25"/><circle cx="540.4" cy="459.2" r="2.25"/><circle cx="804.6" cy="593" r="2.25"/><circle cx="622.2" cy="412.3" r="2.25"/><circle cx="458.5" cy="463" r="2.25"/><circle cx="604" cy="486.7" r="2.25"/><circle cx="641.4" cy="707.1" r="2.25"/><circle cx="504.4" cy="483.3" r="2.25"/><circle cx="640.5" cy="521.1" r="2.25"/><circle cx="647.5" cy="489" r="2.25"/><circle cx="701.2" cy="582.7" r="2.25"/><circle cx="585.4" cy="557.2" r="2.25"/><circle cx="657.7" cy="538.7" r="2.25"/><circle cx="563.1" cy="586.3" r="2.25"/><circle cx="652.5" cy="486.7" r="2.25"/><circle cx="564.5" cy="402.8" r="2.25"/><circle cx="532" cy="419.7" r="2.25"/><circle cx="715.3" cy="358.3" r="2.25"/><circle cx="586.6" cy="505.5" r="2.25"/><circle cx="663.5" cy="418.4" r="2.25"/><circle cx="732.3" cy="489.3" r="2.25"/><circle cx="568.2" cy="340.5" r="2.25"/><circle cx="570.4" cy="523.5" r="2.25"/><circle cx="687.4" cy="537.5" r="2.25"/><circle cx="553.2" cy="367.3" r="2.25"/><circle cx="554.7" cy="410.4" r="2.25"/><circle cx="479.6" cy="383.2" r="2.25"/><circle cx="664.7" cy="489.9" r="2.25"/><circle cx="684" cy="434" r="2.25"/><circle cx="533.5" cy="355.1" r="2.25"/><circle cx="652.9" cy="585.3" r="2.25"/><circle cx="529.4" cy="514" r="2.25"/><circle cx="526.2" cy="538.9" r="2.25"/><circle cx="665.5" cy="463.8" r="2.25"/><circle cx="701.3" cy="460.5" r="2.25"/><circle cx="604.5" cy="333.2" r="2.25"/><circle cx="632.8" cy="475.9" r="2.25"/><circle cx="623.4" cy="437.9" r="2.25"/><circle cx="733.1" cy="513.6" r="2.25"/><circle cx="508.4" cy="503" r="2.25"/><circle cx="700.5" cy="557.7" r="2.25"/><circle cx="511.3" cy="342.8" r="2.25"/><circle cx="655.4" cy="498" r="2.25"/><circle cx="780.5" cy="463.8" r="2.25"/><circle cx="686.8" cy="463.3" r="2.25"/><circle cx="710.5" cy="528.3" r="2.25"/><circle cx="713" cy="479.8" r="2.25"/><circle cx="556.3" cy="329.4" r="2.25"/><circle cx="610.6" cy="374.9" r="2.25"/><circle cx="643.2" cy="605.6" r="2.25"/><circle cx="674.4" cy="418.8" r="2.25"/><circle cx="631.8" cy="419.6" r="2.25"/><circle cx="703.8" cy="558" r="2.25"/><circle cx="663.8" cy="467.1" r="2.25"/><circle cx="498.9" cy="319" r="2.25"/><circle cx="516.2" cy="431.5" r="2.25"/><circle cx="652.1" cy="423.6" r="2.25"/><circle cx="519.3" cy="538.8" r="2.25"/><circle cx="580.8" cy="363.4" r="2.25"/><circle cx="624.4" cy="413.2" r="2.25"/><circle cx="559.1" cy="475.7" r="2.25"/><circle cx="810.4" cy="448.5" r="2.25"/><circle cx="609" cy="467.5" r="2.25"/><circle cx="613.7" cy="450.7" r="2.25"/><circle cx="546" cy="508" r="2.25"/><circle cx="583.7" cy="435" r="2.25"/><circle cx="607.6" cy="472.3" r="2.25"/><circle cx="558.4" cy="516.3" r="2.25"/><circle cx="604.2" cy="475.8" r="2.25"/><circle cx="649.7" cy="404.2" r="2.25"/><circle cx="595.5" cy="362.2" r="2.25"/><circle cx="655.4" cy="433.6" r="2.25"/><circle cx="525.7" cy="426.5" r="2.25"/><circle cx="722.6" cy="388.7" r="2.25"/><circle cx="732.5" cy="553.2" r="2.25"/><circle cx="560.4" cy="523.6" r="2.25"/><circle cx="642" cy="433.9" r="2.25"/><circle cx="814.6" cy="513.4" r="2.25"/><circle cx="570" cy="511" r="2.25"/><circle cx="539.1" cy="406" r="2.25"/><circle cx="540.7" cy="627.2" r="2.25"/><circle cx="549.6" cy="418.1" r="2.25"/><circle cx="656.1" cy="504" r="2.25"/><circle cx="508.4" cy="429.4" r="2.25"/><circle cx="601.3" cy="497.7" r="2.25"/><circle cx="651.7" cy="582.9" r="2.25"/><circle cx="628.6" cy="504.9" r="2.25"/><circle cx="538.4" cy="402.6" r="2.25"/><circle cx="644.4" cy="453.5" r="2.25"/><circle cx="653.1" cy="422.3" r="2.25"/><circle cx="633.7" cy="670.4" r="2.25"/><circle cx="567.4" cy="470" r="2.25"/><circle cx="543" cy="528.7" r="2.25"/><circle cx="640.2" cy="492.5" r="2.25"/><circle cx="590.7" cy="462.1" r="2.25"/><circle cx="512" cy="455.3" r="2.25"/><circle cx="538.4" cy="461.5" r="2.25"/><circle cx="576.1" cy="537.1" r="2.25"/><circle cx="568.5" cy="525.5" r="2.25"/><circle cx="520.3" cy="455.4" r="2.25"/><circle cx="587.8" cy="466.1" r="2.25"/><circle cx="578.5" cy="524.8" r="2.25"/><circle cx="453.1" cy="383.1" r="2.25"/><circle cx="454.4" cy="461.7" r="2.25"/><circle cx="511.2" cy="307.2" r="2.25"/><circle cx="423.6" cy="478.2" r="2.25"/><circle cx="514.4" cy="407.7" r="2.25"/><circle cx="647.7" cy="332.8" r="2.25"/><circle cx="560.3" cy="488.1" r="2.25"/><circle cx="559.9" cy="512.2" r="2.25"/><circle cx="585.6" cy="448.1" r="2.25"/><circle cx="570.1" cy="466.8" r="2.25"/><circle cx="733.9" cy="583.2" r="2.25"/><circle cx="651.6" cy="439.3" r="2.25"/><circle cx="497.1" cy="514.2" r="2.25"/><circle cx="569.5" cy="356" r="2.25"/><circle cx="622.6" cy="435.9" r="2.25"/><circle cx="850.7" cy="425.2" r="2.25"/><circle cx="608.6" cy="526.3" r="2.25"/><circle cx="557.8" cy="371.4" r="2.25"/><circle cx="575.9" cy="583.9" r="2.25"/><circle cx="610.9" cy="326.4" r="2.25"/><circle cx="619.2" cy="605" r="2.25"/><circle cx="679.3" cy="318.5" r="2.25"/><circle cx="724.9" cy="527.6" r="2.25"/><circle cx="694.8" cy="520.2" r="2.25"/><circle cx="603.6" cy="420.4" r="2.25"/><circle cx="659" cy="625" r="2.25"/><circle cx="496.6" cy="302.9" r="2.25"/><circle cx="755.3" cy="534" r="2.25"/><circle cx="513.7" cy="397.6" r="2.25"/><circle cx="608.2" cy="454.8" r="2.25"/><circle cx="590.2" cy="423.5" r="2.25"/><circle cx="565.3" cy="462.7" r="2.25"/><circle cx="565.4" cy="407.9" r="2.25"/><circle cx="547.7" cy="535.7" r="2.25"/><circle cx="643.4" cy="478.4" r="2.25"/><circle cx="633.9" cy="517" r="2.25"/><circle cx="669.5" cy="550.8" r="2.25"/><circle cx="685.8" cy="635.9" r="2.25"/><circle cx="626.2" cy="439.5" r="2.25"/><circle cx="654.3" cy="541" r="2.25"/><circle cx="666.2" cy="374.1" r="2.25"/><circle cx="465.5" cy="394.1" r="2.25"/><circle cx="634.4" cy="552.3" r="2.25"/><circle cx="476.4" cy="462.2" r="2.25"/><circle cx="557.5" cy="461.9" r="2.25"/><circle cx="675.2" cy="439.7" r="2.25"/><circle cx="655" cy="313.9" r="2.25"/><circle cx="620.4" cy="313.4" r="2.25"/><circle cx="641" cy="491.7" r="2.25"/><circle cx="663.2" cy="533.2" r="2.25"/><circle cx="551.9" cy="454.4" r="2.25"/><circle cx="558.7" cy="482.2" r="2.25"/><circle cx="675.6" cy="423.6" r="2.25"/><circle cx="609.9" cy="469.4" r="2.25"/><circle cx="552.9" cy="503.2" r="2.25"/><circle cx="750.7" cy="530.8" r="2.25"/><circle cx="679.6" cy="315.7" r="2.25"/><circle cx="620.7" cy="433.8" r="2.25"/><circle cx="444.3" cy="373.9" r="2.25"/><circle cx="684.9" cy="452.5" r="2.25"/><circle cx="625.1" cy="390.2" r="2.25"/><circle cx="729.6" cy="415" r="2.25"/><circle cx="508.8" cy="565.3" r="2.25"/><circle cx="596.4" cy="496.2" r="2.25"/><circle cx="649.9" cy="389.3" r="2.25"/><circle cx="592.9" cy="488.3" r="2.25"/><circle cx="524.2" cy="434.5" r="2.25"/><circle cx="657.6" cy="591.9" r="2.25"/><circle cx="538.2" cy="328.6" r="2.25"/><circle cx="451.4" cy="447.7" r="2.25"/><circle cx="627" cy="538.3" r="2.25"/><circle cx="596.9" cy="352.9" r="2.25"/><circle cx="613.4" cy="475.8" r="2.25"/><circle cx="544.5" cy="431.3" r="2.25"/><circle cx="649" cy="512" r="2.25"/><circle cx="624.3" cy="288.9" r="2.25"/><circle cx="586.6" cy="462.6" r="2.25"/><circle cx="610.9" cy="427.6" r="2.25"/><circle cx="532.6" cy="473.3" r="2.25"/><circle cx="603.1" cy="470.6" r="2.25"/><circle cx="567.6" cy="380.4" r="2.25"/><circle cx="665.3" cy="415" r="2.25"/><circle cx="534.8" cy="383" r="2.25"/><circle cx="690.7" cy="537.9" r="2.25"/><circle cx="722.6" cy="531.9" r="2.25"/><circle cx="647.1" cy="368.2" r="2.25"/><circle cx="511.2" cy="521.6" r="2.25"/><circle cx="605.3" cy="525.8" r="2.25"/><circle cx="663.2" cy="501" r="2.25"/><circle cx="592.3" cy="462.7" r="2.25"/><circle cx="641.5" cy="526.9" r="2.25"/><circle cx="641.1" cy="499.9" r="2.25"/><circle cx="567.3" cy="411.7" r="2.25"/><circle cx="502.6" cy="477.7" r="2.25"/><circle cx="469.5" cy="347.1" r="2.25"/><circle cx="798.2" cy="566.4" r="2.25"/><circle cx="530.9" cy="407.7" r="2.25"/><circle cx="711.6" cy="521.6" r="2.25"/><circle cx="652.1" cy="502.9" r="2.25"/><circle cx="455" cy="633" r="2.25"/><circle cx="639.3" cy="437.9" r="2.25"/><circle cx="561" cy="463.7" r="2.25"/><circle cx="609.6" cy="532.2" r="2.25"/><circle cx="681.3" cy="388.7" r="2.25"/><circle cx="663.1" cy="474.6" r="2.25"/><circle cx="652.6" cy="364.1" r="2.25"/><circle cx="600.7" cy="394.2" r="2.25"/><circle cx="669.4" cy="378.4" r="2.25"/><circle cx="610.5" cy="475.9" r="2.25"/><circle cx="557.1" cy="372.6" r="2.25"/><circle cx="512.7" cy="476.2" r="2.25"/><circle cx="443.9" cy="318.1" r="2.25"/><circle cx="510.1" cy="356.7" r="2.25"/><circle cx="699.1" cy="471.5" r="2.25"/><circle cx="656.9" cy="423.2" r="2.25"/><circle cx="714.1" cy="617.8" r="2.25"/><circle cx="748.1" cy="444.6" r="2.25"/><circle cx="488" cy="474.1" r="2.25"/><circle cx="608.6" cy="441" r="2.25"/><circle cx="687.9" cy="408.8" r="2.25"/><circle cx="667" cy="506.1" r="2.25"/><circle cx="674.2" cy="450.6" r="2.25"/><circle cx="678.1" cy="450.3" r="2.25"/><circle cx="634.1" cy="580.8" r="2.25"/><circle cx="656.4" cy="542.5" r="2.25"/><circle cx="769.4" cy="338.4" r="2.25"/><circle cx="683.5" cy="492" r="2.25"/><circle cx="630.6" cy="454.1" r="2.25"/><circle cx="534" cy="364" r="2.25"/><circle cx="600.9" cy="582.8" r="2.25"/><circle cx="604.4" cy="381.2" r="2.25"/><circle cx="753.1" cy="487.2" r="2.25"/><circle cx="759.4" cy="573.7" r="2.25"/><circle cx="507.7" cy="479.5" r="2.25"/><circle cx="793.3" cy="466.9" r="2.25"/><circle cx="736" cy="528.1" r="2.25"/><circle cx="734.9" cy="518.6" r="2.25"/><circle cx="477.6" cy="416" r="2.25"/><circle cx="592.2" cy="636.4" r="2.25"/><circle cx="707.5" cy="594" r="2.25"/><circle cx="616.4" cy="423.3" r="2.25"/><circle cx="625.1" cy="402.1" r="2.25"/><circle cx="697.3" cy="302.1" r="2.25"/><circle cx="626.1" cy="473.3" r="2.25"/><circle cx="765.6" cy="640.3" r="2.25"/><circle cx="554.1" cy="475.1" r="2.25"/><circle cx="548.5" cy="368.6" r="2.25"/><circle cx="418.1" cy="456.4" r="2.25"/><circle cx="703.3" cy="426.6" r="2.25"/><circle cx="568.4" cy="519" r="2.25"/><circle cx="631.9" cy="513.5" r="2.25"/><circle cx="576.5" cy="385.1" r="2.25"/><circle cx="580.9" cy="525.1" r="2.25"/><circle cx="598.6" cy="358" r="2.25"/><circle cx="732.9" cy="468.9" r="2.25"/><circle cx="679.6" cy="534.7" r="2.25"/><circle cx="603.5" cy="613.4" r="2.25"/><circle cx="629.6" cy="546.5" r="2.25"/><circle cx="574.5" cy="378.7" r="2.25"/><circle cx="595.1" cy="589" r="2.25"/><circle cx="616.7" cy="672.9" r="2.25"/><circle cx="626" cy="493.7" r="2.25"/><circle cx="683.8" cy="517.9" r="2.25"/><circle cx="650.8" cy="401.1" r="2.25"/><circle cx="727.7" cy="452.8" r="2.25"/><circle cx="707.5" cy="408.2" r="2.25"/><circle cx="733.5" cy="460.7" r="2.25"/><circle cx="738.4" cy="414.8" r="2.25"/><circle cx="531.6" cy="513.3" r="2.25"/><circle cx="551.2" cy="429.3" r="2.25"/><circle cx="672.9" cy="305.6" r="2.25"/><circle cx="616.4" cy="507" r="2.25"/><circle cx="508.5" cy="443.9" r="2.25"/><circle cx="596.1" cy="366.7" r="2.25"/><circle cx="640.6" cy="426.2" r="2.25"/><circle cx="841.5" cy="490" r="2.25"/><circle cx="624.4" cy="561.6" r="2.25"/><circle cx="540.9" cy="263.9" r="2.25"/><circle cx="672.4" cy="466" r="2.25"/><circle cx="592.6" cy="552.6" r="2.25"/><circle cx="629.1" cy="384.5" r="2.25"/><circle cx="406.8" cy="340.3" r="2.25"/><circle cx="532.1" cy="437.6" r="2.25"/><circle cx="685.9" cy="396" r="2.25"/><circle cx="691.5" cy="616.9" r="2.25"/><circle cx="722.1" cy="439" r="2.25"/><circle cx="605.2" cy="413.2" r="2.25"/><circle cx="628.5" cy="378.8" r="2.25"/><circle cx="633.9" cy="501.5" r="2.25"/><circle cx="659.2" cy="454.6" r="2.25"/><circle cx="697.3" cy="542.2" r="2.25"/><circle cx="441.1" cy="290.1" r="2.25"/><circle cx="568" cy="520.1" r="2.25"/><circle cx="600.7" cy="436.1" r="2.25"/><circle cx="536.7" cy="471.8" r="2.25"/><circle cx="604.7" cy="407.8" r="2.25"/><circle cx="535.5" cy="461.4" r="2.25"/><circle cx="642.8" cy="340.3" r="2.25"/><circle cx="685.8" cy="456.1" r="2.25"/><circle cx="622.3" cy="506.1" r="2.25"/><circle cx="655.6" cy="588.4" r="2.25"/><circle cx="577.4" cy="427.2" r="2.25"/><circle cx="449.7" cy="499.8" r="2.25"/><circle cx="586.2" cy="570.5" r="2.25"/><circle cx="673.6" cy="329" r="2.25"/><circle cx="718.6" cy="548.8" r="2.25"/><circle cx="619.3" cy="476" r="2.25"/><circle cx="636.5" cy="530" r="2.25"/><circle cx="452.5" cy="449.8" r="2.25"/><circle cx="593.2" cy="411.8" r="2.25"/><circle cx="698.5" cy="607.5" r="2.25"/><circle cx="664.3" cy="339.4" r="2.25"/><circle cx="601.4" cy="505.9" r="2.25"/><circle cx="657.7" cy="388.4" r="2.25"/><circle cx="606.8" cy="352.1" r="2.25"/><circle cx="593.7" cy="525.2" r="2.25"/><circle cx="716.2" cy="474.6" r="2.25"/><circle cx="606.1" cy="510.5" r="2.25"/><circle cx="581.3" cy="431.4" r="2.25"/><circle cx="756.6" cy="585.3" r="2.25"/><circle cx="693.6" cy="484.9" r="2.25"/><circle cx="685.8" cy="367" r="2.25"/><circle cx="561" cy="535.1" r="2.25"/><circle cx="713.9" cy="642.5" r="2.25"/><circle cx="659.3" cy="503.8" r="2.25"/><circle cx="575.4" cy="426.3" r="2.25"/><circle cx="688.6" cy="450.6" r="2.25"/><circle cx="719.9" cy="455.1" r="2.25"/><circle cx="525.5" cy="316.5" r="2.25"/><circle cx="548.6" cy="301" r="2.25"/><circle cx="701.9" cy="511.3" r="2.25"/><circle cx="579.9" cy="545.3" r="2.25"/><circle cx="723.6" cy="499.8" r="2.25"/><circle cx="691.9" cy="555.7" r="2.25"/><circle cx="594" cy="492.2" r="2.25"/><circle cx="541.7" cy="347.7" r="2.25"/><circle cx="579" cy="496.5" r="2.25"/><circle cx="590.4" cy="439.7" r="2.25"/><circle cx="623.6" cy="598.2" r="2.25"/><circle cx="614.9" cy="579.5" r="2.25"/><circle cx="595.5" cy="427.5" r="2.25"/><circle cx="647.4" cy="464.3" r="2.25"/><circle cx="507.2" cy="537.8" r="2.25"/><circle cx="637.4" cy="398.9" r="2.25"/><circle cx="571.3" cy="598.9" r="2.25"/><circle cx="567" cy="542.7" r="2.25"/><circle cx="600.7" cy="414.9" r="2.25"/><circle cx="568.2" cy="422.7" r="2.25"/><circle cx="792.1" cy="490.5" r="2.25"/><circle cx="771.7" cy="489.2" r="2.25"/><circle cx="560.6" cy="503.5" r="2.25"/><circle cx="645.8" cy="514.4" r="2.25"/><circle cx="478.1" cy="404.1" r="2.25"/><circle cx="432.2" cy="565.9" r="2.25"/><circle cx="588.8" cy="466.4" r="2.25"/><circle cx="549.1" cy="379.9" r="2.25"/><circle cx="478.4" cy="458.7" r="2.25"/><circle cx="569.9" cy="486" r="2.25"/><circle cx="583.3" cy="401.9" r="2.25"/><circle cx="745" cy="473.7" r="2.25"/><circle cx="465.4" cy="399" r="2.25"/><circle cx="547.9" cy="382.5" r="2.25"/><circle cx="711.5" cy="463.7" r="2.25"/><circle cx="703.5" cy="470.2" r="2.25"/><circle cx="664.7" cy="619.4" r="2.25"/><circle cx="586.8" cy="429.6" r="2.25"/><circle cx="543.8" cy="435.8" r="2.25"/><circle cx="754.6" cy="438.7" r="2.25"/><circle cx="732.8" cy="434.2" r="2.25"/><circle cx="623.9" cy="317.2" r="2.25"/><circle cx="761.3" cy="575.7" r="2.25"/><circle cx="657.6" cy="438.5" r="2.25"/><circle cx="775.8" cy="395.8" r="2.25"/><circle cx="522.8" cy="597.5" r="2.25"/><circle cx="583.8" cy="447.7" r="2.25"/><circle cx="694" cy="452.1" r="2.25"/><circle cx="574" cy="523.8" r="2.25"/><circle cx="610.7" cy="497.7" r="2.25"/><circle cx="573.8" cy="467" r="2.25"/><circle cx="555.9" cy="554.6" r="2.25"/><circle cx="674.3" cy="488.2" r="2.25"/><circle cx="406.1" cy="384.7" r="2.25"/><circle cx="704.3" cy="450" r="2.25"/><circle cx="515.1" cy="297.8" r="2.25"/><circle cx="722.7" cy="449.9" r="2.25"/><circle cx="569.8" cy="455.8" r="2.25"/><circle cx="701" cy="526.7" r="2.25"/><circle cx="627.4" cy="428.6" r="2.25"/><circle cx="685.5" cy="611.2" r="2.25"/><circle cx="662.8" cy="378.8" r="2.25"/><circle cx="531.1" cy="460.3" r="2.25"/><circle cx="523.1" cy="482.2" r="2.25"/><circle cx="626" cy="501.5" r="2.25"/><circle cx="638.5" cy="528.4" r="2.25"/><circle cx="563.8" cy="403.6" r="2.25"/><circle cx="830.5" cy="512.9" r="2.25"/><circle cx="533.8" cy="504.9" r="2.25"/><circle cx="634.1" cy="410.1" r="2.25"/><circle cx="494.5" cy="430.8" r="2.25"/><circle cx="627.7" cy="600" r="2.25"/><circle cx="572.7" cy="530.3" r="2.25"/><circle cx="530.6" cy="423.8" r="2.25"/><circle cx="556" cy="442.1" r="2.25"/><circle cx="621.9" cy="567" r="2.25"/><circle cx="488.3" cy="490.8" r="2.25"/><circle cx="620.2" cy="381.6" r="2.25"/><circle cx="660.1" cy="371.1" r="2.25"/><circle cx="600.4" cy="483.3" r="2.25"/><circle cx="575.4" cy="487.5" r="2.25"/><circle cx="589.1" cy="450.4" r="2.25"/><circle cx="506.4" cy="395.8" r="2.25"/><circle cx="569.2" cy="396.5" r="2.25"/><circle cx="597.4" cy="472.5" r="2.25"/><circle cx="557.9" cy="290.7" r="2.25"/><circle cx="570.6" cy="478.7" r="2.25"/><circle cx="601.1" cy="536.8" r="2.25"/><circle cx="685.3" cy="561" r="2.25"/><circle cx="653.2" cy="404.2" r="2.25"/><circle cx="563.1" cy="390.7" r="2.25"/><circle cx="622.2" cy="492.5" r="2.25"/><circle cx="618.6" cy="457.2" r="2.25"/><circle cx="648.8" cy="510.1" r="2.25"/><circle cx="620.7" cy="499.2" r="2.25"/><circle cx="615.2" cy="377.6" r="2.25"/><circle cx="630.2" cy="515.4" r="2.25"/><circle cx="613.3" cy="430.4" r="2.25"/><circle cx="807.6" cy="536.2" r="2.25"/><circle cx="585.4" cy="470.7" r="2.25"/><circle cx="524" cy="414.7" r="2.25"/><circle cx="703" cy="611.8" r="2.25"/><circle cx="633.1" cy="532.9" r="2.25"/><circle cx="580.5" cy="528.2" r="2.25"/><circle cx="618.2" cy="433.2" r="2.25"/><circle cx="582" cy="524.6" r="2.25"/><circle cx="608" cy="522.5" r="2.25"/><circle cx="416.8" cy="434.2" r="2.25"/><circle cx="725.6" cy="662.9" r="2.25"/><circle cx="624.1" cy="399.9" r="2.25"/><circle cx="672.8" cy="421.8" r="2.25"/><circle cx="686" cy="471.6" r="2.25"/><circle cx="625" cy="594.8" r="2.25"/><circle cx="453.4" cy="380.7" r="2.25"/><circle cx="619.9" cy="347.6" r="2.25"/><circle cx="576.5" cy="421.9" r="2.25"/><circle cx="749.3" cy="428.4" r="2.25"/><circle cx="604.4" cy="638.1" r="2.25"/><circle cx="632.5" cy="528.4" r="2.25"/><circle cx="659.6" cy="396" r="2.25"/><circle cx="634.7" cy="515.6" r="2.25"/><circle cx="558.7" cy="654.4" r="2.25"/><circle cx="646.9" cy="527.8" r="2.25"/><circle cx="780.1" cy="465.5" r="2.25"/><circle cx="545.1" cy="386.2" r="2.25"/><circle cx="536.1" cy="473.9" r="2.25"/><circle cx="517.3" cy="552.6" r="2.25"/><circle cx="689.8" cy="588.2" r="2.25"/><circle cx="558.7" cy="482.9" r="2.25"/><circle cx="714.5" cy="444" r="2.25"/><circle cx="608" cy="525.3" r="2.25"/><circle cx="562.7" cy="569.6" r="2.25"/><circle cx="733.6" cy="478.6" r="2.25"/><circle cx="655.5" cy="423" r="2.25"/><circle cx="689.6" cy="444.1" r="2.25"/><circle cx="662.5" cy="535.5" r="2.25"/><circle cx="688" cy="506.4" r="2.25"/><circle cx="434.1" cy="496.6" r="2.25"/><circle cx="542.7" cy="538.5" r="2.25"/><circle cx="615.2" cy="527.5" r="2.25"/><circle cx="729.8" cy="578.4" r="2.25"/><circle cx="774.2" cy="449.1" r="2.25"/><circle cx="684.8" cy="495.7" r="2.25"/><circle cx="602" cy="459.7" r="2.25"/><circle cx="568.5" cy="581.2" r="2.25"/><circle cx="476.6" cy="375" r="2.25"/><circle cx="512.2" cy="498.6" r="2.25"/><circle cx="562.6" cy="471.6" r="2.25"/><circle cx="555.8" cy="485.3" r="2.25"/><circle cx="701.6" cy="493.8" r="2.25"/><circle cx="674.2" cy="384.7" r="2.25"/><circle cx="598.7" cy="531.9" r="2.25"/><circle cx="525.7" cy="504" r="2.25"/><circle cx="539" cy="252.2" r="2.25"/><circle cx="531.9" cy="367.3" r="2.25"/><circle cx="616.6" cy="462.3" r="2.25"/><circle cx="577.3" cy="505.3" r="2.25"/><circle cx="630.1" cy="367.6" r="2.25"/><circle cx="435.1" cy="527.8" r="2.25"/><circle cx="449.7" cy="336.9" r="2.25"/><circle cx="697.1" cy="568.1" r="2.25"/><circle cx="552.1" cy="424.3" r="2.25"/><circle cx="624.4" cy="580.9" r="2.25"/><circle cx="515.8" cy="465.5" r="2.25"/><circle cx="584.6" cy="543.9" r="2.25"/><circle cx="726.4" cy="515.9" r="2.25"/><circle cx="491.2" cy="416.2" r="2.25"/><circle cx="711.8" cy="596.1" r="2.25"/><circle cx="529.4" cy="619.2" r="2.25"/><circle cx="499.7" cy="466.8" r="2.25"/><circle cx="568.8" cy="440.1" r="2.25"/><circle cx="555.9" cy="559.9" r="2.25"/><circle cx="566.6" cy="387.2" r="2.25"/><circle cx="477.1" cy="414.3" r="2.25"/><circle cx="561.5" cy="467.8" r="2.25"/><circle cx="549.5" cy="390.6" r="2.25"/><circle cx="694.1" cy="508.2" r="2.25"/><circle cx="635.3" cy="528.7" r="2.25"/><circle cx="651" cy="356.2" r="2.25"/><circle cx="676" cy="525.8" r="2.25"/><circle cx="766" cy="396.9" r="2.25"/><circle cx="581.2" cy="256.1" r="2.25"/><circle cx="505.8" cy="483.2" r="2.25"/><circle cx="654.2" cy="492.6" r="2.25"/><circle cx="590" cy="517.5" r="2.25"/><circle cx="573.9" cy="474.1" r="2.25"/><circle cx="712.4" cy="344.1" r="2.25"/><circle cx="528.1" cy="526.7" r="2.25"/><circle cx="589.4" cy="437.6" r="2.25"/><circle cx="588.3" cy="406.8" r="2.25"/><circle cx="704.1" cy="506.9" r="2.25"/><circle cx="651.9" cy="321.1" r="2.25"/><circle cx="447.7" cy="420.8" r="2.25"/><circle cx="742.3" cy="388.7" r="2.25"/><circle cx="654.4" cy="536.1" r="2.25"/><circle cx="525.2" cy="469.8" r="2.25"/><circle cx="544.5" cy="312.9" r="2.25"/><circle cx="554.1" cy="327.8" r="2.25"/><circle cx="730.4" cy="431.7" r="2.25"/><circle cx="568.3" cy="351.8" r="2.25"/><circle cx="640.1" cy="455.8" r="2.25"/><circle cx="703.5" cy="467.6" r="2.25"/><circle cx="539.9" cy="371.2" r="2.25"/><circle cx="653.1" cy="412.7" r="2.25"/><circle cx="556.9" cy="586.7" r="2.25"/><circle cx="568.1" cy="438.4" r="2.25"/><circle cx="736" cy="495" r="2.25"/><circle cx="595.8" cy="357.5" r="2.25"/><circle cx="619.1" cy="515" r="2.25"/><circle cx="599.1" cy="459.3" r="2.25"/><circle cx="667.5" cy="579.6" r="2.25"/><circle cx="510.8" cy="392.6" r="2.25"/><circle cx="589.2" cy="511.4" r="2.25"/><circle cx="621.9" cy="414.1" r="2.25"/><circle cx="651.7" cy="335.2" r="2.25"/><circle cx="634" cy="426.6" r="2.25"/><circle cx="687.2" cy="425.9" r="2.25"/><circle cx="620.1" cy="383" r="2.25"/><circle cx="505.3" cy="450" r="2.25"/><circle cx="559.1" cy="465" r="2.25"/><circle cx="526.3" cy="411.4" r="2.25"/><circle cx="508.9" cy="348.5" r="2.25"/><circle cx="550.6" cy="470.8" r="2.25"/><circle cx="631" cy="460.4" r="2.25"/><circle cx="663.2" cy="515.1" r="2.25"/><circle cx="617.8" cy="533.7" r="2.25"/><circle cx="618" cy="440.7" r="2.25"/><circle cx="651.4" cy="453.2" r="2.25"/><circle cx="592.9" cy="546" r="2.25"/><circle cx="687.9" cy="481.7" r="2.25"/><circle cx="520.4" cy="393" r="2.25"/><circle cx="556" cy="519.8" r="2.25"/><circle cx="591.7" cy="429.4" r="2.25"/><circle cx="683.2" cy="469.9" r="2.25"/><circle cx="528.4" cy="553.8" r="2.25"/><circle cx="691.8" cy="573" r="2.25"/><circle cx="669.8" cy="417.3" r="2.25"/><circle cx="648.3" cy="492.4" r="2.25"/><circle cx="647.8" cy="441.4" r="2.25"/><circle cx="617.3" cy="449.4" r="2.25"/><circle cx="574.4" cy="560.8" r="2.25"/><circle cx="704.9" cy="381.4" r="2.25"/><circle cx="606" cy="318.7" r="2.25"/><circle cx="530.4" cy="453.7" r="2.25"/><circle cx="664.1" cy="445.7" r="2.25"/><circle cx="660.9" cy="429.6" r="2.25"/><circle cx="566.3" cy="306.4" r="2.25"/><circle cx="490.2" cy="501.1" r="2.25"/><circle cx="462.8" cy="466.4" r="2.25"/><circle cx="713.5" cy="516.8" r="2.25"/><circle cx="632.2" cy="422.1" r="2.25"/><circle cx="581.6" cy="498.1" r="2.25"/><circle cx="570" cy="519.7" r="2.25"/><circle cx="681.7" cy="540.5" r="2.25"/><circle cx="636.5" cy="473.3" r="2.25"/><circle cx="681.3" cy="412.3" r="2.25"/><circle cx="631.1" cy="492.9" r="2.25"/><circle cx="459.7" cy="543.6" r="2.25"/><circle cx="576.3" cy="360.2" r="2.25"/><circle cx="710.3" cy="360.3" r="2.25"/><circle cx="616.3" cy="330.7" r="2.25"/><circle cx="546.3" cy="403.7" r="2.25"/><circle cx="587.9" cy="541.3" r="2.25"/><circle cx="619.5" cy="570.5" r="2.25"/><circle cx="672" cy="462.2" r="2.25"/><circle cx="710.7" cy="487.6" r="2.25"/><circle cx="503.1" cy="519.2" r="2.25"/><circle cx="658" cy="512.7" r="2.25"/><circle cx="628.2" cy="549.7" r="2.25"/><circle cx="516.1" cy="385.8" r="2.25"/><circle cx="520.4" cy="407.8" r="2.25"/><circle cx="506" cy="506.2" r="2.25"/><circle cx="681.1" cy="438.3" r="2.25"/><circle cx="658.9" cy="387.7" r="2.25"/><circle cx="590.6" cy="494.2" r="2.25"/><circle cx="708.9" cy="359.5" r="2.25"/><circle cx="565.2" cy="473" r="2.25"/><circle cx="584.5" cy="543.6" r="2.25"/><circle cx="496.1" cy="425.9" r="2.25"/><circle cx="555.3" cy="438.5" r="2.25"/><circle cx="611.1" cy="520.7" r="2.25"/><circle cx="561.1" cy="441.6" r="2.25"/><circle cx="584.3" cy="317.7" r="2.25"/><circle cx="652.5" cy="484.5" r="2.25"/><circle cx="528.7" cy="327.9" r="2.25"/><circle cx="547.4" cy="552.3" r="2.25"/><circle cx="652.6" cy="559.4" r="2.25"/><circle cx="485.6" cy="363.8" r="2.25"/><circle cx="628.3" cy="506.9" r="2.25"/><circle cx="649.8" cy="466.9" r="2.25"/><circle cx="675.9" cy="635.4" r="2.25"/><circle cx="643.9" cy="397.1" r="2.25"/><circle cx="781" cy="530.7" r="2.25"/><circle cx="617.6" cy="632.6" r="2.25"/><circle cx="530.2" cy="429.1" r="2.25"/><circle cx="563.9" cy="472.4" r="2.25"/><circle cx="553" cy="590.5" r="2.25"/><circle cx="653.1" cy="488.9" r="2.25"/><circle cx="702.6" cy="500.4" r="2.25"/><circle cx="491.4" cy="573.2" r="2.25"/><circle cx="571.2" cy="389.3" r="2.25"/><circle cx="657" cy="399.5" r="2.25"/><circle cx="414.6" cy="415.4" r="2.25"/><circle cx="589.1" cy="356.3" r="2.25"/><circle cx="653.9" cy="356.1" r="2.25"/><circle cx="519.6" cy="385.1" r="2.25"/><circle cx="803.6" cy="694.7" r="2.25"/><circle cx="788.8" cy="404.2" r="2.25"/><circle cx="698.2" cy="368.2" r="2.25"/><circle cx="713.1" cy="499.1" r="2.25"/><circle cx="637.1" cy="452.7" r="2.25"/><circle cx="667.4" cy="300.4" r="2.25"/><circle cx="765.9" cy="400.2" r="2.25"/><circle cx="537.8" cy="343.4" r="2.25"/><circle cx="547.3" cy="420.7" r="2.25"/><circle cx="705.9" cy="552.2" r="2.25"/><circle cx="644.9" cy="473.1" r="2.25"/><circle cx="819.8" cy="388" r="2.25"/><circle cx="718.9" cy="416.6" r="2.25"/><circle cx="514.5" cy="361.4" r="2.25"/><circle cx="557" cy="468.7" r="2.25"/><circle cx="871.4" cy="371.8" r="2.25"/><circle cx="501.9" cy="593.1" r="2.25"/><circle cx="619.6" cy="628.3" r="2.25"/><circle cx="725.2" cy="359.6" r="2.25"/><circle cx="481.3" cy="421.2" r="2.25"/><circle cx="761" cy="476.9" r="2.25"/><circle cx="587.5" cy="454.5" r="2.25"/><circle cx="488.7" cy="295.7" r="2.25"/><circle cx="506.4" cy="581.1" r="2.25"/><circle cx="629.4" cy="356.7" r="2.25"/><circle cx="450.9" cy="597.6" r="2.25"/><circle cx="647.2" cy="495.5" r="2.25"/><circle cx="604.7" cy="416.6" r="2.25"/><circle cx="756.1" cy="488.5" r="2.25"/><circle cx="612.8" cy="492.1" r="2.25"/><circle cx="710.4" cy="538.3" r="2.25"/><circle cx="801.4" cy="571.7" r="2.25"/><circle cx="601" cy="375.8" r="2.25"/><circle cx="704.6" cy="553.5" r="2.25"/><circle cx="531.6" cy="419" r="2.25"/><circle cx="460.1" cy="280.3" r="2.25"/><circle cx="633.9" cy="548" r="2.25"/><circle cx="501.4" cy="463.5" r="2.25"/><circle cx="826.2" cy="570" r="2.25"/><circle cx="791.5" cy="400.7" r="2.25"/><circle cx="410.5" cy="350.2" r="2.25"/><circle cx="620.1" cy="474.8" r="2.25"/><circle cx="592.7" cy="390.7" r="2.25"/><circle cx="598" cy="644.7" r="2.25"/><circle cx="709.3" cy="320.3" r="2.25"/><circle cx="708.7" cy="599.4" r="2.25"/><circle cx="680" cy="523.1" r="2.25"/><circle cx="837.4" cy="642" r="2.25"/><circle cx="788.9" cy="362.1" r="2.25"/><circle cx="617.1" cy="362.6" r="2.25"/><circle cx="604.4" cy="480.4" r="2.25"/><circle cx="453.7" cy="525.5" r="2.25"/><circle cx="558" cy="342.3" r="2.25"/><circle cx="726.8" cy="384.6" r="2.25"/><circle cx="642.2" cy="547.4" r="2.25"/><circle cx="484.9" cy="573.8" r="2.25"/><circle cx="618.8" cy="484.1" r="2.25"/><circle cx="642.4" cy="261.3" r="2.25"/><circle cx="590" cy="385.2" r="2.25"/><circle cx="539.6" cy="478.2" r="2.25"/><circle cx="607.9" cy="376.2" r="2.25"/><circle cx="472.1" cy="437.8" r="2.25"/><circle cx="577" cy="441.7" r="2.25"/><circle cx="631" cy="528.1" r="2.25"/><circle cx="754" cy="538.8" r="2.25"/><circle cx="569.2" cy="496.9" r="2.25"/><circle cx="682.7" cy="472.6" r="2.25"/><circle cx="663.3" cy="424.2" r="2.25"/><circle cx="637.2" cy="580.8" r="2.25"/><circle cx="514.1" cy="595" r="2.25"/><circle cx="501.1" cy="321.8" r="2.25"/><circle cx="811.8" cy="559.2" r="2.25"/><circle cx="751.8" cy="412.8" r="2.25"/><circle cx="762.5" cy="443.1" r="2.25"/><circle cx="514.4" cy="343.1" r="2.25"/><circle cx="651.4" cy="340.6" r="2.25"/><circle cx="656.3" cy="356.3" r="2.25"/><circle cx="635.5" cy="460.8" r="2.25"/><circle cx="725" cy="482.3" r="2.25"/><circle cx="586.6" cy="258.7" r="2.25"/><circle cx="511.8" cy="550.9" r="2.25"/><circle cx="746" cy="476.7" r="2.25"/><circle cx="786.4" cy="446.1" r="2.25"/><circle cx="745.4" cy="508.3" r="2.25"/><circle cx="661.3" cy="562.8" r="2.25"/><circle cx="582.9" cy="460.4" r="2.25"/><circle cx="534.7" cy="370" r="2.25"/><circle cx="688" cy="518.8" r="2.25"/><circle cx="470.4" cy="457" r="2.25"/><circle cx="525" cy="271.3" r="2.25"/><circle cx="735.4" cy="397.8" r="2.25"/><circle cx="703.6" cy="657" r="2.25"/><circle cx="610.2" cy="373.6" r="2.25"/><circle cx="592.8" cy="253.8" r="2.25"/><circle cx="631.2" cy="537.8" r="2.25"/><circle cx="644.7" cy="504.7" r="2.25"/><circle cx="554.8" cy="441" r="2.25"/><circle cx="492.3" cy="344.8" r="2.25"/><circle cx="683.5" cy="668.7" r="2.25"/><circle cx="606.3" cy="397.8" r="2.25"/><circle cx="646.1" cy="695.3" r="2.25"/><circle cx="516.7" cy="311.1" r="2.25"/><circle cx="575.5" cy="565.2" r="2.25"/><circle cx="511.9" cy="440.2" r="2.25"/><circle cx="455.3" cy="608.4" r="2.25"/><circle cx="676.5" cy="481.6" r="2.25"/><circle cx="533" cy="509.4" r="2.25"/>
</g>
<polygon points="619.7,443.6 621.5,448.7 626.9,448.8 622.6,452 624.1,457.2 619.7,454.1 615.3,457.2 616.9,452 612.6,448.8 618,448.7" fill="#ff0000" fill-opacity="0.85"/>
<polygon points="476.2,366.8 478,371.9 483.4,372 479.1,375.3 480.7,380.4 476.2,377.3 471.8,380.4 473.4,375.3 469.1,372 474.5,371.9" fill="#0000ff" fill-opacity="0.85"/>
<g font-size="29.0" text-anchor="middle" fill="#000" stroke="#000" stroke-width="0.35">
<text x="738.4" y="926.3">−330</text>
<text x="781.4" y="870.7">−320</text>
<text x="823.5" y="816.4">−310</text>
<text x="864.6" y="763.3">−300</text>
<text x="904.8" y="711.3">−290</text>
<text x="944.1" y="660.5">−280</text>
<text x="982.6" y="610.8">−270</text>
<text x="616" y="930.7">−170</text>
<text x="553.8" y="905.2">−160</text>
<text x="492.3" y="879.9">−150</text>
<text x="431.3" y="854.8">−140</text>
<text x="371" y="830">−130</text>
<text x="311.4" y="805.5">−120</text>
<text x="252.3" y="781.2">−110</text>
<text x="193.8" y="757.2">−100</text>
<text x="95.3" y="670">−150</text>
<text x="92" y="629">−140</text>
<text x="88.7" y="587.3">−130</text>
<text x="85.3" y="545.1">−120</text>
<text x="81.9" y="502.3">−110</text>
<text x="78.4" y="459">−100</text>
<text x="74.9" y="414.9">−90</text>
<text x="71.4" y="370.3">−80</text>
</g>
<text transform="translate(915.4 770.2) rotate(-51.78)" font-size="29.0" text-anchor="middle" y="8.4" stroke="#000" stroke-width="0.35">X [pc]</text>
<text transform="translate(369.4 873.3) rotate(22.11)" font-size="29.0" text-anchor="middle" y="8.4" stroke="#000" stroke-width="0.35">Y [pc]</text>
<text transform="translate(14.2 511) rotate(85.99)" font-size="29.0" text-anchor="middle" y="8.4" stroke="#000" stroke-width="0.35">Z [pc]</text>
<path d="M154.1 225.6H199.2" stroke="#00ff00" stroke-width="4.7"/>
<text x="219.6" y="235.2" font-size="29.0" stroke="#000" stroke-width="0.35">a axis<tspan font-size="20.3" font-style="italic" dy="5.1">ASCC</tspan><tspan font-size="20.3">19</tspan></text>
<path d="M154.1 269.1H199.2" stroke="#ff8c00" stroke-width="4.7"/>
<text x="219.6" y="278.7" font-size="29.0" stroke="#000" stroke-width="0.35">b axis<tspan font-size="20.3" font-style="italic" dy="5.1">ASCC</tspan><tspan font-size="20.3">19</tspan></text>
<path d="M154.1 312.6H199.2" stroke="#0000ff" stroke-width="4.7"/>
<text x="219.6" y="322.2" font-size="29.0" stroke="#000" stroke-width="0.35">c axis<tspan font-size="20.3" font-style="italic" dy="5.1">ASCC</tspan><tspan font-size="20.3">19</tspan></text>
<path d="M154.1 356.1H199.2" stroke="#ff1493" stroke-width="4.7"/>
<text x="219.6" y="365.7" font-size="29.0" stroke="#000" stroke-width="0.35">a axis<tspan font-size="20.3" font-style="italic" dy="5.1">ASCC</tspan><tspan font-size="20.3">21</tspan></text>
<path d="M154.1 399.6H199.2" stroke="#ff0000" stroke-width="4.7"/>
<text x="219.6" y="409.2" font-size="29.0" stroke="#000" stroke-width="0.35">b axis<tspan font-size="20.3" font-style="italic" dy="5.1">ASCC</tspan><tspan font-size="20.3">21</tspan></text>
<path d="M154.1 443.1H199.2" stroke="#00bfbf" stroke-width="4.7"/>
<text x="219.6" y="452.7" font-size="29.0" stroke="#000" stroke-width="0.35">c axis<tspan font-size="20.3" font-style="italic" dy="5.1">ASCC</tspan><tspan font-size="20.3">21</tspan></text>
<path d="M155.8 486.6H195.4" stroke="#000" stroke-opacity="0.8" stroke-width="4.7" stroke-dasharray="16.1 6.96"/>
<text x="219.6" y="496.2" font-size="29.0" stroke="#000" stroke-width="0.35">24.49 pc</text>
</svg>
</body></html>
